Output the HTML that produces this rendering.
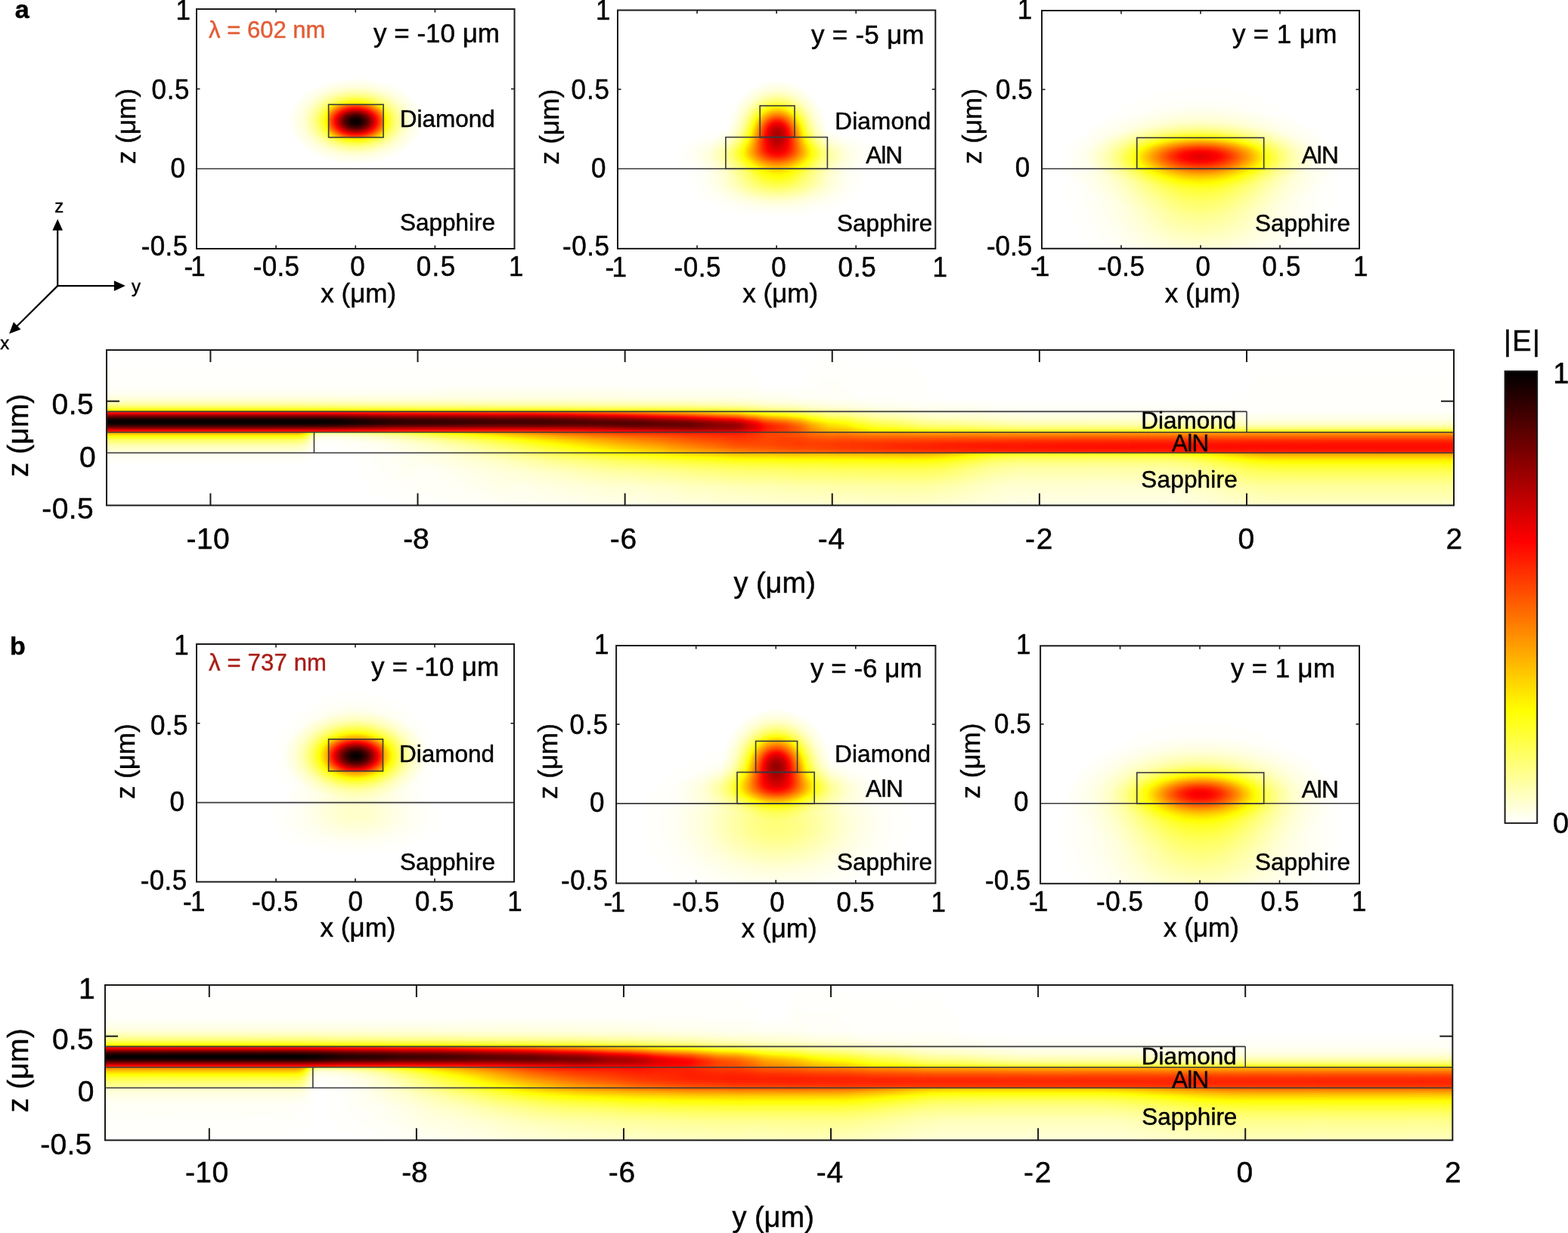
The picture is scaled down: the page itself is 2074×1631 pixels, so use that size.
<!DOCTYPE html>
<html><head><meta charset="utf-8"><title>Mode evolution</title>
<style>html,body{margin:0;padding:0;background:#fff;overflow:hidden}svg{display:block}text{font-family:'Liberation Sans', Arial, Helvetica, sans-serif;stroke:#000;stroke-width:0.45px}</style>
</head><body>
<svg xmlns="http://www.w3.org/2000/svg" width="2074" height="1631" viewBox="0 0 2074 1631">
<defs><filter id="hot" x="0" y="0" width="1" height="1" color-interpolation-filters="sRGB"><feComponentTransfer><feFuncR type="table" tableValues="1 1 1 1 1 1 0.6667 0.3333 0"/><feFuncG type="table" tableValues="1 1 1 0.6667 0.3333 0 0 0 0"/><feFuncB type="table" tableValues="1 0.5 0 0 0 0 0 0 0"/></feComponentTransfer></filter><linearGradient id="g1" gradientUnits="userSpaceOnUse" x1="0" y1="460.27" x2="0" y2="671.23"><stop offset="0.0000" stop-color="#000000"/><stop offset="0.2345" stop-color="#010101"/><stop offset="0.2814" stop-color="#030303"/><stop offset="0.3126" stop-color="#080808"/><stop offset="0.3413" stop-color="#111111"/><stop offset="0.3647" stop-color="#212121"/><stop offset="0.3830" stop-color="#363636"/><stop offset="0.3908" stop-color="#444444"/><stop offset="0.3986" stop-color="#545454"/><stop offset="0.3986" stop-color="#858585"/><stop offset="0.4219" stop-color="#c3c3c3"/><stop offset="0.4375" stop-color="#e6e6e6"/><stop offset="0.4504" stop-color="#f8f8f8"/><stop offset="0.4634" stop-color="#ffffff"/><stop offset="0.4763" stop-color="#f8f8f8"/><stop offset="0.4893" stop-color="#e6e6e6"/><stop offset="0.5048" stop-color="#c3c3c3"/><stop offset="0.5281" stop-color="#858585"/><stop offset="0.5281" stop-color="#6b6b6b"/><stop offset="0.5385" stop-color="#575757"/><stop offset="0.5514" stop-color="#424242"/><stop offset="0.5644" stop-color="#333333"/><stop offset="0.5799" stop-color="#252525"/><stop offset="0.6136" stop-color="#121212"/><stop offset="0.6576" stop-color="#070707"/><stop offset="0.6576" stop-color="#040404"/><stop offset="0.7328" stop-color="#000000"/><stop offset="1.0000" stop-color="#000000"/></linearGradient><linearGradient id="g2" gradientUnits="userSpaceOnUse" x1="0" y1="460.27" x2="0" y2="671.23"><stop offset="0.0000" stop-color="#000000"/><stop offset="0.2345" stop-color="#010101"/><stop offset="0.2814" stop-color="#030303"/><stop offset="0.3126" stop-color="#080808"/><stop offset="0.3413" stop-color="#111111"/><stop offset="0.3647" stop-color="#212121"/><stop offset="0.3830" stop-color="#363636"/><stop offset="0.3908" stop-color="#444444"/><stop offset="0.3986" stop-color="#545454"/><stop offset="0.3986" stop-color="#858585"/><stop offset="0.4219" stop-color="#c3c3c3"/><stop offset="0.4375" stop-color="#e6e6e6"/><stop offset="0.4504" stop-color="#f8f8f8"/><stop offset="0.4634" stop-color="#ffffff"/><stop offset="0.4763" stop-color="#f8f8f8"/><stop offset="0.4893" stop-color="#e6e6e6"/><stop offset="0.5048" stop-color="#c3c3c3"/><stop offset="0.5281" stop-color="#858585"/><stop offset="0.5281" stop-color="#262626"/><stop offset="0.5333" stop-color="#1c1c1c"/><stop offset="0.5411" stop-color="#111111"/><stop offset="0.5514" stop-color="#090909"/><stop offset="0.5618" stop-color="#050505"/><stop offset="0.5903" stop-color="#010101"/><stop offset="0.6576" stop-color="#000000"/><stop offset="1.0000" stop-color="#000000"/></linearGradient><linearGradient id="g3" gradientUnits="userSpaceOnUse" x1="0" y1="460.27" x2="0" y2="671.23"><stop offset="0.0000" stop-color="#000000"/><stop offset="0.2345" stop-color="#010101"/><stop offset="0.2814" stop-color="#030303"/><stop offset="0.3126" stop-color="#070707"/><stop offset="0.3413" stop-color="#111111"/><stop offset="0.3647" stop-color="#202020"/><stop offset="0.3830" stop-color="#363636"/><stop offset="0.3908" stop-color="#434343"/><stop offset="0.3986" stop-color="#545454"/><stop offset="0.3986" stop-color="#848484"/><stop offset="0.4219" stop-color="#c2c2c2"/><stop offset="0.4375" stop-color="#e5e5e5"/><stop offset="0.4504" stop-color="#f7f7f7"/><stop offset="0.4634" stop-color="#fefefe"/><stop offset="0.4763" stop-color="#f7f7f7"/><stop offset="0.4893" stop-color="#e5e5e5"/><stop offset="0.5048" stop-color="#c2c2c2"/><stop offset="0.5281" stop-color="#848484"/><stop offset="0.5281" stop-color="#272727"/><stop offset="0.5333" stop-color="#1d1d1d"/><stop offset="0.5411" stop-color="#121212"/><stop offset="0.5514" stop-color="#0a0a0a"/><stop offset="0.5618" stop-color="#050505"/><stop offset="0.5903" stop-color="#010101"/><stop offset="0.6576" stop-color="#000000"/><stop offset="1.0000" stop-color="#000000"/></linearGradient><linearGradient id="g4" gradientUnits="userSpaceOnUse" x1="0" y1="460.27" x2="0" y2="671.23"><stop offset="0.0000" stop-color="#000000"/><stop offset="0.2345" stop-color="#010101"/><stop offset="0.2814" stop-color="#030303"/><stop offset="0.3126" stop-color="#070707"/><stop offset="0.3413" stop-color="#111111"/><stop offset="0.3647" stop-color="#202020"/><stop offset="0.3830" stop-color="#353535"/><stop offset="0.3908" stop-color="#424242"/><stop offset="0.3986" stop-color="#535353"/><stop offset="0.3986" stop-color="#838383"/><stop offset="0.4219" stop-color="#c0c0c0"/><stop offset="0.4375" stop-color="#e2e2e2"/><stop offset="0.4504" stop-color="#f4f4f4"/><stop offset="0.4634" stop-color="#fbfbfb"/><stop offset="0.4763" stop-color="#f4f4f4"/><stop offset="0.4893" stop-color="#e2e2e2"/><stop offset="0.5048" stop-color="#c0c0c0"/><stop offset="0.5281" stop-color="#838383"/><stop offset="0.5281" stop-color="#292929"/><stop offset="0.5359" stop-color="#1b1b1b"/><stop offset="0.5436" stop-color="#121212"/><stop offset="0.5540" stop-color="#0a0a0a"/><stop offset="0.5644" stop-color="#060606"/><stop offset="0.5929" stop-color="#020202"/><stop offset="0.6576" stop-color="#010101"/><stop offset="0.6576" stop-color="#000000"/><stop offset="1.0000" stop-color="#000000"/></linearGradient><linearGradient id="g5" gradientUnits="userSpaceOnUse" x1="0" y1="460.27" x2="0" y2="671.23"><stop offset="0.0000" stop-color="#000000"/><stop offset="0.2345" stop-color="#010101"/><stop offset="0.2814" stop-color="#030303"/><stop offset="0.3126" stop-color="#070707"/><stop offset="0.3413" stop-color="#101010"/><stop offset="0.3647" stop-color="#1f1f1f"/><stop offset="0.3830" stop-color="#353535"/><stop offset="0.3986" stop-color="#515151"/><stop offset="0.3986" stop-color="#818181"/><stop offset="0.4219" stop-color="#bdbdbd"/><stop offset="0.4375" stop-color="#dedede"/><stop offset="0.4504" stop-color="#f0f0f0"/><stop offset="0.4634" stop-color="#f7f7f7"/><stop offset="0.4763" stop-color="#f1f1f1"/><stop offset="0.4893" stop-color="#dfdfdf"/><stop offset="0.5048" stop-color="#bdbdbd"/><stop offset="0.5281" stop-color="#818181"/><stop offset="0.5281" stop-color="#2c2c2c"/><stop offset="0.5359" stop-color="#1e1e1e"/><stop offset="0.5436" stop-color="#151515"/><stop offset="0.5540" stop-color="#0d0d0d"/><stop offset="0.5670" stop-color="#080808"/><stop offset="0.5980" stop-color="#030303"/><stop offset="0.6576" stop-color="#010101"/><stop offset="1.0000" stop-color="#000000"/></linearGradient><linearGradient id="g6" gradientUnits="userSpaceOnUse" x1="0" y1="460.27" x2="0" y2="671.23"><stop offset="0.0000" stop-color="#000000"/><stop offset="0.2345" stop-color="#010101"/><stop offset="0.2814" stop-color="#030303"/><stop offset="0.3126" stop-color="#070707"/><stop offset="0.3413" stop-color="#101010"/><stop offset="0.3647" stop-color="#1f1f1f"/><stop offset="0.3830" stop-color="#343434"/><stop offset="0.3986" stop-color="#505050"/><stop offset="0.3986" stop-color="#7f7f7f"/><stop offset="0.4219" stop-color="#bababa"/><stop offset="0.4375" stop-color="#dbdbdb"/><stop offset="0.4504" stop-color="#ededed"/><stop offset="0.4634" stop-color="#f3f3f3"/><stop offset="0.4763" stop-color="#ededed"/><stop offset="0.4893" stop-color="#dbdbdb"/><stop offset="0.5048" stop-color="#bbbbbb"/><stop offset="0.5281" stop-color="#808080"/><stop offset="0.5281" stop-color="#303030"/><stop offset="0.5359" stop-color="#232323"/><stop offset="0.5436" stop-color="#1a1a1a"/><stop offset="0.5540" stop-color="#111111"/><stop offset="0.5670" stop-color="#0b0b0b"/><stop offset="0.5980" stop-color="#040404"/><stop offset="0.6576" stop-color="#020202"/><stop offset="1.0000" stop-color="#000000"/></linearGradient><linearGradient id="g7" gradientUnits="userSpaceOnUse" x1="0" y1="460.27" x2="0" y2="671.23"><stop offset="0.0000" stop-color="#000000"/><stop offset="0.2345" stop-color="#010101"/><stop offset="0.2814" stop-color="#030303"/><stop offset="0.3126" stop-color="#070707"/><stop offset="0.3413" stop-color="#101010"/><stop offset="0.3647" stop-color="#1f1f1f"/><stop offset="0.3830" stop-color="#333333"/><stop offset="0.3986" stop-color="#4f4f4f"/><stop offset="0.3986" stop-color="#7d7d7d"/><stop offset="0.4219" stop-color="#b8b8b8"/><stop offset="0.4375" stop-color="#d8d8d8"/><stop offset="0.4504" stop-color="#eaeaea"/><stop offset="0.4634" stop-color="#f0f0f0"/><stop offset="0.4763" stop-color="#eaeaea"/><stop offset="0.4893" stop-color="#d8d8d8"/><stop offset="0.5048" stop-color="#b8b8b8"/><stop offset="0.5281" stop-color="#7e7e7e"/><stop offset="0.5281" stop-color="#353535"/><stop offset="0.5359" stop-color="#282828"/><stop offset="0.5462" stop-color="#1c1c1c"/><stop offset="0.5695" stop-color="#0e0e0e"/><stop offset="0.6006" stop-color="#070707"/><stop offset="0.6576" stop-color="#040404"/><stop offset="0.6576" stop-color="#030303"/><stop offset="1.0000" stop-color="#000000"/></linearGradient><linearGradient id="g8" gradientUnits="userSpaceOnUse" x1="0" y1="460.27" x2="0" y2="671.23"><stop offset="0.0000" stop-color="#000000"/><stop offset="0.2345" stop-color="#010101"/><stop offset="0.2814" stop-color="#030303"/><stop offset="0.3126" stop-color="#070707"/><stop offset="0.3413" stop-color="#101010"/><stop offset="0.3647" stop-color="#1e1e1e"/><stop offset="0.3830" stop-color="#333333"/><stop offset="0.3986" stop-color="#4e4e4e"/><stop offset="0.3986" stop-color="#7c7c7c"/><stop offset="0.4219" stop-color="#b6b6b6"/><stop offset="0.4375" stop-color="#d6d6d6"/><stop offset="0.4504" stop-color="#e8e8e8"/><stop offset="0.4634" stop-color="#eeeeee"/><stop offset="0.4763" stop-color="#e8e8e8"/><stop offset="0.4893" stop-color="#d7d7d7"/><stop offset="0.5048" stop-color="#b7b7b7"/><stop offset="0.5281" stop-color="#7e7e7e"/><stop offset="0.5281" stop-color="#3b3b3b"/><stop offset="0.5359" stop-color="#2e2e2e"/><stop offset="0.5462" stop-color="#222222"/><stop offset="0.5592" stop-color="#181818"/><stop offset="0.5721" stop-color="#121212"/><stop offset="0.6032" stop-color="#0a0a0a"/><stop offset="0.6576" stop-color="#050505"/><stop offset="1.0000" stop-color="#000000"/></linearGradient><linearGradient id="g9" gradientUnits="userSpaceOnUse" x1="0" y1="460.27" x2="0" y2="671.23"><stop offset="0.0000" stop-color="#000000"/><stop offset="0.2345" stop-color="#010101"/><stop offset="0.2814" stop-color="#030303"/><stop offset="0.3126" stop-color="#070707"/><stop offset="0.3413" stop-color="#101010"/><stop offset="0.3647" stop-color="#1e1e1e"/><stop offset="0.3830" stop-color="#323232"/><stop offset="0.3986" stop-color="#4e4e4e"/><stop offset="0.3986" stop-color="#7c7c7c"/><stop offset="0.4219" stop-color="#b6b6b6"/><stop offset="0.4375" stop-color="#d6d6d6"/><stop offset="0.4504" stop-color="#e7e7e7"/><stop offset="0.4634" stop-color="#eeeeee"/><stop offset="0.4763" stop-color="#e8e8e8"/><stop offset="0.4893" stop-color="#d7d7d7"/><stop offset="0.5048" stop-color="#b7b7b7"/><stop offset="0.5281" stop-color="#7e7e7e"/><stop offset="0.5281" stop-color="#414141"/><stop offset="0.5385" stop-color="#323232"/><stop offset="0.5488" stop-color="#272727"/><stop offset="0.5747" stop-color="#161616"/><stop offset="0.6058" stop-color="#0d0d0d"/><stop offset="0.6576" stop-color="#080808"/><stop offset="0.6576" stop-color="#070707"/><stop offset="0.7743" stop-color="#020202"/><stop offset="1.0000" stop-color="#010101"/></linearGradient><linearGradient id="g10" gradientUnits="userSpaceOnUse" x1="0" y1="460.27" x2="0" y2="671.23"><stop offset="0.0000" stop-color="#000000"/><stop offset="0.2345" stop-color="#010101"/><stop offset="0.3126" stop-color="#070707"/><stop offset="0.3413" stop-color="#101010"/><stop offset="0.3647" stop-color="#1e1e1e"/><stop offset="0.3830" stop-color="#323232"/><stop offset="0.3986" stop-color="#4e4e4e"/><stop offset="0.3986" stop-color="#7b7b7b"/><stop offset="0.4219" stop-color="#b5b5b5"/><stop offset="0.4375" stop-color="#d5d5d5"/><stop offset="0.4504" stop-color="#e7e7e7"/><stop offset="0.4634" stop-color="#ededed"/><stop offset="0.4763" stop-color="#e7e7e7"/><stop offset="0.4893" stop-color="#d6d6d6"/><stop offset="0.5048" stop-color="#b7b7b7"/><stop offset="0.5281" stop-color="#7e7e7e"/><stop offset="0.5281" stop-color="#484848"/><stop offset="0.5385" stop-color="#393939"/><stop offset="0.5488" stop-color="#2e2e2e"/><stop offset="0.5747" stop-color="#1c1c1c"/><stop offset="0.6084" stop-color="#111111"/><stop offset="0.6576" stop-color="#0a0a0a"/><stop offset="0.6576" stop-color="#090909"/><stop offset="0.7743" stop-color="#030303"/><stop offset="1.0000" stop-color="#010101"/></linearGradient><linearGradient id="g11" gradientUnits="userSpaceOnUse" x1="0" y1="460.27" x2="0" y2="671.23"><stop offset="0.0000" stop-color="#000000"/><stop offset="0.2345" stop-color="#010101"/><stop offset="0.3126" stop-color="#070707"/><stop offset="0.3413" stop-color="#101010"/><stop offset="0.3647" stop-color="#1e1e1e"/><stop offset="0.3830" stop-color="#323232"/><stop offset="0.3986" stop-color="#4e4e4e"/><stop offset="0.3986" stop-color="#7b7b7b"/><stop offset="0.4219" stop-color="#b4b4b4"/><stop offset="0.4375" stop-color="#d4d4d4"/><stop offset="0.4504" stop-color="#e5e5e5"/><stop offset="0.4634" stop-color="#ececec"/><stop offset="0.4763" stop-color="#e6e6e6"/><stop offset="0.4893" stop-color="#d5d5d5"/><stop offset="0.5048" stop-color="#b6b6b6"/><stop offset="0.5281" stop-color="#7e7e7e"/><stop offset="0.5281" stop-color="#4f4f4f"/><stop offset="0.5385" stop-color="#404040"/><stop offset="0.5514" stop-color="#333333"/><stop offset="0.5773" stop-color="#212121"/><stop offset="0.6110" stop-color="#151515"/><stop offset="0.6576" stop-color="#0d0d0d"/><stop offset="0.6576" stop-color="#0c0c0c"/><stop offset="0.7769" stop-color="#040404"/><stop offset="1.0000" stop-color="#010101"/></linearGradient><linearGradient id="g12" gradientUnits="userSpaceOnUse" x1="0" y1="460.27" x2="0" y2="671.23"><stop offset="0.0000" stop-color="#000000"/><stop offset="0.2345" stop-color="#010101"/><stop offset="0.3126" stop-color="#070707"/><stop offset="0.3413" stop-color="#0f0f0f"/><stop offset="0.3647" stop-color="#1e1e1e"/><stop offset="0.3830" stop-color="#323232"/><stop offset="0.3986" stop-color="#4d4d4d"/><stop offset="0.3986" stop-color="#7a7a7a"/><stop offset="0.4219" stop-color="#b3b3b3"/><stop offset="0.4375" stop-color="#d3d3d3"/><stop offset="0.4504" stop-color="#e4e4e4"/><stop offset="0.4634" stop-color="#eaeaea"/><stop offset="0.4763" stop-color="#e4e4e4"/><stop offset="0.4893" stop-color="#d4d4d4"/><stop offset="0.5048" stop-color="#b5b5b5"/><stop offset="0.5281" stop-color="#7e7e7e"/><stop offset="0.5281" stop-color="#565656"/><stop offset="0.5385" stop-color="#484848"/><stop offset="0.5514" stop-color="#3a3a3a"/><stop offset="0.5773" stop-color="#272727"/><stop offset="0.6110" stop-color="#1a1a1a"/><stop offset="0.6576" stop-color="#101010"/><stop offset="0.7095" stop-color="#0a0a0a"/><stop offset="0.7769" stop-color="#060606"/><stop offset="1.0000" stop-color="#010101"/></linearGradient><linearGradient id="g13" gradientUnits="userSpaceOnUse" x1="0" y1="460.27" x2="0" y2="671.23"><stop offset="0.0000" stop-color="#000000"/><stop offset="0.2345" stop-color="#010101"/><stop offset="0.3126" stop-color="#070707"/><stop offset="0.3413" stop-color="#0f0f0f"/><stop offset="0.3647" stop-color="#1e1e1e"/><stop offset="0.3830" stop-color="#313131"/><stop offset="0.3986" stop-color="#4d4d4d"/><stop offset="0.3986" stop-color="#797979"/><stop offset="0.4219" stop-color="#b2b2b2"/><stop offset="0.4375" stop-color="#d1d1d1"/><stop offset="0.4504" stop-color="#e2e2e2"/><stop offset="0.4634" stop-color="#e9e9e9"/><stop offset="0.4763" stop-color="#e3e3e3"/><stop offset="0.4893" stop-color="#d3d3d3"/><stop offset="0.5048" stop-color="#b4b4b4"/><stop offset="0.5281" stop-color="#7e7e7e"/><stop offset="0.5281" stop-color="#5d5d5d"/><stop offset="0.5514" stop-color="#414141"/><stop offset="0.5773" stop-color="#2e2e2e"/><stop offset="0.6110" stop-color="#202020"/><stop offset="0.6576" stop-color="#141414"/><stop offset="0.6576" stop-color="#151515"/><stop offset="0.7095" stop-color="#0c0c0c"/><stop offset="0.7769" stop-color="#070707"/><stop offset="1.0000" stop-color="#010101"/></linearGradient><linearGradient id="g14" gradientUnits="userSpaceOnUse" x1="0" y1="460.27" x2="0" y2="671.23"><stop offset="0.0000" stop-color="#000000"/><stop offset="0.2345" stop-color="#010101"/><stop offset="0.3126" stop-color="#070707"/><stop offset="0.3413" stop-color="#0f0f0f"/><stop offset="0.3647" stop-color="#1d1d1d"/><stop offset="0.3830" stop-color="#313131"/><stop offset="0.3986" stop-color="#4c4c4c"/><stop offset="0.3986" stop-color="#787878"/><stop offset="0.4219" stop-color="#b1b1b1"/><stop offset="0.4375" stop-color="#d0d0d0"/><stop offset="0.4504" stop-color="#e1e1e1"/><stop offset="0.4634" stop-color="#e8e8e8"/><stop offset="0.4763" stop-color="#e2e2e2"/><stop offset="0.4893" stop-color="#d2d2d2"/><stop offset="0.5048" stop-color="#b4b4b4"/><stop offset="0.5281" stop-color="#7e7e7e"/><stop offset="0.5281" stop-color="#646464"/><stop offset="0.5514" stop-color="#494949"/><stop offset="0.5773" stop-color="#353535"/><stop offset="0.6110" stop-color="#262626"/><stop offset="0.6576" stop-color="#181818"/><stop offset="0.6576" stop-color="#1a1a1a"/><stop offset="0.7095" stop-color="#0f0f0f"/><stop offset="0.7769" stop-color="#090909"/><stop offset="1.0000" stop-color="#020202"/></linearGradient><linearGradient id="g15" gradientUnits="userSpaceOnUse" x1="0" y1="460.27" x2="0" y2="671.23"><stop offset="0.0000" stop-color="#000000"/><stop offset="0.2345" stop-color="#010101"/><stop offset="0.3126" stop-color="#070707"/><stop offset="0.3413" stop-color="#0f0f0f"/><stop offset="0.3647" stop-color="#1d1d1d"/><stop offset="0.3830" stop-color="#313131"/><stop offset="0.3986" stop-color="#4c4c4c"/><stop offset="0.3986" stop-color="#787878"/><stop offset="0.4219" stop-color="#b1b1b1"/><stop offset="0.4375" stop-color="#d0d0d0"/><stop offset="0.4504" stop-color="#e1e1e1"/><stop offset="0.4634" stop-color="#e7e7e7"/><stop offset="0.4763" stop-color="#e2e2e2"/><stop offset="0.4893" stop-color="#d2d2d2"/><stop offset="0.5048" stop-color="#b4b4b4"/><stop offset="0.5281" stop-color="#7f7f7f"/><stop offset="0.5281" stop-color="#6b6b6b"/><stop offset="0.5514" stop-color="#515151"/><stop offset="0.5799" stop-color="#3b3b3b"/><stop offset="0.6136" stop-color="#2b2b2b"/><stop offset="0.6576" stop-color="#1d1d1d"/><stop offset="0.6576" stop-color="#1f1f1f"/><stop offset="0.7095" stop-color="#131313"/><stop offset="0.7795" stop-color="#0a0a0a"/><stop offset="0.8703" stop-color="#050505"/><stop offset="1.0000" stop-color="#020202"/></linearGradient><linearGradient id="g16" gradientUnits="userSpaceOnUse" x1="0" y1="460.27" x2="0" y2="671.23"><stop offset="0.0000" stop-color="#000000"/><stop offset="0.2345" stop-color="#010101"/><stop offset="0.3126" stop-color="#070707"/><stop offset="0.3413" stop-color="#0f0f0f"/><stop offset="0.3647" stop-color="#1d1d1d"/><stop offset="0.3830" stop-color="#313131"/><stop offset="0.3986" stop-color="#4c4c4c"/><stop offset="0.3986" stop-color="#787878"/><stop offset="0.4219" stop-color="#b0b0b0"/><stop offset="0.4375" stop-color="#cfcfcf"/><stop offset="0.4504" stop-color="#e1e1e1"/><stop offset="0.4634" stop-color="#e7e7e7"/><stop offset="0.4763" stop-color="#e2e2e2"/><stop offset="0.4893" stop-color="#d2d2d2"/><stop offset="0.5022" stop-color="#bababa"/><stop offset="0.5281" stop-color="#808080"/><stop offset="0.5281" stop-color="#737373"/><stop offset="0.5514" stop-color="#585858"/><stop offset="0.5799" stop-color="#434343"/><stop offset="0.6136" stop-color="#323232"/><stop offset="0.6576" stop-color="#222222"/><stop offset="0.6576" stop-color="#252525"/><stop offset="0.7095" stop-color="#161616"/><stop offset="0.7795" stop-color="#0c0c0c"/><stop offset="0.8703" stop-color="#060606"/><stop offset="1.0000" stop-color="#020202"/></linearGradient><linearGradient id="g17" gradientUnits="userSpaceOnUse" x1="0" y1="460.27" x2="0" y2="671.23"><stop offset="0.0000" stop-color="#000000"/><stop offset="0.2345" stop-color="#010101"/><stop offset="0.3126" stop-color="#070707"/><stop offset="0.3413" stop-color="#0f0f0f"/><stop offset="0.3647" stop-color="#1d1d1d"/><stop offset="0.3830" stop-color="#313131"/><stop offset="0.3986" stop-color="#4b4b4b"/><stop offset="0.3986" stop-color="#767676"/><stop offset="0.4219" stop-color="#aeaeae"/><stop offset="0.4375" stop-color="#cdcdcd"/><stop offset="0.4504" stop-color="#dfdfdf"/><stop offset="0.4634" stop-color="#e6e6e6"/><stop offset="0.4763" stop-color="#e1e1e1"/><stop offset="0.4893" stop-color="#d2d2d2"/><stop offset="0.5048" stop-color="#b5b5b5"/><stop offset="0.5281" stop-color="#828282"/><stop offset="0.5281" stop-color="#797979"/><stop offset="0.5514" stop-color="#5f5f5f"/><stop offset="0.5773" stop-color="#4b4b4b"/><stop offset="0.6110" stop-color="#3a3a3a"/><stop offset="0.6576" stop-color="#282828"/><stop offset="0.6576" stop-color="#2b2b2b"/><stop offset="0.7095" stop-color="#1a1a1a"/><stop offset="0.7795" stop-color="#0e0e0e"/><stop offset="0.8703" stop-color="#070707"/><stop offset="1.0000" stop-color="#030303"/></linearGradient><linearGradient id="g18" gradientUnits="userSpaceOnUse" x1="0" y1="460.27" x2="0" y2="671.23"><stop offset="0.0000" stop-color="#000000"/><stop offset="0.2345" stop-color="#010101"/><stop offset="0.3126" stop-color="#070707"/><stop offset="0.3413" stop-color="#0f0f0f"/><stop offset="0.3647" stop-color="#1d1d1d"/><stop offset="0.3830" stop-color="#303030"/><stop offset="0.3986" stop-color="#4b4b4b"/><stop offset="0.3986" stop-color="#737373"/><stop offset="0.4219" stop-color="#ababab"/><stop offset="0.4375" stop-color="#cacaca"/><stop offset="0.4504" stop-color="#dcdcdc"/><stop offset="0.4634" stop-color="#e4e4e4"/><stop offset="0.4763" stop-color="#e0e0e0"/><stop offset="0.4893" stop-color="#d2d2d2"/><stop offset="0.5048" stop-color="#b7b7b7"/><stop offset="0.5281" stop-color="#848484"/><stop offset="0.5281" stop-color="#7f7f7f"/><stop offset="0.5514" stop-color="#666666"/><stop offset="0.5773" stop-color="#525252"/><stop offset="0.6110" stop-color="#404040"/><stop offset="0.6576" stop-color="#2d2d2d"/><stop offset="0.6576" stop-color="#303030"/><stop offset="0.7095" stop-color="#1d1d1d"/><stop offset="0.7769" stop-color="#101010"/><stop offset="0.8703" stop-color="#080808"/><stop offset="1.0000" stop-color="#030303"/></linearGradient><linearGradient id="g19" gradientUnits="userSpaceOnUse" x1="0" y1="460.27" x2="0" y2="671.23"><stop offset="0.0000" stop-color="#000000"/><stop offset="0.2345" stop-color="#010101"/><stop offset="0.3126" stop-color="#070707"/><stop offset="0.3413" stop-color="#0f0f0f"/><stop offset="0.3647" stop-color="#1d1d1d"/><stop offset="0.3830" stop-color="#303030"/><stop offset="0.3986" stop-color="#4a4a4a"/><stop offset="0.3986" stop-color="#6f6f6f"/><stop offset="0.4245" stop-color="#adadad"/><stop offset="0.4375" stop-color="#c7c7c7"/><stop offset="0.4504" stop-color="#d9d9d9"/><stop offset="0.4634" stop-color="#e2e2e2"/><stop offset="0.4763" stop-color="#e0e0e0"/><stop offset="0.4893" stop-color="#d3d3d3"/><stop offset="0.5048" stop-color="#b8b8b8"/><stop offset="0.5281" stop-color="#878787"/><stop offset="0.5281" stop-color="#848484"/><stop offset="0.5514" stop-color="#6c6c6c"/><stop offset="0.5773" stop-color="#595959"/><stop offset="0.6084" stop-color="#484848"/><stop offset="0.6576" stop-color="#333333"/><stop offset="0.6576" stop-color="#363636"/><stop offset="0.6810" stop-color="#2a2a2a"/><stop offset="0.7095" stop-color="#202020"/><stop offset="0.7769" stop-color="#121212"/><stop offset="0.8703" stop-color="#090909"/><stop offset="1.0000" stop-color="#030303"/></linearGradient><linearGradient id="g20" gradientUnits="userSpaceOnUse" x1="0" y1="460.27" x2="0" y2="671.23"><stop offset="0.0000" stop-color="#000000"/><stop offset="0.2345" stop-color="#010101"/><stop offset="0.3126" stop-color="#070707"/><stop offset="0.3413" stop-color="#0f0f0f"/><stop offset="0.3647" stop-color="#1c1c1c"/><stop offset="0.3830" stop-color="#2f2f2f"/><stop offset="0.3986" stop-color="#4a4a4a"/><stop offset="0.3986" stop-color="#6c6c6c"/><stop offset="0.4245" stop-color="#a8a8a8"/><stop offset="0.4400" stop-color="#c7c7c7"/><stop offset="0.4530" stop-color="#d9d9d9"/><stop offset="0.4659" stop-color="#e1e1e1"/><stop offset="0.4789" stop-color="#dddddd"/><stop offset="0.4918" stop-color="#d0d0d0"/><stop offset="0.5048" stop-color="#bababa"/><stop offset="0.5281" stop-color="#8b8b8b"/><stop offset="0.5281" stop-color="#888888"/><stop offset="0.5488" stop-color="#737373"/><stop offset="0.5747" stop-color="#606060"/><stop offset="0.6058" stop-color="#505050"/><stop offset="0.6576" stop-color="#383838"/><stop offset="0.6576" stop-color="#3b3b3b"/><stop offset="0.6810" stop-color="#2e2e2e"/><stop offset="0.7095" stop-color="#232323"/><stop offset="0.7769" stop-color="#141414"/><stop offset="0.8703" stop-color="#0a0a0a"/><stop offset="1.0000" stop-color="#040404"/></linearGradient><linearGradient id="g21" gradientUnits="userSpaceOnUse" x1="0" y1="460.27" x2="0" y2="671.23"><stop offset="0.0000" stop-color="#000000"/><stop offset="0.2345" stop-color="#010101"/><stop offset="0.3126" stop-color="#070707"/><stop offset="0.3413" stop-color="#0f0f0f"/><stop offset="0.3647" stop-color="#1c1c1c"/><stop offset="0.3830" stop-color="#2f2f2f"/><stop offset="0.3986" stop-color="#494949"/><stop offset="0.3986" stop-color="#686868"/><stop offset="0.4271" stop-color="#aaaaaa"/><stop offset="0.4400" stop-color="#c4c4c4"/><stop offset="0.4530" stop-color="#d7d7d7"/><stop offset="0.4659" stop-color="#e0e0e0"/><stop offset="0.4789" stop-color="#dedede"/><stop offset="0.4918" stop-color="#d2d2d2"/><stop offset="0.5048" stop-color="#bebebe"/><stop offset="0.5281" stop-color="#909090"/><stop offset="0.5281" stop-color="#8c8c8c"/><stop offset="0.5488" stop-color="#787878"/><stop offset="0.5721" stop-color="#676767"/><stop offset="0.6576" stop-color="#3e3e3e"/><stop offset="0.6576" stop-color="#404040"/><stop offset="0.6810" stop-color="#323232"/><stop offset="0.7095" stop-color="#262626"/><stop offset="0.7769" stop-color="#161616"/><stop offset="0.8703" stop-color="#0b0b0b"/><stop offset="1.0000" stop-color="#040404"/></linearGradient><linearGradient id="g22" gradientUnits="userSpaceOnUse" x1="0" y1="460.27" x2="0" y2="671.23"><stop offset="0.0000" stop-color="#000000"/><stop offset="0.2345" stop-color="#010101"/><stop offset="0.3126" stop-color="#070707"/><stop offset="0.3413" stop-color="#0f0f0f"/><stop offset="0.3647" stop-color="#1c1c1c"/><stop offset="0.3830" stop-color="#2f2f2f"/><stop offset="0.3986" stop-color="#494949"/><stop offset="0.3986" stop-color="#646464"/><stop offset="0.4271" stop-color="#a6a6a6"/><stop offset="0.4400" stop-color="#c1c1c1"/><stop offset="0.4530" stop-color="#d5d5d5"/><stop offset="0.4659" stop-color="#dfdfdf"/><stop offset="0.4789" stop-color="#dfdfdf"/><stop offset="0.4918" stop-color="#d5d5d5"/><stop offset="0.5074" stop-color="#bdbdbd"/><stop offset="0.5281" stop-color="#969696"/><stop offset="0.5281" stop-color="#909090"/><stop offset="0.5462" stop-color="#7f7f7f"/><stop offset="0.5695" stop-color="#6e6e6e"/><stop offset="0.6576" stop-color="#434343"/><stop offset="0.6576" stop-color="#444444"/><stop offset="0.6810" stop-color="#353535"/><stop offset="0.7095" stop-color="#292929"/><stop offset="0.7769" stop-color="#171717"/><stop offset="0.8703" stop-color="#0b0b0b"/><stop offset="1.0000" stop-color="#050505"/></linearGradient><linearGradient id="g23" gradientUnits="userSpaceOnUse" x1="0" y1="460.27" x2="0" y2="671.23"><stop offset="0.0000" stop-color="#000000"/><stop offset="0.2345" stop-color="#010101"/><stop offset="0.3126" stop-color="#060606"/><stop offset="0.3413" stop-color="#0e0e0e"/><stop offset="0.3647" stop-color="#1c1c1c"/><stop offset="0.3830" stop-color="#2f2f2f"/><stop offset="0.3986" stop-color="#484848"/><stop offset="0.3986" stop-color="#5f5f5f"/><stop offset="0.4271" stop-color="#a0a0a0"/><stop offset="0.4400" stop-color="#bbbbbb"/><stop offset="0.4530" stop-color="#d1d1d1"/><stop offset="0.4659" stop-color="#dddddd"/><stop offset="0.4789" stop-color="#dedede"/><stop offset="0.4918" stop-color="#d5d5d5"/><stop offset="0.5074" stop-color="#c0c0c0"/><stop offset="0.5281" stop-color="#9b9b9b"/><stop offset="0.5281" stop-color="#929292"/><stop offset="0.5462" stop-color="#828282"/><stop offset="0.5670" stop-color="#747474"/><stop offset="0.6576" stop-color="#494949"/><stop offset="0.6576" stop-color="#474747"/><stop offset="0.6810" stop-color="#383838"/><stop offset="0.7095" stop-color="#2b2b2b"/><stop offset="0.7406" stop-color="#212121"/><stop offset="0.7769" stop-color="#191919"/><stop offset="0.8703" stop-color="#0c0c0c"/><stop offset="1.0000" stop-color="#050505"/></linearGradient><linearGradient id="g24" gradientUnits="userSpaceOnUse" x1="0" y1="460.27" x2="0" y2="671.23"><stop offset="0.0000" stop-color="#000000"/><stop offset="0.2345" stop-color="#010101"/><stop offset="0.3126" stop-color="#060606"/><stop offset="0.3413" stop-color="#0e0e0e"/><stop offset="0.3647" stop-color="#1b1b1b"/><stop offset="0.3830" stop-color="#2e2e2e"/><stop offset="0.3986" stop-color="#474747"/><stop offset="0.3986" stop-color="#595959"/><stop offset="0.4297" stop-color="#9f9f9f"/><stop offset="0.4426" stop-color="#bababa"/><stop offset="0.4556" stop-color="#cecece"/><stop offset="0.4685" stop-color="#d9d9d9"/><stop offset="0.4815" stop-color="#dbdbdb"/><stop offset="0.4944" stop-color="#d2d2d2"/><stop offset="0.5074" stop-color="#c2c2c2"/><stop offset="0.5281" stop-color="#9f9f9f"/><stop offset="0.5281" stop-color="#949494"/><stop offset="0.5462" stop-color="#858585"/><stop offset="0.5644" stop-color="#797979"/><stop offset="0.6576" stop-color="#4e4e4e"/><stop offset="0.6576" stop-color="#4b4b4b"/><stop offset="0.6810" stop-color="#3b3b3b"/><stop offset="0.7069" stop-color="#2f2f2f"/><stop offset="0.7380" stop-color="#242424"/><stop offset="0.7769" stop-color="#1a1a1a"/><stop offset="0.8703" stop-color="#0d0d0d"/><stop offset="1.0000" stop-color="#060606"/></linearGradient><linearGradient id="g25" gradientUnits="userSpaceOnUse" x1="0" y1="460.27" x2="0" y2="671.23"><stop offset="0.0000" stop-color="#000000"/><stop offset="0.2345" stop-color="#010101"/><stop offset="0.3126" stop-color="#060606"/><stop offset="0.3413" stop-color="#0e0e0e"/><stop offset="0.3647" stop-color="#1b1b1b"/><stop offset="0.3830" stop-color="#2d2d2d"/><stop offset="0.3986" stop-color="#464646"/><stop offset="0.3986" stop-color="#545454"/><stop offset="0.4323" stop-color="#9f9f9f"/><stop offset="0.4452" stop-color="#b9b9b9"/><stop offset="0.4582" stop-color="#cdcdcd"/><stop offset="0.4685" stop-color="#d6d6d6"/><stop offset="0.4815" stop-color="#dadada"/><stop offset="0.4944" stop-color="#d3d3d3"/><stop offset="0.5074" stop-color="#c4c4c4"/><stop offset="0.5281" stop-color="#a4a4a4"/><stop offset="0.5281" stop-color="#969696"/><stop offset="0.5436" stop-color="#8a8a8a"/><stop offset="0.5618" stop-color="#7f7f7f"/><stop offset="0.6239" stop-color="#656565"/><stop offset="0.6576" stop-color="#545454"/><stop offset="0.6576" stop-color="#4f4f4f"/><stop offset="0.6810" stop-color="#3f3f3f"/><stop offset="0.7069" stop-color="#313131"/><stop offset="0.7380" stop-color="#262626"/><stop offset="0.7743" stop-color="#1c1c1c"/><stop offset="0.8677" stop-color="#0e0e0e"/><stop offset="1.0000" stop-color="#060606"/></linearGradient><linearGradient id="g26" gradientUnits="userSpaceOnUse" x1="0" y1="460.27" x2="0" y2="671.23"><stop offset="0.0000" stop-color="#000000"/><stop offset="0.2345" stop-color="#010101"/><stop offset="0.3126" stop-color="#060606"/><stop offset="0.3413" stop-color="#0e0e0e"/><stop offset="0.3647" stop-color="#1b1b1b"/><stop offset="0.3830" stop-color="#2d2d2d"/><stop offset="0.3986" stop-color="#454545"/><stop offset="0.3986" stop-color="#4f4f4f"/><stop offset="0.4452" stop-color="#b3b3b3"/><stop offset="0.4582" stop-color="#c8c8c8"/><stop offset="0.4711" stop-color="#d5d5d5"/><stop offset="0.4841" stop-color="#d8d8d8"/><stop offset="0.4970" stop-color="#d1d1d1"/><stop offset="0.5100" stop-color="#c3c3c3"/><stop offset="0.5281" stop-color="#a8a8a8"/><stop offset="0.5281" stop-color="#999999"/><stop offset="0.5566" stop-color="#868686"/><stop offset="0.6213" stop-color="#6c6c6c"/><stop offset="0.6576" stop-color="#5a5a5a"/><stop offset="0.6576" stop-color="#535353"/><stop offset="0.6810" stop-color="#424242"/><stop offset="0.7069" stop-color="#343434"/><stop offset="0.7380" stop-color="#282828"/><stop offset="0.7743" stop-color="#1e1e1e"/><stop offset="0.8677" stop-color="#101010"/><stop offset="1.0000" stop-color="#070707"/></linearGradient><linearGradient id="g27" gradientUnits="userSpaceOnUse" x1="0" y1="460.27" x2="0" y2="671.23"><stop offset="0.0000" stop-color="#000000"/><stop offset="0.2345" stop-color="#010101"/><stop offset="0.3126" stop-color="#060606"/><stop offset="0.3413" stop-color="#0d0d0d"/><stop offset="0.3647" stop-color="#1a1a1a"/><stop offset="0.3830" stop-color="#2b2b2b"/><stop offset="0.3986" stop-color="#424242"/><stop offset="0.3986" stop-color="#494949"/><stop offset="0.4478" stop-color="#aeaeae"/><stop offset="0.4608" stop-color="#c2c2c2"/><stop offset="0.4711" stop-color="#cccccc"/><stop offset="0.4841" stop-color="#d1d1d1"/><stop offset="0.4970" stop-color="#cdcdcd"/><stop offset="0.5100" stop-color="#c1c1c1"/><stop offset="0.5281" stop-color="#a9a9a9"/><stop offset="0.5281" stop-color="#989898"/><stop offset="0.5514" stop-color="#8b8b8b"/><stop offset="0.6188" stop-color="#737373"/><stop offset="0.6576" stop-color="#5f5f5f"/><stop offset="0.6576" stop-color="#575757"/><stop offset="0.6810" stop-color="#444444"/><stop offset="0.7069" stop-color="#363636"/><stop offset="0.7380" stop-color="#2a2a2a"/><stop offset="0.7743" stop-color="#202020"/><stop offset="0.8677" stop-color="#101010"/><stop offset="1.0000" stop-color="#070707"/></linearGradient><linearGradient id="g28" gradientUnits="userSpaceOnUse" x1="0" y1="460.27" x2="0" y2="671.23"><stop offset="0.0000" stop-color="#000000"/><stop offset="0.2345" stop-color="#010101"/><stop offset="0.3126" stop-color="#060606"/><stop offset="0.3413" stop-color="#0d0d0d"/><stop offset="0.3647" stop-color="#191919"/><stop offset="0.3830" stop-color="#292929"/><stop offset="0.3986" stop-color="#404040"/><stop offset="0.3986" stop-color="#434343"/><stop offset="0.4116" stop-color="#5b5b5b"/><stop offset="0.4478" stop-color="#a5a5a5"/><stop offset="0.4608" stop-color="#b9b9b9"/><stop offset="0.4711" stop-color="#c5c5c5"/><stop offset="0.4841" stop-color="#cbcbcb"/><stop offset="0.4970" stop-color="#c8c8c8"/><stop offset="0.5100" stop-color="#bfbfbf"/><stop offset="0.5281" stop-color="#aaaaaa"/><stop offset="0.5281" stop-color="#999999"/><stop offset="0.5540" stop-color="#8c8c8c"/><stop offset="0.6188" stop-color="#787878"/><stop offset="0.6576" stop-color="#646464"/><stop offset="0.6576" stop-color="#5a5a5a"/><stop offset="0.6810" stop-color="#474747"/><stop offset="0.7069" stop-color="#383838"/><stop offset="0.7380" stop-color="#2b2b2b"/><stop offset="0.7743" stop-color="#212121"/><stop offset="0.8677" stop-color="#111111"/><stop offset="1.0000" stop-color="#080808"/></linearGradient><linearGradient id="g29" gradientUnits="userSpaceOnUse" x1="0" y1="460.27" x2="0" y2="671.23"><stop offset="0.0000" stop-color="#000000"/><stop offset="0.2345" stop-color="#010101"/><stop offset="0.3126" stop-color="#060606"/><stop offset="0.3413" stop-color="#0c0c0c"/><stop offset="0.3647" stop-color="#181818"/><stop offset="0.3830" stop-color="#282828"/><stop offset="0.3986" stop-color="#3e3e3e"/><stop offset="0.3986" stop-color="#3f3f3f"/><stop offset="0.4116" stop-color="#565656"/><stop offset="0.4504" stop-color="#a3a3a3"/><stop offset="0.4634" stop-color="#b6b6b6"/><stop offset="0.4737" stop-color="#c1c1c1"/><stop offset="0.4841" stop-color="#c7c7c7"/><stop offset="0.4970" stop-color="#c6c6c6"/><stop offset="0.5100" stop-color="#bebebe"/><stop offset="0.5281" stop-color="#acacac"/><stop offset="0.5281" stop-color="#9a9a9a"/><stop offset="0.5514" stop-color="#909090"/><stop offset="0.6162" stop-color="#7f7f7f"/><stop offset="0.6576" stop-color="#6a6a6a"/><stop offset="0.6576" stop-color="#5e5e5e"/><stop offset="0.6810" stop-color="#4a4a4a"/><stop offset="0.7069" stop-color="#3b3b3b"/><stop offset="0.7380" stop-color="#2d2d2d"/><stop offset="0.7743" stop-color="#232323"/><stop offset="0.8703" stop-color="#121212"/><stop offset="1.0000" stop-color="#080808"/></linearGradient><linearGradient id="g30" gradientUnits="userSpaceOnUse" x1="0" y1="460.27" x2="0" y2="671.23"><stop offset="0.0000" stop-color="#000000"/><stop offset="0.2345" stop-color="#010101"/><stop offset="0.3126" stop-color="#050505"/><stop offset="0.3413" stop-color="#0b0b0b"/><stop offset="0.3647" stop-color="#151515"/><stop offset="0.3830" stop-color="#232323"/><stop offset="0.3986" stop-color="#363636"/><stop offset="0.3986" stop-color="#343434"/><stop offset="0.4141" stop-color="#4c4c4c"/><stop offset="0.4530" stop-color="#909090"/><stop offset="0.4634" stop-color="#9e9e9e"/><stop offset="0.4737" stop-color="#a8a8a8"/><stop offset="0.4841" stop-color="#aeaeae"/><stop offset="0.4970" stop-color="#b0b0b0"/><stop offset="0.5100" stop-color="#ababab"/><stop offset="0.5281" stop-color="#9f9f9f"/><stop offset="0.5281" stop-color="#919191"/><stop offset="0.6110" stop-color="#828282"/><stop offset="0.6343" stop-color="#7a7a7a"/><stop offset="0.6576" stop-color="#6d6d6d"/><stop offset="0.6576" stop-color="#5e5e5e"/><stop offset="0.6810" stop-color="#4b4b4b"/><stop offset="0.7069" stop-color="#3b3b3b"/><stop offset="0.7380" stop-color="#2e2e2e"/><stop offset="0.7743" stop-color="#232323"/><stop offset="0.8703" stop-color="#131313"/><stop offset="1.0000" stop-color="#080808"/></linearGradient><linearGradient id="g31" gradientUnits="userSpaceOnUse" x1="0" y1="460.27" x2="0" y2="671.23"><stop offset="0.0000" stop-color="#000000"/><stop offset="0.2345" stop-color="#000000"/><stop offset="0.3126" stop-color="#040404"/><stop offset="0.3413" stop-color="#090909"/><stop offset="0.3647" stop-color="#111111"/><stop offset="0.3830" stop-color="#1d1d1d"/><stop offset="0.3986" stop-color="#2d2d2d"/><stop offset="0.3986" stop-color="#2a2a2a"/><stop offset="0.4167" stop-color="#414141"/><stop offset="0.4530" stop-color="#767676"/><stop offset="0.4737" stop-color="#8c8c8c"/><stop offset="0.4841" stop-color="#929292"/><stop offset="0.4970" stop-color="#959595"/><stop offset="0.5100" stop-color="#949494"/><stop offset="0.5281" stop-color="#8e8e8e"/><stop offset="0.5281" stop-color="#868686"/><stop offset="0.6084" stop-color="#848484"/><stop offset="0.6317" stop-color="#7d7d7d"/><stop offset="0.6576" stop-color="#707070"/><stop offset="0.6576" stop-color="#5e5e5e"/><stop offset="0.6784" stop-color="#4c4c4c"/><stop offset="0.7043" stop-color="#3c3c3c"/><stop offset="0.7354" stop-color="#2f2f2f"/><stop offset="0.7717" stop-color="#242424"/><stop offset="0.8677" stop-color="#131313"/><stop offset="1.0000" stop-color="#090909"/></linearGradient><linearGradient id="g32" gradientUnits="userSpaceOnUse" x1="0" y1="460.27" x2="0" y2="671.23"><stop offset="0.0000" stop-color="#000000"/><stop offset="0.2345" stop-color="#000000"/><stop offset="0.3126" stop-color="#040404"/><stop offset="0.3413" stop-color="#080808"/><stop offset="0.3647" stop-color="#101010"/><stop offset="0.3830" stop-color="#1a1a1a"/><stop offset="0.3986" stop-color="#292929"/><stop offset="0.3986" stop-color="#262626"/><stop offset="0.4167" stop-color="#3b3b3b"/><stop offset="0.4556" stop-color="#6f6f6f"/><stop offset="0.4737" stop-color="#818181"/><stop offset="0.4841" stop-color="#888888"/><stop offset="0.4970" stop-color="#8c8c8c"/><stop offset="0.5281" stop-color="#898989"/><stop offset="0.5281" stop-color="#838383"/><stop offset="0.5825" stop-color="#888888"/><stop offset="0.6058" stop-color="#878787"/><stop offset="0.6317" stop-color="#818181"/><stop offset="0.6576" stop-color="#747474"/><stop offset="0.6576" stop-color="#606060"/><stop offset="0.6784" stop-color="#4e4e4e"/><stop offset="0.7043" stop-color="#3e3e3e"/><stop offset="0.7354" stop-color="#303030"/><stop offset="0.7717" stop-color="#252525"/><stop offset="0.8677" stop-color="#141414"/><stop offset="1.0000" stop-color="#090909"/></linearGradient><linearGradient id="g33" gradientUnits="userSpaceOnUse" x1="0" y1="460.27" x2="0" y2="671.23"><stop offset="0.0000" stop-color="#000000"/><stop offset="0.2345" stop-color="#000000"/><stop offset="0.3126" stop-color="#030303"/><stop offset="0.3413" stop-color="#070707"/><stop offset="0.3647" stop-color="#0e0e0e"/><stop offset="0.3830" stop-color="#171717"/><stop offset="0.3986" stop-color="#232323"/><stop offset="0.3986" stop-color="#202020"/><stop offset="0.4167" stop-color="#323232"/><stop offset="0.4582" stop-color="#626262"/><stop offset="0.4763" stop-color="#727272"/><stop offset="0.4970" stop-color="#7c7c7c"/><stop offset="0.5281" stop-color="#7e7e7e"/><stop offset="0.5281" stop-color="#7d7d7d"/><stop offset="0.5799" stop-color="#888888"/><stop offset="0.6032" stop-color="#898989"/><stop offset="0.6291" stop-color="#858585"/><stop offset="0.6576" stop-color="#777777"/><stop offset="0.6576" stop-color="#616161"/><stop offset="0.6784" stop-color="#4f4f4f"/><stop offset="0.7043" stop-color="#3e3e3e"/><stop offset="0.7354" stop-color="#313131"/><stop offset="0.7717" stop-color="#262626"/><stop offset="0.8677" stop-color="#151515"/><stop offset="1.0000" stop-color="#090909"/></linearGradient><linearGradient id="g34" gradientUnits="userSpaceOnUse" x1="0" y1="460.27" x2="0" y2="671.23"><stop offset="0.0000" stop-color="#000000"/><stop offset="0.3126" stop-color="#020202"/><stop offset="0.3647" stop-color="#0a0a0a"/><stop offset="0.3830" stop-color="#111111"/><stop offset="0.3986" stop-color="#1a1a1a"/><stop offset="0.3986" stop-color="#181818"/><stop offset="0.4763" stop-color="#585858"/><stop offset="0.4970" stop-color="#626262"/><stop offset="0.5281" stop-color="#6b6b6b"/><stop offset="0.5281" stop-color="#727272"/><stop offset="0.5747" stop-color="#838383"/><stop offset="0.6032" stop-color="#888888"/><stop offset="0.6291" stop-color="#858585"/><stop offset="0.6576" stop-color="#787878"/><stop offset="0.6576" stop-color="#606060"/><stop offset="0.6784" stop-color="#4e4e4e"/><stop offset="0.7043" stop-color="#3e3e3e"/><stop offset="0.7354" stop-color="#303030"/><stop offset="0.7717" stop-color="#262626"/><stop offset="0.8677" stop-color="#151515"/><stop offset="1.0000" stop-color="#0a0a0a"/></linearGradient><linearGradient id="g35" gradientUnits="userSpaceOnUse" x1="0" y1="460.27" x2="0" y2="671.23"><stop offset="0.0000" stop-color="#000000"/><stop offset="0.3126" stop-color="#020202"/><stop offset="0.3647" stop-color="#080808"/><stop offset="0.3986" stop-color="#151515"/><stop offset="0.3986" stop-color="#131313"/><stop offset="0.4193" stop-color="#1f1f1f"/><stop offset="0.4737" stop-color="#464646"/><stop offset="0.5281" stop-color="#5f5f5f"/><stop offset="0.5281" stop-color="#6b6b6b"/><stop offset="0.5721" stop-color="#818181"/><stop offset="0.6006" stop-color="#898989"/><stop offset="0.6291" stop-color="#878787"/><stop offset="0.6576" stop-color="#7a7a7a"/><stop offset="0.6576" stop-color="#606060"/><stop offset="0.6784" stop-color="#4e4e4e"/><stop offset="0.7043" stop-color="#3e3e3e"/><stop offset="0.7328" stop-color="#323232"/><stop offset="0.7691" stop-color="#272727"/><stop offset="0.8677" stop-color="#151515"/><stop offset="1.0000" stop-color="#0a0a0a"/></linearGradient><linearGradient id="g36" gradientUnits="userSpaceOnUse" x1="0" y1="460.27" x2="0" y2="671.23"><stop offset="0.0000" stop-color="#000000"/><stop offset="0.3126" stop-color="#020202"/><stop offset="0.3647" stop-color="#070707"/><stop offset="0.3986" stop-color="#131313"/><stop offset="0.3986" stop-color="#111111"/><stop offset="0.4219" stop-color="#1e1e1e"/><stop offset="0.4737" stop-color="#414141"/><stop offset="0.5281" stop-color="#5c5c5c"/><stop offset="0.5281" stop-color="#6b6b6b"/><stop offset="0.5721" stop-color="#838383"/><stop offset="0.6006" stop-color="#8b8b8b"/><stop offset="0.6291" stop-color="#8a8a8a"/><stop offset="0.6576" stop-color="#7d7d7d"/><stop offset="0.6576" stop-color="#626262"/><stop offset="0.6784" stop-color="#4f4f4f"/><stop offset="0.7043" stop-color="#3f3f3f"/><stop offset="0.7328" stop-color="#333333"/><stop offset="0.7691" stop-color="#282828"/><stop offset="0.8677" stop-color="#161616"/><stop offset="1.0000" stop-color="#0a0a0a"/></linearGradient><linearGradient id="g37" gradientUnits="userSpaceOnUse" x1="0" y1="460.27" x2="0" y2="671.23"><stop offset="0.0000" stop-color="#000000"/><stop offset="0.3126" stop-color="#010101"/><stop offset="0.3647" stop-color="#060606"/><stop offset="0.3986" stop-color="#0f0f0f"/><stop offset="0.3986" stop-color="#0e0e0e"/><stop offset="0.4271" stop-color="#1b1b1b"/><stop offset="0.5100" stop-color="#474747"/><stop offset="0.5281" stop-color="#535353"/><stop offset="0.5281" stop-color="#666666"/><stop offset="0.5721" stop-color="#828282"/><stop offset="0.6006" stop-color="#8c8c8c"/><stop offset="0.6291" stop-color="#8b8b8b"/><stop offset="0.6576" stop-color="#7f7f7f"/><stop offset="0.6576" stop-color="#626262"/><stop offset="0.6784" stop-color="#505050"/><stop offset="0.7043" stop-color="#3f3f3f"/><stop offset="0.7328" stop-color="#333333"/><stop offset="0.7691" stop-color="#282828"/><stop offset="0.8677" stop-color="#161616"/><stop offset="1.0000" stop-color="#0a0a0a"/></linearGradient><linearGradient id="g38" gradientUnits="userSpaceOnUse" x1="0" y1="460.27" x2="0" y2="671.23"><stop offset="0.0000" stop-color="#000000"/><stop offset="0.3126" stop-color="#010101"/><stop offset="0.3647" stop-color="#040404"/><stop offset="0.3986" stop-color="#0b0b0b"/><stop offset="0.4323" stop-color="#171717"/><stop offset="0.4867" stop-color="#313131"/><stop offset="0.5100" stop-color="#3e3e3e"/><stop offset="0.5281" stop-color="#4c4c4c"/><stop offset="0.5281" stop-color="#626262"/><stop offset="0.5695" stop-color="#808080"/><stop offset="0.6006" stop-color="#8d8d8d"/><stop offset="0.6291" stop-color="#8d8d8d"/><stop offset="0.6576" stop-color="#818181"/><stop offset="0.6576" stop-color="#636363"/><stop offset="0.6784" stop-color="#505050"/><stop offset="0.7043" stop-color="#404040"/><stop offset="0.7328" stop-color="#333333"/><stop offset="0.7691" stop-color="#282828"/><stop offset="0.8677" stop-color="#161616"/><stop offset="1.0000" stop-color="#0b0b0b"/></linearGradient><linearGradient id="g39" gradientUnits="userSpaceOnUse" x1="0" y1="460.27" x2="0" y2="671.23"><stop offset="0.0000" stop-color="#000000"/><stop offset="0.3126" stop-color="#010101"/><stop offset="0.3647" stop-color="#040404"/><stop offset="0.3986" stop-color="#0a0a0a"/><stop offset="0.4323" stop-color="#151515"/><stop offset="0.4841" stop-color="#2d2d2d"/><stop offset="0.5100" stop-color="#3c3c3c"/><stop offset="0.5281" stop-color="#4a4a4a"/><stop offset="0.5281" stop-color="#636363"/><stop offset="0.5695" stop-color="#818181"/><stop offset="0.6006" stop-color="#8f8f8f"/><stop offset="0.6162" stop-color="#909090"/><stop offset="0.6291" stop-color="#8f8f8f"/><stop offset="0.6576" stop-color="#838383"/><stop offset="0.6576" stop-color="#646464"/><stop offset="0.6784" stop-color="#515151"/><stop offset="0.7043" stop-color="#414141"/><stop offset="0.7328" stop-color="#343434"/><stop offset="0.7691" stop-color="#292929"/><stop offset="0.8677" stop-color="#171717"/><stop offset="1.0000" stop-color="#0b0b0b"/></linearGradient><linearGradient id="g40" gradientUnits="userSpaceOnUse" x1="0" y1="460.27" x2="0" y2="671.23"><stop offset="0.0000" stop-color="#000000"/><stop offset="0.3126" stop-color="#010101"/><stop offset="0.3647" stop-color="#030303"/><stop offset="0.3986" stop-color="#090909"/><stop offset="0.4375" stop-color="#141414"/><stop offset="0.4815" stop-color="#272727"/><stop offset="0.5074" stop-color="#353535"/><stop offset="0.5281" stop-color="#474747"/><stop offset="0.5281" stop-color="#616161"/><stop offset="0.5695" stop-color="#818181"/><stop offset="0.6006" stop-color="#909090"/><stop offset="0.6162" stop-color="#929292"/><stop offset="0.6291" stop-color="#909090"/><stop offset="0.6576" stop-color="#848484"/><stop offset="0.6576" stop-color="#656565"/><stop offset="0.6784" stop-color="#525252"/><stop offset="0.7043" stop-color="#414141"/><stop offset="0.7328" stop-color="#343434"/><stop offset="0.7691" stop-color="#292929"/><stop offset="0.8677" stop-color="#171717"/><stop offset="1.0000" stop-color="#0b0b0b"/></linearGradient><linearGradient id="g41" gradientUnits="userSpaceOnUse" x1="0" y1="460.27" x2="0" y2="671.23"><stop offset="0.0000" stop-color="#000000"/><stop offset="0.3152" stop-color="#010101"/><stop offset="0.3647" stop-color="#020202"/><stop offset="0.3986" stop-color="#060606"/><stop offset="0.3986" stop-color="#070707"/><stop offset="0.4400" stop-color="#111111"/><stop offset="0.4789" stop-color="#1f1f1f"/><stop offset="0.5074" stop-color="#303030"/><stop offset="0.5281" stop-color="#434343"/><stop offset="0.5281" stop-color="#5f5f5f"/><stop offset="0.5695" stop-color="#818181"/><stop offset="0.5980" stop-color="#8f8f8f"/><stop offset="0.6136" stop-color="#929292"/><stop offset="0.6265" stop-color="#929292"/><stop offset="0.6421" stop-color="#8d8d8d"/><stop offset="0.6576" stop-color="#858585"/><stop offset="0.6576" stop-color="#646464"/><stop offset="0.6784" stop-color="#515151"/><stop offset="0.7043" stop-color="#414141"/><stop offset="0.7328" stop-color="#343434"/><stop offset="0.7691" stop-color="#292929"/><stop offset="0.8677" stop-color="#171717"/><stop offset="1.0000" stop-color="#0b0b0b"/></linearGradient><linearGradient id="g42" gradientUnits="userSpaceOnUse" x1="0" y1="460.27" x2="0" y2="671.23"><stop offset="0.0000" stop-color="#000000"/><stop offset="0.3152" stop-color="#000000"/><stop offset="0.3986" stop-color="#060606"/><stop offset="0.4400" stop-color="#0f0f0f"/><stop offset="0.4789" stop-color="#1d1d1d"/><stop offset="0.5074" stop-color="#2e2e2e"/><stop offset="0.5281" stop-color="#414141"/><stop offset="0.5281" stop-color="#5f5f5f"/><stop offset="0.5695" stop-color="#828282"/><stop offset="0.5980" stop-color="#919191"/><stop offset="0.6136" stop-color="#949494"/><stop offset="0.6265" stop-color="#939393"/><stop offset="0.6421" stop-color="#8f8f8f"/><stop offset="0.6576" stop-color="#878787"/><stop offset="0.6576" stop-color="#616161"/><stop offset="0.6784" stop-color="#4e4e4e"/><stop offset="0.7017" stop-color="#3f3f3f"/><stop offset="0.7302" stop-color="#333333"/><stop offset="0.7666" stop-color="#282828"/><stop offset="0.8651" stop-color="#161616"/><stop offset="1.0000" stop-color="#0a0a0a"/></linearGradient><linearGradient id="g43" gradientUnits="userSpaceOnUse" x1="0" y1="460.27" x2="0" y2="671.23"><stop offset="0.0000" stop-color="#000000"/><stop offset="0.3152" stop-color="#000000"/><stop offset="0.3986" stop-color="#050505"/><stop offset="0.3986" stop-color="#060606"/><stop offset="0.4400" stop-color="#0f0f0f"/><stop offset="0.4789" stop-color="#1d1d1d"/><stop offset="0.5074" stop-color="#2e2e2e"/><stop offset="0.5281" stop-color="#414141"/><stop offset="0.5281" stop-color="#5f5f5f"/><stop offset="0.5695" stop-color="#838383"/><stop offset="0.5980" stop-color="#929292"/><stop offset="0.6136" stop-color="#959595"/><stop offset="0.6265" stop-color="#949494"/><stop offset="0.6421" stop-color="#909090"/><stop offset="0.6576" stop-color="#888888"/><stop offset="0.6576" stop-color="#5a5a5a"/><stop offset="0.6784" stop-color="#484848"/><stop offset="0.7017" stop-color="#3a3a3a"/><stop offset="0.7302" stop-color="#2e2e2e"/><stop offset="0.7666" stop-color="#242424"/><stop offset="0.8651" stop-color="#141414"/><stop offset="1.0000" stop-color="#090909"/></linearGradient><linearGradient id="g44" gradientUnits="userSpaceOnUse" x1="0" y1="460.27" x2="0" y2="671.23"><stop offset="0.0000" stop-color="#000000"/><stop offset="0.3152" stop-color="#000000"/><stop offset="0.3986" stop-color="#050505"/><stop offset="0.4426" stop-color="#0e0e0e"/><stop offset="0.4789" stop-color="#1b1b1b"/><stop offset="0.5074" stop-color="#2c2c2c"/><stop offset="0.5281" stop-color="#404040"/><stop offset="0.5281" stop-color="#5f5f5f"/><stop offset="0.5695" stop-color="#838383"/><stop offset="0.5980" stop-color="#939393"/><stop offset="0.6136" stop-color="#969696"/><stop offset="0.6265" stop-color="#959595"/><stop offset="0.6421" stop-color="#919191"/><stop offset="0.6576" stop-color="#898989"/><stop offset="0.6576" stop-color="#515151"/><stop offset="0.6784" stop-color="#404040"/><stop offset="0.7017" stop-color="#333333"/><stop offset="0.7302" stop-color="#282828"/><stop offset="0.7640" stop-color="#1f1f1f"/><stop offset="0.8625" stop-color="#111111"/><stop offset="1.0000" stop-color="#080808"/></linearGradient><linearGradient id="g45" gradientUnits="userSpaceOnUse" x1="0" y1="460.27" x2="0" y2="671.23"><stop offset="0.0000" stop-color="#000000"/><stop offset="0.3152" stop-color="#000000"/><stop offset="0.3986" stop-color="#040404"/><stop offset="0.3986" stop-color="#050505"/><stop offset="0.4426" stop-color="#0d0d0d"/><stop offset="0.4789" stop-color="#191919"/><stop offset="0.5048" stop-color="#282828"/><stop offset="0.5281" stop-color="#3f3f3f"/><stop offset="0.5281" stop-color="#5f5f5f"/><stop offset="0.5695" stop-color="#838383"/><stop offset="0.5980" stop-color="#939393"/><stop offset="0.6136" stop-color="#979797"/><stop offset="0.6265" stop-color="#969696"/><stop offset="0.6421" stop-color="#929292"/><stop offset="0.6576" stop-color="#8a8a8a"/><stop offset="0.6576" stop-color="#484848"/><stop offset="0.6758" stop-color="#3a3a3a"/><stop offset="0.6991" stop-color="#2d2d2d"/><stop offset="0.7276" stop-color="#232323"/><stop offset="0.7614" stop-color="#1b1b1b"/><stop offset="0.8599" stop-color="#0f0f0f"/><stop offset="1.0000" stop-color="#070707"/></linearGradient><linearGradient id="g46" gradientUnits="userSpaceOnUse" x1="0" y1="460.27" x2="0" y2="671.23"><stop offset="0.0000" stop-color="#000000"/><stop offset="0.3152" stop-color="#000000"/><stop offset="0.3986" stop-color="#030303"/><stop offset="0.3986" stop-color="#040404"/><stop offset="0.4426" stop-color="#0b0b0b"/><stop offset="0.4789" stop-color="#171717"/><stop offset="0.5048" stop-color="#262626"/><stop offset="0.5281" stop-color="#3e3e3e"/><stop offset="0.5281" stop-color="#5e5e5e"/><stop offset="0.5695" stop-color="#838383"/><stop offset="0.5980" stop-color="#949494"/><stop offset="0.6136" stop-color="#979797"/><stop offset="0.6265" stop-color="#979797"/><stop offset="0.6421" stop-color="#929292"/><stop offset="0.6576" stop-color="#8a8a8a"/><stop offset="0.6576" stop-color="#424242"/><stop offset="0.6758" stop-color="#343434"/><stop offset="0.6991" stop-color="#282828"/><stop offset="0.7251" stop-color="#1f1f1f"/><stop offset="0.7588" stop-color="#181818"/><stop offset="0.8547" stop-color="#0d0d0d"/><stop offset="1.0000" stop-color="#060606"/></linearGradient><linearGradient id="g47" gradientUnits="userSpaceOnUse" x1="0" y1="460.27" x2="0" y2="671.23"><stop offset="0.0000" stop-color="#000000"/><stop offset="0.3178" stop-color="#000000"/><stop offset="0.3986" stop-color="#030303"/><stop offset="0.3986" stop-color="#040404"/><stop offset="0.4452" stop-color="#0b0b0b"/><stop offset="0.4789" stop-color="#151515"/><stop offset="0.5048" stop-color="#252525"/><stop offset="0.5281" stop-color="#3c3c3c"/><stop offset="0.5281" stop-color="#5d5d5d"/><stop offset="0.5670" stop-color="#828282"/><stop offset="0.5825" stop-color="#8c8c8c"/><stop offset="0.5980" stop-color="#949494"/><stop offset="0.6136" stop-color="#979797"/><stop offset="0.6265" stop-color="#979797"/><stop offset="0.6421" stop-color="#939393"/><stop offset="0.6576" stop-color="#8b8b8b"/><stop offset="0.6576" stop-color="#3e3e3e"/><stop offset="0.6758" stop-color="#313131"/><stop offset="0.6991" stop-color="#252525"/><stop offset="0.7562" stop-color="#161616"/><stop offset="0.8521" stop-color="#0c0c0c"/><stop offset="1.0000" stop-color="#050505"/></linearGradient><linearGradient id="g48" gradientUnits="userSpaceOnUse" x1="0" y1="460.27" x2="0" y2="671.23"><stop offset="0.0000" stop-color="#000000"/><stop offset="0.3178" stop-color="#000000"/><stop offset="0.3986" stop-color="#020202"/><stop offset="0.3986" stop-color="#030303"/><stop offset="0.4452" stop-color="#0a0a0a"/><stop offset="0.4789" stop-color="#141414"/><stop offset="0.5048" stop-color="#242424"/><stop offset="0.5281" stop-color="#3c3c3c"/><stop offset="0.5281" stop-color="#5d5d5d"/><stop offset="0.5670" stop-color="#828282"/><stop offset="0.5825" stop-color="#8d8d8d"/><stop offset="0.5980" stop-color="#949494"/><stop offset="0.6136" stop-color="#989898"/><stop offset="0.6265" stop-color="#989898"/><stop offset="0.6421" stop-color="#939393"/><stop offset="0.6576" stop-color="#8b8b8b"/><stop offset="0.6576" stop-color="#3e3e3e"/><stop offset="0.6758" stop-color="#313131"/><stop offset="0.6991" stop-color="#252525"/><stop offset="0.7251" stop-color="#1d1d1d"/><stop offset="0.7562" stop-color="#161616"/><stop offset="0.8521" stop-color="#0c0c0c"/><stop offset="1.0000" stop-color="#050505"/></linearGradient><linearGradient id="g49" gradientUnits="userSpaceOnUse" x1="0" y1="460.27" x2="0" y2="671.23"><stop offset="0.0000" stop-color="#000000"/><stop offset="0.3178" stop-color="#000000"/><stop offset="0.3986" stop-color="#020202"/><stop offset="0.3986" stop-color="#030303"/><stop offset="0.4452" stop-color="#0a0a0a"/><stop offset="0.4789" stop-color="#141414"/><stop offset="0.5048" stop-color="#242424"/><stop offset="0.5281" stop-color="#3c3c3c"/><stop offset="0.5281" stop-color="#5e5e5e"/><stop offset="0.5670" stop-color="#828282"/><stop offset="0.5825" stop-color="#8d8d8d"/><stop offset="0.5980" stop-color="#959595"/><stop offset="0.6136" stop-color="#989898"/><stop offset="0.6265" stop-color="#989898"/><stop offset="0.6421" stop-color="#949494"/><stop offset="0.6576" stop-color="#8c8c8c"/><stop offset="0.6576" stop-color="#3e3e3e"/><stop offset="0.6758" stop-color="#313131"/><stop offset="0.6991" stop-color="#252525"/><stop offset="0.7251" stop-color="#1d1d1d"/><stop offset="0.7562" stop-color="#161616"/><stop offset="0.8521" stop-color="#0c0c0c"/><stop offset="1.0000" stop-color="#050505"/></linearGradient><linearGradient id="g50" gradientUnits="userSpaceOnUse" x1="0" y1="460.27" x2="0" y2="671.23"><stop offset="0.0000" stop-color="#000000"/><stop offset="0.3178" stop-color="#000000"/><stop offset="0.3986" stop-color="#020202"/><stop offset="0.3986" stop-color="#030303"/><stop offset="0.4452" stop-color="#0a0a0a"/><stop offset="0.4789" stop-color="#141414"/><stop offset="0.5048" stop-color="#242424"/><stop offset="0.5281" stop-color="#3c3c3c"/><stop offset="0.5281" stop-color="#5e5e5e"/><stop offset="0.5670" stop-color="#828282"/><stop offset="0.5825" stop-color="#8e8e8e"/><stop offset="0.5980" stop-color="#959595"/><stop offset="0.6136" stop-color="#999999"/><stop offset="0.6265" stop-color="#999999"/><stop offset="0.6421" stop-color="#949494"/><stop offset="0.6576" stop-color="#8c8c8c"/><stop offset="0.6576" stop-color="#3f3f3f"/><stop offset="0.6758" stop-color="#313131"/><stop offset="0.6991" stop-color="#252525"/><stop offset="0.7251" stop-color="#1d1d1d"/><stop offset="0.7562" stop-color="#161616"/><stop offset="0.8521" stop-color="#0c0c0c"/><stop offset="1.0000" stop-color="#050505"/></linearGradient><linearGradient id="g51" gradientUnits="userSpaceOnUse" x1="0" y1="460.27" x2="0" y2="671.23"><stop offset="0.0000" stop-color="#000000"/><stop offset="0.3178" stop-color="#000000"/><stop offset="0.3986" stop-color="#020202"/><stop offset="0.3986" stop-color="#030303"/><stop offset="0.4452" stop-color="#0a0a0a"/><stop offset="0.4789" stop-color="#141414"/><stop offset="0.5048" stop-color="#242424"/><stop offset="0.5281" stop-color="#3c3c3c"/><stop offset="0.5281" stop-color="#5e5e5e"/><stop offset="0.5670" stop-color="#838383"/><stop offset="0.5825" stop-color="#8e8e8e"/><stop offset="0.5980" stop-color="#969696"/><stop offset="0.6136" stop-color="#999999"/><stop offset="0.6265" stop-color="#999999"/><stop offset="0.6421" stop-color="#959595"/><stop offset="0.6576" stop-color="#8c8c8c"/><stop offset="0.6576" stop-color="#3f3f3f"/><stop offset="0.6758" stop-color="#313131"/><stop offset="0.6991" stop-color="#252525"/><stop offset="0.7251" stop-color="#1d1d1d"/><stop offset="0.7562" stop-color="#161616"/><stop offset="0.8521" stop-color="#0c0c0c"/><stop offset="1.0000" stop-color="#050505"/></linearGradient><linearGradient id="g52" gradientUnits="userSpaceOnUse" x1="0" y1="460.27" x2="0" y2="671.23"><stop offset="0.0000" stop-color="#000000"/><stop offset="0.3178" stop-color="#000000"/><stop offset="0.3986" stop-color="#020202"/><stop offset="0.3986" stop-color="#030303"/><stop offset="0.4452" stop-color="#0a0a0a"/><stop offset="0.4789" stop-color="#141414"/><stop offset="0.5048" stop-color="#242424"/><stop offset="0.5281" stop-color="#3c3c3c"/><stop offset="0.5281" stop-color="#5e5e5e"/><stop offset="0.5670" stop-color="#838383"/><stop offset="0.5825" stop-color="#8e8e8e"/><stop offset="0.5980" stop-color="#969696"/><stop offset="0.6136" stop-color="#9a9a9a"/><stop offset="0.6265" stop-color="#999999"/><stop offset="0.6421" stop-color="#959595"/><stop offset="0.6576" stop-color="#8d8d8d"/><stop offset="0.6576" stop-color="#3f3f3f"/><stop offset="0.6758" stop-color="#313131"/><stop offset="0.6991" stop-color="#252525"/><stop offset="0.7251" stop-color="#1d1d1d"/><stop offset="0.7562" stop-color="#161616"/><stop offset="0.8521" stop-color="#0c0c0c"/><stop offset="1.0000" stop-color="#050505"/></linearGradient><linearGradient id="g53" gradientUnits="userSpaceOnUse" x1="0" y1="460.27" x2="0" y2="671.23"><stop offset="0.0000" stop-color="#000000"/><stop offset="0.3178" stop-color="#000000"/><stop offset="0.3986" stop-color="#020202"/><stop offset="0.3986" stop-color="#030303"/><stop offset="0.4452" stop-color="#0a0a0a"/><stop offset="0.4789" stop-color="#141414"/><stop offset="0.5048" stop-color="#242424"/><stop offset="0.5281" stop-color="#3c3c3c"/><stop offset="0.5281" stop-color="#5e5e5e"/><stop offset="0.5670" stop-color="#838383"/><stop offset="0.5825" stop-color="#8e8e8e"/><stop offset="0.5980" stop-color="#969696"/><stop offset="0.6136" stop-color="#9a9a9a"/><stop offset="0.6265" stop-color="#9a9a9a"/><stop offset="0.6421" stop-color="#959595"/><stop offset="0.6576" stop-color="#8d8d8d"/><stop offset="0.6576" stop-color="#3f3f3f"/><stop offset="0.6758" stop-color="#313131"/><stop offset="0.6991" stop-color="#252525"/><stop offset="0.7251" stop-color="#1d1d1d"/><stop offset="0.7562" stop-color="#161616"/><stop offset="0.8521" stop-color="#0c0c0c"/><stop offset="1.0000" stop-color="#050505"/></linearGradient><linearGradient id="g54" gradientUnits="userSpaceOnUse" x1="0" y1="460.27" x2="0" y2="671.23"><stop offset="0.0000" stop-color="#000000"/><stop offset="0.3178" stop-color="#000000"/><stop offset="0.3986" stop-color="#020202"/><stop offset="0.3986" stop-color="#030303"/><stop offset="0.4452" stop-color="#0a0a0a"/><stop offset="0.4789" stop-color="#141414"/><stop offset="0.5048" stop-color="#242424"/><stop offset="0.5281" stop-color="#3d3d3d"/><stop offset="0.5281" stop-color="#5f5f5f"/><stop offset="0.5670" stop-color="#848484"/><stop offset="0.5825" stop-color="#8f8f8f"/><stop offset="0.5980" stop-color="#969696"/><stop offset="0.6136" stop-color="#9a9a9a"/><stop offset="0.6265" stop-color="#9a9a9a"/><stop offset="0.6421" stop-color="#959595"/><stop offset="0.6576" stop-color="#8d8d8d"/><stop offset="0.6576" stop-color="#3f3f3f"/><stop offset="0.6758" stop-color="#313131"/><stop offset="0.6991" stop-color="#252525"/><stop offset="0.7251" stop-color="#1d1d1d"/><stop offset="0.7562" stop-color="#171717"/><stop offset="0.8521" stop-color="#0c0c0c"/><stop offset="1.0000" stop-color="#050505"/></linearGradient><linearGradient id="g55" gradientUnits="userSpaceOnUse" x1="0" y1="460.27" x2="0" y2="671.23"><stop offset="0.0000" stop-color="#000000"/><stop offset="0.3178" stop-color="#000000"/><stop offset="0.3986" stop-color="#020202"/><stop offset="0.3986" stop-color="#030303"/><stop offset="0.4452" stop-color="#0a0a0a"/><stop offset="0.4789" stop-color="#141414"/><stop offset="0.5048" stop-color="#242424"/><stop offset="0.5281" stop-color="#3d3d3d"/><stop offset="0.5281" stop-color="#5f5f5f"/><stop offset="0.5670" stop-color="#848484"/><stop offset="0.5825" stop-color="#8f8f8f"/><stop offset="0.5980" stop-color="#979797"/><stop offset="0.6136" stop-color="#9a9a9a"/><stop offset="0.6265" stop-color="#9a9a9a"/><stop offset="0.6421" stop-color="#969696"/><stop offset="0.6576" stop-color="#8d8d8d"/><stop offset="0.6576" stop-color="#3f3f3f"/><stop offset="0.6758" stop-color="#313131"/><stop offset="0.6991" stop-color="#262626"/><stop offset="0.7251" stop-color="#1d1d1d"/><stop offset="0.7562" stop-color="#171717"/><stop offset="0.8521" stop-color="#0c0c0c"/><stop offset="1.0000" stop-color="#050505"/></linearGradient><linearGradient id="g56" gradientUnits="userSpaceOnUse" x1="0" y1="460.27" x2="0" y2="671.23"><stop offset="0.0000" stop-color="#000000"/><stop offset="0.3178" stop-color="#000000"/><stop offset="0.3986" stop-color="#020202"/><stop offset="0.3986" stop-color="#030303"/><stop offset="0.4452" stop-color="#0a0a0a"/><stop offset="0.4789" stop-color="#141414"/><stop offset="0.5048" stop-color="#242424"/><stop offset="0.5281" stop-color="#3d3d3d"/><stop offset="0.5281" stop-color="#5f5f5f"/><stop offset="0.5670" stop-color="#848484"/><stop offset="0.5825" stop-color="#8f8f8f"/><stop offset="0.5980" stop-color="#979797"/><stop offset="0.6136" stop-color="#9b9b9b"/><stop offset="0.6265" stop-color="#9a9a9a"/><stop offset="0.6421" stop-color="#969696"/><stop offset="0.6576" stop-color="#8e8e8e"/><stop offset="0.6576" stop-color="#404040"/><stop offset="0.6758" stop-color="#323232"/><stop offset="0.6991" stop-color="#262626"/><stop offset="0.7251" stop-color="#1e1e1e"/><stop offset="0.7562" stop-color="#171717"/><stop offset="0.8521" stop-color="#0c0c0c"/><stop offset="1.0000" stop-color="#050505"/></linearGradient><linearGradient id="g57" gradientUnits="userSpaceOnUse" x1="0" y1="460.27" x2="0" y2="671.23"><stop offset="0.0000" stop-color="#000000"/><stop offset="0.3178" stop-color="#000000"/><stop offset="0.3986" stop-color="#020202"/><stop offset="0.3986" stop-color="#030303"/><stop offset="0.4452" stop-color="#0a0a0a"/><stop offset="0.4789" stop-color="#151515"/><stop offset="0.5048" stop-color="#242424"/><stop offset="0.5281" stop-color="#3d3d3d"/><stop offset="0.5281" stop-color="#5f5f5f"/><stop offset="0.5670" stop-color="#848484"/><stop offset="0.5825" stop-color="#8f8f8f"/><stop offset="0.5980" stop-color="#979797"/><stop offset="0.6136" stop-color="#9b9b9b"/><stop offset="0.6265" stop-color="#9a9a9a"/><stop offset="0.6421" stop-color="#969696"/><stop offset="0.6576" stop-color="#8e8e8e"/><stop offset="0.6576" stop-color="#444444"/><stop offset="0.6758" stop-color="#363636"/><stop offset="0.6991" stop-color="#292929"/><stop offset="0.7251" stop-color="#202020"/><stop offset="0.7588" stop-color="#191919"/><stop offset="0.8547" stop-color="#0e0e0e"/><stop offset="1.0000" stop-color="#060606"/></linearGradient><linearGradient id="g58" gradientUnits="userSpaceOnUse" x1="0" y1="460.27" x2="0" y2="671.23"><stop offset="0.0000" stop-color="#000000"/><stop offset="0.3178" stop-color="#000000"/><stop offset="0.3986" stop-color="#020202"/><stop offset="0.3986" stop-color="#030303"/><stop offset="0.4452" stop-color="#0a0a0a"/><stop offset="0.4789" stop-color="#151515"/><stop offset="0.5048" stop-color="#242424"/><stop offset="0.5281" stop-color="#3d3d3d"/><stop offset="0.5281" stop-color="#5f5f5f"/><stop offset="0.5670" stop-color="#848484"/><stop offset="0.5825" stop-color="#8f8f8f"/><stop offset="0.5980" stop-color="#979797"/><stop offset="0.6136" stop-color="#9b9b9b"/><stop offset="0.6265" stop-color="#9a9a9a"/><stop offset="0.6421" stop-color="#969696"/><stop offset="0.6576" stop-color="#8e8e8e"/><stop offset="0.6576" stop-color="#4b4b4b"/><stop offset="0.6758" stop-color="#3c3c3c"/><stop offset="0.6991" stop-color="#2f2f2f"/><stop offset="0.7276" stop-color="#242424"/><stop offset="0.7614" stop-color="#1c1c1c"/><stop offset="0.8599" stop-color="#0f0f0f"/><stop offset="1.0000" stop-color="#070707"/></linearGradient><linearGradient id="g59" gradientUnits="userSpaceOnUse" x1="0" y1="460.27" x2="0" y2="671.23"><stop offset="0.0000" stop-color="#000000"/><stop offset="0.3178" stop-color="#000000"/><stop offset="0.3986" stop-color="#020202"/><stop offset="0.3986" stop-color="#030303"/><stop offset="0.4452" stop-color="#0a0a0a"/><stop offset="0.4789" stop-color="#151515"/><stop offset="0.5048" stop-color="#242424"/><stop offset="0.5281" stop-color="#3d3d3d"/><stop offset="0.5281" stop-color="#5f5f5f"/><stop offset="0.5670" stop-color="#848484"/><stop offset="0.5825" stop-color="#8f8f8f"/><stop offset="0.5980" stop-color="#979797"/><stop offset="0.6136" stop-color="#9b9b9b"/><stop offset="0.6265" stop-color="#9b9b9b"/><stop offset="0.6421" stop-color="#969696"/><stop offset="0.6576" stop-color="#8e8e8e"/><stop offset="0.6576" stop-color="#535353"/><stop offset="0.6758" stop-color="#444444"/><stop offset="0.6991" stop-color="#363636"/><stop offset="0.7276" stop-color="#2a2a2a"/><stop offset="0.7614" stop-color="#212121"/><stop offset="0.8599" stop-color="#121212"/><stop offset="1.0000" stop-color="#080808"/></linearGradient><linearGradient id="g60" gradientUnits="userSpaceOnUse" x1="0" y1="460.27" x2="0" y2="671.23"><stop offset="0.0000" stop-color="#000000"/><stop offset="0.3178" stop-color="#000000"/><stop offset="0.3986" stop-color="#020202"/><stop offset="0.3986" stop-color="#030303"/><stop offset="0.4452" stop-color="#0a0a0a"/><stop offset="0.4789" stop-color="#151515"/><stop offset="0.5048" stop-color="#242424"/><stop offset="0.5281" stop-color="#3d3d3d"/><stop offset="0.5281" stop-color="#5f5f5f"/><stop offset="0.5670" stop-color="#848484"/><stop offset="0.5825" stop-color="#8f8f8f"/><stop offset="0.5980" stop-color="#979797"/><stop offset="0.6136" stop-color="#9b9b9b"/><stop offset="0.6265" stop-color="#9b9b9b"/><stop offset="0.6421" stop-color="#969696"/><stop offset="0.6576" stop-color="#8e8e8e"/><stop offset="0.6576" stop-color="#5c5c5c"/><stop offset="0.6784" stop-color="#494949"/><stop offset="0.7017" stop-color="#3b3b3b"/><stop offset="0.7302" stop-color="#2f2f2f"/><stop offset="0.7640" stop-color="#252525"/><stop offset="0.8625" stop-color="#151515"/><stop offset="1.0000" stop-color="#0a0a0a"/></linearGradient><linearGradient id="g61" gradientUnits="userSpaceOnUse" x1="0" y1="460.27" x2="0" y2="671.23"><stop offset="0.0000" stop-color="#000000"/><stop offset="0.3986" stop-color="#010101"/><stop offset="0.4478" stop-color="#060606"/><stop offset="0.4815" stop-color="#101010"/><stop offset="0.4944" stop-color="#191919"/><stop offset="0.5074" stop-color="#252525"/><stop offset="0.5177" stop-color="#323232"/><stop offset="0.5281" stop-color="#454545"/><stop offset="0.5281" stop-color="#5f5f5f"/><stop offset="0.5670" stop-color="#848484"/><stop offset="0.5825" stop-color="#909090"/><stop offset="0.5980" stop-color="#979797"/><stop offset="0.6136" stop-color="#9b9b9b"/><stop offset="0.6265" stop-color="#9b9b9b"/><stop offset="0.6421" stop-color="#969696"/><stop offset="0.6576" stop-color="#8e8e8e"/><stop offset="0.6576" stop-color="#646464"/><stop offset="0.6784" stop-color="#505050"/><stop offset="0.7017" stop-color="#414141"/><stop offset="0.7302" stop-color="#343434"/><stop offset="0.7666" stop-color="#292929"/><stop offset="0.8651" stop-color="#171717"/><stop offset="1.0000" stop-color="#0b0b0b"/></linearGradient><linearGradient id="g62" gradientUnits="userSpaceOnUse" x1="0" y1="460.27" x2="0" y2="671.23"><stop offset="0.0000" stop-color="#000000"/><stop offset="0.3986" stop-color="#010101"/><stop offset="0.4478" stop-color="#060606"/><stop offset="0.4815" stop-color="#101010"/><stop offset="0.4944" stop-color="#191919"/><stop offset="0.5074" stop-color="#252525"/><stop offset="0.5177" stop-color="#323232"/><stop offset="0.5281" stop-color="#454545"/><stop offset="0.5281" stop-color="#5f5f5f"/><stop offset="0.5670" stop-color="#848484"/><stop offset="0.5825" stop-color="#909090"/><stop offset="0.5980" stop-color="#979797"/><stop offset="0.6136" stop-color="#9b9b9b"/><stop offset="0.6265" stop-color="#9b9b9b"/><stop offset="0.6421" stop-color="#969696"/><stop offset="0.6576" stop-color="#8e8e8e"/><stop offset="0.6576" stop-color="#696969"/><stop offset="0.6784" stop-color="#555555"/><stop offset="0.7043" stop-color="#444444"/><stop offset="0.7328" stop-color="#373737"/><stop offset="0.7691" stop-color="#2b2b2b"/><stop offset="0.8677" stop-color="#181818"/><stop offset="1.0000" stop-color="#0c0c0c"/></linearGradient><linearGradient id="g63" gradientUnits="userSpaceOnUse" x1="0" y1="460.27" x2="0" y2="671.23"><stop offset="0.0000" stop-color="#000000"/><stop offset="0.3986" stop-color="#010101"/><stop offset="0.4478" stop-color="#060606"/><stop offset="0.4815" stop-color="#101010"/><stop offset="0.4944" stop-color="#191919"/><stop offset="0.5074" stop-color="#252525"/><stop offset="0.5177" stop-color="#323232"/><stop offset="0.5281" stop-color="#454545"/><stop offset="0.5281" stop-color="#5f5f5f"/><stop offset="0.5670" stop-color="#848484"/><stop offset="0.5825" stop-color="#909090"/><stop offset="0.5980" stop-color="#979797"/><stop offset="0.6136" stop-color="#9b9b9b"/><stop offset="0.6265" stop-color="#9b9b9b"/><stop offset="0.6421" stop-color="#969696"/><stop offset="0.6576" stop-color="#8e8e8e"/><stop offset="0.6576" stop-color="#6a6a6a"/><stop offset="0.6784" stop-color="#565656"/><stop offset="0.7043" stop-color="#454545"/><stop offset="0.7328" stop-color="#383838"/><stop offset="0.7691" stop-color="#2c2c2c"/><stop offset="0.8132" stop-color="#222222"/><stop offset="0.8677" stop-color="#191919"/><stop offset="1.0000" stop-color="#0c0c0c"/></linearGradient><linearGradient id="g64" gradientUnits="userSpaceOnUse" x1="0" y1="460.27" x2="0" y2="671.23"><stop offset="0.0000" stop-color="#000000"/><stop offset="0.3986" stop-color="#010101"/><stop offset="0.4478" stop-color="#060606"/><stop offset="0.4815" stop-color="#101010"/><stop offset="0.4944" stop-color="#191919"/><stop offset="0.5074" stop-color="#252525"/><stop offset="0.5177" stop-color="#323232"/><stop offset="0.5281" stop-color="#454545"/><stop offset="0.5281" stop-color="#5f5f5f"/><stop offset="0.5670" stop-color="#848484"/><stop offset="0.5825" stop-color="#909090"/><stop offset="0.5980" stop-color="#979797"/><stop offset="0.6136" stop-color="#9b9b9b"/><stop offset="0.6265" stop-color="#9b9b9b"/><stop offset="0.6421" stop-color="#969696"/><stop offset="0.6576" stop-color="#8e8e8e"/><stop offset="0.6576" stop-color="#6b6b6b"/><stop offset="0.6784" stop-color="#565656"/><stop offset="0.7043" stop-color="#454545"/><stop offset="0.7328" stop-color="#383838"/><stop offset="0.7691" stop-color="#2c2c2c"/><stop offset="0.8132" stop-color="#222222"/><stop offset="0.8677" stop-color="#191919"/><stop offset="1.0000" stop-color="#0c0c0c"/></linearGradient><linearGradient id="g65" gradientUnits="userSpaceOnUse" x1="0" y1="460.27" x2="0" y2="671.23"><stop offset="0.0000" stop-color="#000000"/><stop offset="0.3986" stop-color="#010101"/><stop offset="0.4478" stop-color="#060606"/><stop offset="0.4815" stop-color="#101010"/><stop offset="0.4944" stop-color="#191919"/><stop offset="0.5074" stop-color="#252525"/><stop offset="0.5177" stop-color="#323232"/><stop offset="0.5281" stop-color="#464646"/><stop offset="0.5281" stop-color="#5f5f5f"/><stop offset="0.5670" stop-color="#848484"/><stop offset="0.5825" stop-color="#909090"/><stop offset="0.5980" stop-color="#989898"/><stop offset="0.6136" stop-color="#9b9b9b"/><stop offset="0.6265" stop-color="#9b9b9b"/><stop offset="0.6421" stop-color="#969696"/><stop offset="0.6576" stop-color="#8e8e8e"/><stop offset="0.6576" stop-color="#6b6b6b"/><stop offset="0.6784" stop-color="#565656"/><stop offset="0.7043" stop-color="#454545"/><stop offset="0.7328" stop-color="#383838"/><stop offset="0.7691" stop-color="#2c2c2c"/><stop offset="0.8132" stop-color="#222222"/><stop offset="0.8677" stop-color="#191919"/><stop offset="1.0000" stop-color="#0c0c0c"/></linearGradient><linearGradient id="g66" gradientUnits="userSpaceOnUse" x1="0" y1="460.27" x2="0" y2="671.23"><stop offset="0.0000" stop-color="#000000"/><stop offset="0.3986" stop-color="#010101"/><stop offset="0.4478" stop-color="#060606"/><stop offset="0.4815" stop-color="#101010"/><stop offset="0.4944" stop-color="#191919"/><stop offset="0.5074" stop-color="#252525"/><stop offset="0.5177" stop-color="#323232"/><stop offset="0.5281" stop-color="#464646"/><stop offset="0.5281" stop-color="#5f5f5f"/><stop offset="0.5670" stop-color="#858585"/><stop offset="0.5825" stop-color="#909090"/><stop offset="0.5980" stop-color="#989898"/><stop offset="0.6136" stop-color="#9b9b9b"/><stop offset="0.6265" stop-color="#9b9b9b"/><stop offset="0.6421" stop-color="#979797"/><stop offset="0.6576" stop-color="#8e8e8e"/><stop offset="0.6576" stop-color="#6b6b6b"/><stop offset="0.6784" stop-color="#565656"/><stop offset="0.7043" stop-color="#454545"/><stop offset="0.7328" stop-color="#383838"/><stop offset="0.7691" stop-color="#2c2c2c"/><stop offset="0.8132" stop-color="#222222"/><stop offset="0.8677" stop-color="#191919"/><stop offset="1.0000" stop-color="#0c0c0c"/></linearGradient><linearGradient id="g67" gradientUnits="userSpaceOnUse" x1="0" y1="460.27" x2="0" y2="671.23"><stop offset="0.0000" stop-color="#000000"/><stop offset="0.3986" stop-color="#010101"/><stop offset="0.4478" stop-color="#060606"/><stop offset="0.4815" stop-color="#101010"/><stop offset="0.4944" stop-color="#191919"/><stop offset="0.5074" stop-color="#252525"/><stop offset="0.5177" stop-color="#333333"/><stop offset="0.5281" stop-color="#464646"/><stop offset="0.5281" stop-color="#5f5f5f"/><stop offset="0.5670" stop-color="#858585"/><stop offset="0.5825" stop-color="#909090"/><stop offset="0.5980" stop-color="#989898"/><stop offset="0.6136" stop-color="#9b9b9b"/><stop offset="0.6265" stop-color="#9b9b9b"/><stop offset="0.6421" stop-color="#979797"/><stop offset="0.6576" stop-color="#8e8e8e"/><stop offset="0.6576" stop-color="#6b6b6b"/><stop offset="0.6784" stop-color="#565656"/><stop offset="0.7043" stop-color="#454545"/><stop offset="0.7328" stop-color="#383838"/><stop offset="0.7691" stop-color="#2c2c2c"/><stop offset="0.8132" stop-color="#222222"/><stop offset="0.8677" stop-color="#191919"/><stop offset="1.0000" stop-color="#0c0c0c"/></linearGradient><filter id="hb68" filterUnits="userSpaceOnUse" x="101" y="458" width="1862" height="215.5" color-interpolation-filters="sRGB"><feGaussianBlur stdDeviation="7 0"/><feComponentTransfer><feFuncR type="table" tableValues="1 1 1 1 1 1 0.6667 0.3333 0"/><feFuncG type="table" tableValues="1 1 1 0.6667 0.3333 0 0 0 0"/><feFuncB type="table" tableValues="1 0.5 0 0 0 0 0 0 0"/></feComponentTransfer></filter><clipPath id="cp69"><rect x="141" y="463" width="1782" height="205.5"/></clipPath><linearGradient id="g70" gradientUnits="userSpaceOnUse" x1="0" y1="1300.27" x2="0" y2="1511.03"><stop offset="0.0000" stop-color="#000000"/><stop offset="0.2138" stop-color="#010101"/><stop offset="0.2634" stop-color="#040404"/><stop offset="0.2999" stop-color="#090909"/><stop offset="0.3312" stop-color="#131313"/><stop offset="0.3573" stop-color="#222222"/><stop offset="0.3807" stop-color="#383838"/><stop offset="0.3990" stop-color="#545454"/><stop offset="0.3990" stop-color="#858585"/><stop offset="0.4223" stop-color="#c3c3c3"/><stop offset="0.4379" stop-color="#e6e6e6"/><stop offset="0.4508" stop-color="#f8f8f8"/><stop offset="0.4638" stop-color="#ffffff"/><stop offset="0.4768" stop-color="#f8f8f8"/><stop offset="0.4897" stop-color="#e6e6e6"/><stop offset="0.5053" stop-color="#c3c3c3"/><stop offset="0.5286" stop-color="#858585"/><stop offset="0.5286" stop-color="#737373"/><stop offset="0.5545" stop-color="#525252"/><stop offset="0.5856" stop-color="#373737"/><stop offset="0.6193" stop-color="#242424"/><stop offset="0.6582" stop-color="#161616"/><stop offset="0.6582" stop-color="#0d0d0d"/><stop offset="0.7052" stop-color="#060606"/><stop offset="0.7652" stop-color="#020202"/><stop offset="1.0000" stop-color="#000000"/></linearGradient><linearGradient id="g71" gradientUnits="userSpaceOnUse" x1="0" y1="1300.27" x2="0" y2="1511.03"><stop offset="0.0000" stop-color="#000000"/><stop offset="0.2138" stop-color="#010101"/><stop offset="0.2634" stop-color="#040404"/><stop offset="0.2999" stop-color="#090909"/><stop offset="0.3312" stop-color="#131313"/><stop offset="0.3573" stop-color="#212121"/><stop offset="0.3807" stop-color="#383838"/><stop offset="0.3990" stop-color="#545454"/><stop offset="0.3990" stop-color="#858585"/><stop offset="0.4223" stop-color="#c3c3c3"/><stop offset="0.4379" stop-color="#e5e5e5"/><stop offset="0.4508" stop-color="#f8f8f8"/><stop offset="0.4638" stop-color="#ffffff"/><stop offset="0.4768" stop-color="#f8f8f8"/><stop offset="0.4897" stop-color="#e5e5e5"/><stop offset="0.5053" stop-color="#c3c3c3"/><stop offset="0.5286" stop-color="#858585"/><stop offset="0.5286" stop-color="#737373"/><stop offset="0.5545" stop-color="#525252"/><stop offset="0.5856" stop-color="#373737"/><stop offset="0.6193" stop-color="#242424"/><stop offset="0.6582" stop-color="#161616"/><stop offset="0.6582" stop-color="#0d0d0d"/><stop offset="0.7052" stop-color="#060606"/><stop offset="0.7652" stop-color="#020202"/><stop offset="1.0000" stop-color="#000000"/></linearGradient><linearGradient id="g72" gradientUnits="userSpaceOnUse" x1="0" y1="1300.27" x2="0" y2="1511.03"><stop offset="0.0000" stop-color="#000000"/><stop offset="0.2138" stop-color="#010101"/><stop offset="0.2634" stop-color="#040404"/><stop offset="0.2999" stop-color="#090909"/><stop offset="0.3312" stop-color="#131313"/><stop offset="0.3573" stop-color="#212121"/><stop offset="0.3807" stop-color="#373737"/><stop offset="0.3990" stop-color="#535353"/><stop offset="0.3990" stop-color="#838383"/><stop offset="0.4223" stop-color="#c1c1c1"/><stop offset="0.4379" stop-color="#e2e2e2"/><stop offset="0.4508" stop-color="#f5f5f5"/><stop offset="0.4638" stop-color="#fbfbfb"/><stop offset="0.4768" stop-color="#f5f5f5"/><stop offset="0.4897" stop-color="#e2e2e2"/><stop offset="0.5053" stop-color="#c1c1c1"/><stop offset="0.5286" stop-color="#838383"/><stop offset="0.5286" stop-color="#262626"/><stop offset="0.5364" stop-color="#191919"/><stop offset="0.5442" stop-color="#111111"/><stop offset="0.5649" stop-color="#060606"/><stop offset="0.5960" stop-color="#010101"/><stop offset="0.6582" stop-color="#000000"/><stop offset="1.0000" stop-color="#000000"/></linearGradient><linearGradient id="g73" gradientUnits="userSpaceOnUse" x1="0" y1="1300.27" x2="0" y2="1511.03"><stop offset="0.0000" stop-color="#000000"/><stop offset="0.2138" stop-color="#010101"/><stop offset="0.2634" stop-color="#040404"/><stop offset="0.2999" stop-color="#090909"/><stop offset="0.3312" stop-color="#121212"/><stop offset="0.3573" stop-color="#202020"/><stop offset="0.3807" stop-color="#363636"/><stop offset="0.3990" stop-color="#515151"/><stop offset="0.3990" stop-color="#818181"/><stop offset="0.4223" stop-color="#bdbdbd"/><stop offset="0.4379" stop-color="#dedede"/><stop offset="0.4508" stop-color="#f0f0f0"/><stop offset="0.4638" stop-color="#f7f7f7"/><stop offset="0.4768" stop-color="#f0f0f0"/><stop offset="0.4897" stop-color="#dedede"/><stop offset="0.5053" stop-color="#bdbdbd"/><stop offset="0.5286" stop-color="#818181"/><stop offset="0.5286" stop-color="#272727"/><stop offset="0.5364" stop-color="#1b1b1b"/><stop offset="0.5442" stop-color="#121212"/><stop offset="0.5545" stop-color="#0b0b0b"/><stop offset="0.5675" stop-color="#060606"/><stop offset="0.5986" stop-color="#020202"/><stop offset="0.6582" stop-color="#010101"/><stop offset="1.0000" stop-color="#000000"/></linearGradient><linearGradient id="g74" gradientUnits="userSpaceOnUse" x1="0" y1="1300.27" x2="0" y2="1511.03"><stop offset="0.0000" stop-color="#000000"/><stop offset="0.2138" stop-color="#010101"/><stop offset="0.2634" stop-color="#040404"/><stop offset="0.2999" stop-color="#090909"/><stop offset="0.3312" stop-color="#121212"/><stop offset="0.3573" stop-color="#202020"/><stop offset="0.3807" stop-color="#353535"/><stop offset="0.3990" stop-color="#505050"/><stop offset="0.3990" stop-color="#7e7e7e"/><stop offset="0.4223" stop-color="#bababa"/><stop offset="0.4379" stop-color="#dadada"/><stop offset="0.4508" stop-color="#ececec"/><stop offset="0.4638" stop-color="#f2f2f2"/><stop offset="0.4768" stop-color="#ececec"/><stop offset="0.4897" stop-color="#dadada"/><stop offset="0.5053" stop-color="#bababa"/><stop offset="0.5286" stop-color="#7f7f7f"/><stop offset="0.5286" stop-color="#2a2a2a"/><stop offset="0.5364" stop-color="#1e1e1e"/><stop offset="0.5442" stop-color="#161616"/><stop offset="0.5545" stop-color="#0f0f0f"/><stop offset="0.5675" stop-color="#090909"/><stop offset="0.5986" stop-color="#040404"/><stop offset="0.6582" stop-color="#020202"/><stop offset="1.0000" stop-color="#000000"/></linearGradient><linearGradient id="g75" gradientUnits="userSpaceOnUse" x1="0" y1="1300.27" x2="0" y2="1511.03"><stop offset="0.0000" stop-color="#000000"/><stop offset="0.2138" stop-color="#010101"/><stop offset="0.2634" stop-color="#040404"/><stop offset="0.2999" stop-color="#090909"/><stop offset="0.3312" stop-color="#121212"/><stop offset="0.3573" stop-color="#202020"/><stop offset="0.3807" stop-color="#353535"/><stop offset="0.3990" stop-color="#4f4f4f"/><stop offset="0.3990" stop-color="#7d7d7d"/><stop offset="0.4223" stop-color="#b8b8b8"/><stop offset="0.4379" stop-color="#d8d8d8"/><stop offset="0.4508" stop-color="#eaeaea"/><stop offset="0.4638" stop-color="#f0f0f0"/><stop offset="0.4768" stop-color="#eaeaea"/><stop offset="0.4897" stop-color="#d9d9d9"/><stop offset="0.5053" stop-color="#b9b9b9"/><stop offset="0.5286" stop-color="#7f7f7f"/><stop offset="0.5286" stop-color="#303030"/><stop offset="0.5364" stop-color="#242424"/><stop offset="0.5468" stop-color="#1a1a1a"/><stop offset="0.5701" stop-color="#0d0d0d"/><stop offset="0.6012" stop-color="#070707"/><stop offset="0.6582" stop-color="#040404"/><stop offset="1.0000" stop-color="#000000"/></linearGradient><linearGradient id="g76" gradientUnits="userSpaceOnUse" x1="0" y1="1300.27" x2="0" y2="1511.03"><stop offset="0.0000" stop-color="#000000"/><stop offset="0.2138" stop-color="#010101"/><stop offset="0.2634" stop-color="#040404"/><stop offset="0.2999" stop-color="#090909"/><stop offset="0.3312" stop-color="#121212"/><stop offset="0.3573" stop-color="#1f1f1f"/><stop offset="0.3807" stop-color="#353535"/><stop offset="0.3990" stop-color="#4f4f4f"/><stop offset="0.3990" stop-color="#7c7c7c"/><stop offset="0.4223" stop-color="#b7b7b7"/><stop offset="0.4379" stop-color="#d7d7d7"/><stop offset="0.4508" stop-color="#e9e9e9"/><stop offset="0.4638" stop-color="#efefef"/><stop offset="0.4768" stop-color="#e9e9e9"/><stop offset="0.4897" stop-color="#d8d8d8"/><stop offset="0.5053" stop-color="#b8b8b8"/><stop offset="0.5286" stop-color="#7f7f7f"/><stop offset="0.5286" stop-color="#373737"/><stop offset="0.5364" stop-color="#2c2c2c"/><stop offset="0.5468" stop-color="#222222"/><stop offset="0.5597" stop-color="#181818"/><stop offset="0.5727" stop-color="#131313"/><stop offset="0.6038" stop-color="#0c0c0c"/><stop offset="0.6582" stop-color="#080808"/><stop offset="0.7782" stop-color="#030303"/><stop offset="1.0000" stop-color="#010101"/></linearGradient><linearGradient id="g77" gradientUnits="userSpaceOnUse" x1="0" y1="1300.27" x2="0" y2="1511.03"><stop offset="0.0000" stop-color="#000000"/><stop offset="0.2138" stop-color="#010101"/><stop offset="0.2634" stop-color="#040404"/><stop offset="0.2999" stop-color="#090909"/><stop offset="0.3312" stop-color="#111111"/><stop offset="0.3573" stop-color="#1f1f1f"/><stop offset="0.3807" stop-color="#343434"/><stop offset="0.3990" stop-color="#4d4d4d"/><stop offset="0.3990" stop-color="#7a7a7a"/><stop offset="0.4223" stop-color="#b4b4b4"/><stop offset="0.4379" stop-color="#d3d3d3"/><stop offset="0.4508" stop-color="#e5e5e5"/><stop offset="0.4638" stop-color="#ebebeb"/><stop offset="0.4768" stop-color="#e5e5e5"/><stop offset="0.4897" stop-color="#d5d5d5"/><stop offset="0.5053" stop-color="#b6b6b6"/><stop offset="0.5286" stop-color="#7f7f7f"/><stop offset="0.5286" stop-color="#404040"/><stop offset="0.5390" stop-color="#323232"/><stop offset="0.5493" stop-color="#292929"/><stop offset="0.5727" stop-color="#1b1b1b"/><stop offset="0.6038" stop-color="#131313"/><stop offset="0.6582" stop-color="#0c0c0c"/><stop offset="0.6582" stop-color="#0d0d0d"/><stop offset="0.7782" stop-color="#050505"/><stop offset="1.0000" stop-color="#010101"/></linearGradient><linearGradient id="g78" gradientUnits="userSpaceOnUse" x1="0" y1="1300.27" x2="0" y2="1511.03"><stop offset="0.0000" stop-color="#000000"/><stop offset="0.2138" stop-color="#010101"/><stop offset="0.2634" stop-color="#040404"/><stop offset="0.2999" stop-color="#090909"/><stop offset="0.3312" stop-color="#111111"/><stop offset="0.3573" stop-color="#1e1e1e"/><stop offset="0.3807" stop-color="#333333"/><stop offset="0.3990" stop-color="#4c4c4c"/><stop offset="0.3990" stop-color="#787878"/><stop offset="0.4223" stop-color="#b1b1b1"/><stop offset="0.4379" stop-color="#d0d0d0"/><stop offset="0.4508" stop-color="#e1e1e1"/><stop offset="0.4638" stop-color="#e8e8e8"/><stop offset="0.4768" stop-color="#e2e2e2"/><stop offset="0.4897" stop-color="#d2d2d2"/><stop offset="0.5053" stop-color="#b4b4b4"/><stop offset="0.5286" stop-color="#7f7f7f"/><stop offset="0.5286" stop-color="#494949"/><stop offset="0.5493" stop-color="#333333"/><stop offset="0.5753" stop-color="#242424"/><stop offset="0.6064" stop-color="#1b1b1b"/><stop offset="0.6582" stop-color="#121212"/><stop offset="0.6582" stop-color="#131313"/><stop offset="0.7104" stop-color="#0c0c0c"/><stop offset="0.7782" stop-color="#070707"/><stop offset="1.0000" stop-color="#020202"/></linearGradient><linearGradient id="g79" gradientUnits="userSpaceOnUse" x1="0" y1="1300.27" x2="0" y2="1511.03"><stop offset="0.0000" stop-color="#000000"/><stop offset="0.2138" stop-color="#010101"/><stop offset="0.2634" stop-color="#040404"/><stop offset="0.2999" stop-color="#090909"/><stop offset="0.3312" stop-color="#111111"/><stop offset="0.3573" stop-color="#1e1e1e"/><stop offset="0.3807" stop-color="#333333"/><stop offset="0.3990" stop-color="#4c4c4c"/><stop offset="0.3990" stop-color="#787878"/><stop offset="0.4223" stop-color="#b0b0b0"/><stop offset="0.4379" stop-color="#d0d0d0"/><stop offset="0.4508" stop-color="#e1e1e1"/><stop offset="0.4638" stop-color="#e7e7e7"/><stop offset="0.4768" stop-color="#e2e2e2"/><stop offset="0.4897" stop-color="#d2d2d2"/><stop offset="0.5027" stop-color="#bababa"/><stop offset="0.5286" stop-color="#808080"/><stop offset="0.5286" stop-color="#545454"/><stop offset="0.5493" stop-color="#3e3e3e"/><stop offset="0.5753" stop-color="#2e2e2e"/><stop offset="0.6064" stop-color="#242424"/><stop offset="0.6582" stop-color="#191919"/><stop offset="0.6582" stop-color="#1a1a1a"/><stop offset="0.7104" stop-color="#111111"/><stop offset="0.7809" stop-color="#0a0a0a"/><stop offset="1.0000" stop-color="#020202"/></linearGradient><linearGradient id="g80" gradientUnits="userSpaceOnUse" x1="0" y1="1300.27" x2="0" y2="1511.03"><stop offset="0.0000" stop-color="#000000"/><stop offset="0.2138" stop-color="#010101"/><stop offset="0.2634" stop-color="#040404"/><stop offset="0.2999" stop-color="#080808"/><stop offset="0.3312" stop-color="#111111"/><stop offset="0.3573" stop-color="#1e1e1e"/><stop offset="0.3807" stop-color="#323232"/><stop offset="0.3990" stop-color="#4c4c4c"/><stop offset="0.3990" stop-color="#777777"/><stop offset="0.4223" stop-color="#afafaf"/><stop offset="0.4379" stop-color="#cecece"/><stop offset="0.4508" stop-color="#dfdfdf"/><stop offset="0.4638" stop-color="#e6e6e6"/><stop offset="0.4768" stop-color="#e1e1e1"/><stop offset="0.4897" stop-color="#d2d2d2"/><stop offset="0.5027" stop-color="#bbbbbb"/><stop offset="0.5286" stop-color="#828282"/><stop offset="0.5286" stop-color="#5f5f5f"/><stop offset="0.5493" stop-color="#494949"/><stop offset="0.5753" stop-color="#393939"/><stop offset="0.6064" stop-color="#2d2d2d"/><stop offset="0.6582" stop-color="#1f1f1f"/><stop offset="0.6582" stop-color="#222222"/><stop offset="0.7104" stop-color="#151515"/><stop offset="0.7809" stop-color="#0d0d0d"/><stop offset="0.8722" stop-color="#070707"/><stop offset="1.0000" stop-color="#030303"/></linearGradient><linearGradient id="g81" gradientUnits="userSpaceOnUse" x1="0" y1="1300.27" x2="0" y2="1511.03"><stop offset="0.0000" stop-color="#000000"/><stop offset="0.2138" stop-color="#010101"/><stop offset="0.2634" stop-color="#040404"/><stop offset="0.2999" stop-color="#080808"/><stop offset="0.3312" stop-color="#111111"/><stop offset="0.3573" stop-color="#1e1e1e"/><stop offset="0.3807" stop-color="#323232"/><stop offset="0.3990" stop-color="#4b4b4b"/><stop offset="0.3990" stop-color="#747474"/><stop offset="0.4223" stop-color="#ababab"/><stop offset="0.4379" stop-color="#cbcbcb"/><stop offset="0.4508" stop-color="#dcdcdc"/><stop offset="0.4638" stop-color="#e4e4e4"/><stop offset="0.4768" stop-color="#dfdfdf"/><stop offset="0.4897" stop-color="#d1d1d1"/><stop offset="0.5027" stop-color="#bababa"/><stop offset="0.5286" stop-color="#838383"/><stop offset="0.5286" stop-color="#686868"/><stop offset="0.5493" stop-color="#535353"/><stop offset="0.5753" stop-color="#434343"/><stop offset="0.6064" stop-color="#363636"/><stop offset="0.6582" stop-color="#262626"/><stop offset="0.6582" stop-color="#2a2a2a"/><stop offset="0.7130" stop-color="#1a1a1a"/><stop offset="0.7809" stop-color="#0f0f0f"/><stop offset="0.8722" stop-color="#080808"/><stop offset="1.0000" stop-color="#040404"/></linearGradient><linearGradient id="g82" gradientUnits="userSpaceOnUse" x1="0" y1="1300.27" x2="0" y2="1511.03"><stop offset="0.0000" stop-color="#000000"/><stop offset="0.2138" stop-color="#010101"/><stop offset="0.2999" stop-color="#080808"/><stop offset="0.3312" stop-color="#101010"/><stop offset="0.3573" stop-color="#1d1d1d"/><stop offset="0.3807" stop-color="#313131"/><stop offset="0.3990" stop-color="#4a4a4a"/><stop offset="0.3990" stop-color="#717171"/><stop offset="0.4249" stop-color="#adadad"/><stop offset="0.4379" stop-color="#c7c7c7"/><stop offset="0.4508" stop-color="#d9d9d9"/><stop offset="0.4638" stop-color="#e0e0e0"/><stop offset="0.4768" stop-color="#dddddd"/><stop offset="0.4897" stop-color="#d0d0d0"/><stop offset="0.5053" stop-color="#b5b5b5"/><stop offset="0.5286" stop-color="#858585"/><stop offset="0.5286" stop-color="#717171"/><stop offset="0.5493" stop-color="#5d5d5d"/><stop offset="0.5753" stop-color="#4d4d4d"/><stop offset="0.6038" stop-color="#404040"/><stop offset="0.6582" stop-color="#2d2d2d"/><stop offset="0.6582" stop-color="#323232"/><stop offset="0.7130" stop-color="#1f1f1f"/><stop offset="0.7809" stop-color="#121212"/><stop offset="0.8722" stop-color="#0a0a0a"/><stop offset="1.0000" stop-color="#040404"/></linearGradient><linearGradient id="g83" gradientUnits="userSpaceOnUse" x1="0" y1="1300.27" x2="0" y2="1511.03"><stop offset="0.0000" stop-color="#000000"/><stop offset="0.2138" stop-color="#010101"/><stop offset="0.2999" stop-color="#080808"/><stop offset="0.3312" stop-color="#101010"/><stop offset="0.3573" stop-color="#1d1d1d"/><stop offset="0.3807" stop-color="#303030"/><stop offset="0.3990" stop-color="#494949"/><stop offset="0.3990" stop-color="#6d6d6d"/><stop offset="0.4249" stop-color="#a9a9a9"/><stop offset="0.4379" stop-color="#c2c2c2"/><stop offset="0.4508" stop-color="#d5d5d5"/><stop offset="0.4638" stop-color="#dedede"/><stop offset="0.4768" stop-color="#dbdbdb"/><stop offset="0.4897" stop-color="#cfcfcf"/><stop offset="0.5053" stop-color="#b6b6b6"/><stop offset="0.5286" stop-color="#878787"/><stop offset="0.5286" stop-color="#7a7a7a"/><stop offset="0.5493" stop-color="#676767"/><stop offset="0.5727" stop-color="#585858"/><stop offset="0.6582" stop-color="#353535"/><stop offset="0.6582" stop-color="#3b3b3b"/><stop offset="0.6843" stop-color="#2f2f2f"/><stop offset="0.7130" stop-color="#252525"/><stop offset="0.7835" stop-color="#151515"/><stop offset="0.8748" stop-color="#0b0b0b"/><stop offset="1.0000" stop-color="#050505"/></linearGradient><linearGradient id="g84" gradientUnits="userSpaceOnUse" x1="0" y1="1300.27" x2="0" y2="1511.03"><stop offset="0.0000" stop-color="#000000"/><stop offset="0.2138" stop-color="#010101"/><stop offset="0.2999" stop-color="#080808"/><stop offset="0.3312" stop-color="#101010"/><stop offset="0.3573" stop-color="#1d1d1d"/><stop offset="0.3807" stop-color="#303030"/><stop offset="0.3990" stop-color="#484848"/><stop offset="0.3990" stop-color="#696969"/><stop offset="0.4249" stop-color="#a5a5a5"/><stop offset="0.4379" stop-color="#bfbfbf"/><stop offset="0.4508" stop-color="#d2d2d2"/><stop offset="0.4638" stop-color="#dbdbdb"/><stop offset="0.4768" stop-color="#dadada"/><stop offset="0.4897" stop-color="#cfcfcf"/><stop offset="0.5053" stop-color="#b7b7b7"/><stop offset="0.5286" stop-color="#8a8a8a"/><stop offset="0.5286" stop-color="#838383"/><stop offset="0.5468" stop-color="#737373"/><stop offset="0.5701" stop-color="#646464"/><stop offset="0.6582" stop-color="#3d3d3d"/><stop offset="0.6582" stop-color="#454545"/><stop offset="0.6843" stop-color="#363636"/><stop offset="0.7130" stop-color="#2b2b2b"/><stop offset="0.7835" stop-color="#191919"/><stop offset="0.8748" stop-color="#0d0d0d"/><stop offset="1.0000" stop-color="#060606"/></linearGradient><linearGradient id="g85" gradientUnits="userSpaceOnUse" x1="0" y1="1300.27" x2="0" y2="1511.03"><stop offset="0.0000" stop-color="#000000"/><stop offset="0.2138" stop-color="#010101"/><stop offset="0.2999" stop-color="#080808"/><stop offset="0.3312" stop-color="#101010"/><stop offset="0.3573" stop-color="#1c1c1c"/><stop offset="0.3807" stop-color="#303030"/><stop offset="0.3990" stop-color="#474747"/><stop offset="0.3990" stop-color="#666666"/><stop offset="0.4275" stop-color="#a7a7a7"/><stop offset="0.4405" stop-color="#c0c0c0"/><stop offset="0.4534" stop-color="#d2d2d2"/><stop offset="0.4664" stop-color="#dbdbdb"/><stop offset="0.4794" stop-color="#d9d9d9"/><stop offset="0.4923" stop-color="#cdcdcd"/><stop offset="0.5053" stop-color="#bababa"/><stop offset="0.5286" stop-color="#8f8f8f"/><stop offset="0.5286" stop-color="#8b8b8b"/><stop offset="0.5468" stop-color="#7c7c7c"/><stop offset="0.5675" stop-color="#6f6f6f"/><stop offset="0.6582" stop-color="#454545"/><stop offset="0.6582" stop-color="#4e4e4e"/><stop offset="0.6843" stop-color="#3e3e3e"/><stop offset="0.7130" stop-color="#313131"/><stop offset="0.7469" stop-color="#252525"/><stop offset="0.7835" stop-color="#1c1c1c"/><stop offset="0.8748" stop-color="#0f0f0f"/><stop offset="1.0000" stop-color="#070707"/></linearGradient><linearGradient id="g86" gradientUnits="userSpaceOnUse" x1="0" y1="1300.27" x2="0" y2="1511.03"><stop offset="0.0000" stop-color="#000000"/><stop offset="0.2138" stop-color="#010101"/><stop offset="0.2999" stop-color="#080808"/><stop offset="0.3312" stop-color="#101010"/><stop offset="0.3573" stop-color="#1c1c1c"/><stop offset="0.3807" stop-color="#2f2f2f"/><stop offset="0.3990" stop-color="#474747"/><stop offset="0.3990" stop-color="#626262"/><stop offset="0.4275" stop-color="#a3a3a3"/><stop offset="0.4405" stop-color="#bcbcbc"/><stop offset="0.4534" stop-color="#d0d0d0"/><stop offset="0.4664" stop-color="#d9d9d9"/><stop offset="0.4794" stop-color="#d9d9d9"/><stop offset="0.4923" stop-color="#cfcfcf"/><stop offset="0.5053" stop-color="#bdbdbd"/><stop offset="0.5286" stop-color="#939393"/><stop offset="0.5286" stop-color="#929292"/><stop offset="0.5468" stop-color="#848484"/><stop offset="0.5649" stop-color="#797979"/><stop offset="0.6582" stop-color="#4d4d4d"/><stop offset="0.6582" stop-color="#575757"/><stop offset="0.6843" stop-color="#454545"/><stop offset="0.7130" stop-color="#363636"/><stop offset="0.7469" stop-color="#292929"/><stop offset="0.7835" stop-color="#1f1f1f"/><stop offset="0.8748" stop-color="#111111"/><stop offset="1.0000" stop-color="#070707"/></linearGradient><linearGradient id="g87" gradientUnits="userSpaceOnUse" x1="0" y1="1300.27" x2="0" y2="1511.03"><stop offset="0.0000" stop-color="#000000"/><stop offset="0.2138" stop-color="#010101"/><stop offset="0.2999" stop-color="#080808"/><stop offset="0.3312" stop-color="#0f0f0f"/><stop offset="0.3573" stop-color="#1b1b1b"/><stop offset="0.3807" stop-color="#2e2e2e"/><stop offset="0.3990" stop-color="#454545"/><stop offset="0.3990" stop-color="#5d5d5d"/><stop offset="0.4275" stop-color="#9c9c9c"/><stop offset="0.4405" stop-color="#b6b6b6"/><stop offset="0.4534" stop-color="#c9c9c9"/><stop offset="0.4664" stop-color="#d4d4d4"/><stop offset="0.4794" stop-color="#d5d5d5"/><stop offset="0.4923" stop-color="#cdcdcd"/><stop offset="0.5053" stop-color="#bcbcbc"/><stop offset="0.5286" stop-color="#969696"/><stop offset="0.5286" stop-color="#979797"/><stop offset="0.5623" stop-color="#818181"/><stop offset="0.6582" stop-color="#545454"/><stop offset="0.6582" stop-color="#5e5e5e"/><stop offset="0.6843" stop-color="#4b4b4b"/><stop offset="0.7130" stop-color="#3b3b3b"/><stop offset="0.7469" stop-color="#2d2d2d"/><stop offset="0.7835" stop-color="#222222"/><stop offset="0.8748" stop-color="#121212"/><stop offset="1.0000" stop-color="#080808"/></linearGradient><linearGradient id="g88" gradientUnits="userSpaceOnUse" x1="0" y1="1300.27" x2="0" y2="1511.03"><stop offset="0.0000" stop-color="#000000"/><stop offset="0.2138" stop-color="#010101"/><stop offset="0.2999" stop-color="#080808"/><stop offset="0.3312" stop-color="#0f0f0f"/><stop offset="0.3573" stop-color="#1b1b1b"/><stop offset="0.3807" stop-color="#2d2d2d"/><stop offset="0.3990" stop-color="#444444"/><stop offset="0.3990" stop-color="#585858"/><stop offset="0.4405" stop-color="#afafaf"/><stop offset="0.4534" stop-color="#c4c4c4"/><stop offset="0.4664" stop-color="#d0d0d0"/><stop offset="0.4794" stop-color="#d2d2d2"/><stop offset="0.4923" stop-color="#cbcbcb"/><stop offset="0.5053" stop-color="#bdbdbd"/><stop offset="0.5286" stop-color="#999999"/><stop offset="0.5286" stop-color="#9a9a9a"/><stop offset="0.5571" stop-color="#888888"/><stop offset="0.6219" stop-color="#6d6d6d"/><stop offset="0.6582" stop-color="#5a5a5a"/><stop offset="0.6582" stop-color="#646464"/><stop offset="0.6843" stop-color="#4f4f4f"/><stop offset="0.7130" stop-color="#3e3e3e"/><stop offset="0.7443" stop-color="#313131"/><stop offset="0.7809" stop-color="#252525"/><stop offset="0.8722" stop-color="#141414"/><stop offset="1.0000" stop-color="#090909"/></linearGradient><linearGradient id="g89" gradientUnits="userSpaceOnUse" x1="0" y1="1300.27" x2="0" y2="1511.03"><stop offset="0.0000" stop-color="#000000"/><stop offset="0.2138" stop-color="#010101"/><stop offset="0.2999" stop-color="#070707"/><stop offset="0.3312" stop-color="#0f0f0f"/><stop offset="0.3573" stop-color="#1b1b1b"/><stop offset="0.3807" stop-color="#2d2d2d"/><stop offset="0.3990" stop-color="#434343"/><stop offset="0.3990" stop-color="#545454"/><stop offset="0.4431" stop-color="#b0b0b0"/><stop offset="0.4560" stop-color="#c3c3c3"/><stop offset="0.4690" stop-color="#cfcfcf"/><stop offset="0.4819" stop-color="#d1d1d1"/><stop offset="0.4949" stop-color="#cacaca"/><stop offset="0.5079" stop-color="#bcbcbc"/><stop offset="0.5286" stop-color="#9e9e9e"/><stop offset="0.5286" stop-color="#9d9d9d"/><stop offset="0.5519" stop-color="#8f8f8f"/><stop offset="0.6193" stop-color="#747474"/><stop offset="0.6582" stop-color="#606060"/><stop offset="0.6582" stop-color="#696969"/><stop offset="0.6843" stop-color="#545454"/><stop offset="0.7130" stop-color="#424242"/><stop offset="0.7443" stop-color="#333333"/><stop offset="0.7809" stop-color="#272727"/><stop offset="0.8226" stop-color="#1d1d1d"/><stop offset="0.8722" stop-color="#151515"/><stop offset="1.0000" stop-color="#090909"/></linearGradient><linearGradient id="g90" gradientUnits="userSpaceOnUse" x1="0" y1="1300.27" x2="0" y2="1511.03"><stop offset="0.0000" stop-color="#000000"/><stop offset="0.2138" stop-color="#010101"/><stop offset="0.2999" stop-color="#070707"/><stop offset="0.3312" stop-color="#0e0e0e"/><stop offset="0.3573" stop-color="#1a1a1a"/><stop offset="0.3807" stop-color="#2b2b2b"/><stop offset="0.3990" stop-color="#414141"/><stop offset="0.3990" stop-color="#4d4d4d"/><stop offset="0.4457" stop-color="#ababab"/><stop offset="0.4586" stop-color="#bdbdbd"/><stop offset="0.4690" stop-color="#c7c7c7"/><stop offset="0.4819" stop-color="#cacaca"/><stop offset="0.4949" stop-color="#c5c5c5"/><stop offset="0.5079" stop-color="#b9b9b9"/><stop offset="0.5286" stop-color="#9e9e9e"/><stop offset="0.5286" stop-color="#9c9c9c"/><stop offset="0.5545" stop-color="#8f8f8f"/><stop offset="0.6193" stop-color="#797979"/><stop offset="0.6582" stop-color="#646464"/><stop offset="0.6582" stop-color="#6d6d6d"/><stop offset="0.6843" stop-color="#575757"/><stop offset="0.7130" stop-color="#444444"/><stop offset="0.7443" stop-color="#353535"/><stop offset="0.7809" stop-color="#282828"/><stop offset="0.8226" stop-color="#1e1e1e"/><stop offset="0.8722" stop-color="#161616"/><stop offset="1.0000" stop-color="#0a0a0a"/></linearGradient><linearGradient id="g91" gradientUnits="userSpaceOnUse" x1="0" y1="1300.27" x2="0" y2="1511.03"><stop offset="0.0000" stop-color="#000000"/><stop offset="0.2138" stop-color="#010101"/><stop offset="0.2999" stop-color="#070707"/><stop offset="0.3312" stop-color="#0e0e0e"/><stop offset="0.3573" stop-color="#181818"/><stop offset="0.3807" stop-color="#292929"/><stop offset="0.3990" stop-color="#3d3d3d"/><stop offset="0.3990" stop-color="#474747"/><stop offset="0.4457" stop-color="#a0a0a0"/><stop offset="0.4586" stop-color="#b3b3b3"/><stop offset="0.4690" stop-color="#bdbdbd"/><stop offset="0.4819" stop-color="#c2c2c2"/><stop offset="0.4949" stop-color="#bfbfbf"/><stop offset="0.5079" stop-color="#b5b5b5"/><stop offset="0.5286" stop-color="#9d9d9d"/><stop offset="0.5286" stop-color="#9a9a9a"/><stop offset="0.5519" stop-color="#919191"/><stop offset="0.6142" stop-color="#7f7f7f"/><stop offset="0.6582" stop-color="#696969"/><stop offset="0.6582" stop-color="#717171"/><stop offset="0.6817" stop-color="#5b5b5b"/><stop offset="0.7104" stop-color="#484848"/><stop offset="0.7443" stop-color="#373737"/><stop offset="0.7809" stop-color="#2a2a2a"/><stop offset="0.8226" stop-color="#1f1f1f"/><stop offset="0.8722" stop-color="#171717"/><stop offset="1.0000" stop-color="#0a0a0a"/></linearGradient><linearGradient id="g92" gradientUnits="userSpaceOnUse" x1="0" y1="1300.27" x2="0" y2="1511.03"><stop offset="0.0000" stop-color="#000000"/><stop offset="0.2138" stop-color="#010101"/><stop offset="0.2999" stop-color="#070707"/><stop offset="0.3312" stop-color="#0d0d0d"/><stop offset="0.3573" stop-color="#181818"/><stop offset="0.3807" stop-color="#282828"/><stop offset="0.3990" stop-color="#3c3c3c"/><stop offset="0.3990" stop-color="#434343"/><stop offset="0.4482" stop-color="#9f9f9f"/><stop offset="0.4612" stop-color="#b1b1b1"/><stop offset="0.4716" stop-color="#bbbbbb"/><stop offset="0.4819" stop-color="#bfbfbf"/><stop offset="0.4949" stop-color="#bebebe"/><stop offset="0.5079" stop-color="#b5b5b5"/><stop offset="0.5286" stop-color="#a0a0a0"/><stop offset="0.5286" stop-color="#9c9c9c"/><stop offset="0.5493" stop-color="#959595"/><stop offset="0.6142" stop-color="#848484"/><stop offset="0.6349" stop-color="#7b7b7b"/><stop offset="0.6582" stop-color="#6e6e6e"/><stop offset="0.6582" stop-color="#757575"/><stop offset="0.6817" stop-color="#5f5f5f"/><stop offset="0.7104" stop-color="#4a4a4a"/><stop offset="0.7443" stop-color="#393939"/><stop offset="0.7809" stop-color="#2c2c2c"/><stop offset="0.8226" stop-color="#212121"/><stop offset="0.8722" stop-color="#181818"/><stop offset="1.0000" stop-color="#0b0b0b"/></linearGradient><linearGradient id="g93" gradientUnits="userSpaceOnUse" x1="0" y1="1300.27" x2="0" y2="1511.03"><stop offset="0.0000" stop-color="#000000"/><stop offset="0.2138" stop-color="#010101"/><stop offset="0.2999" stop-color="#060606"/><stop offset="0.3312" stop-color="#0d0d0d"/><stop offset="0.3573" stop-color="#171717"/><stop offset="0.3807" stop-color="#262626"/><stop offset="0.3990" stop-color="#393939"/><stop offset="0.3990" stop-color="#3d3d3d"/><stop offset="0.4482" stop-color="#959595"/><stop offset="0.4612" stop-color="#a8a8a8"/><stop offset="0.4716" stop-color="#b2b2b2"/><stop offset="0.4845" stop-color="#b8b8b8"/><stop offset="0.4975" stop-color="#b6b6b6"/><stop offset="0.5105" stop-color="#afafaf"/><stop offset="0.5286" stop-color="#9f9f9f"/><stop offset="0.5286" stop-color="#9a9a9a"/><stop offset="0.6116" stop-color="#898989"/><stop offset="0.6349" stop-color="#808080"/><stop offset="0.6582" stop-color="#727272"/><stop offset="0.6582" stop-color="#787878"/><stop offset="0.6817" stop-color="#616161"/><stop offset="0.7104" stop-color="#4c4c4c"/><stop offset="0.7443" stop-color="#3b3b3b"/><stop offset="0.7809" stop-color="#2d2d2d"/><stop offset="0.8226" stop-color="#222222"/><stop offset="0.8722" stop-color="#181818"/><stop offset="1.0000" stop-color="#0b0b0b"/></linearGradient><linearGradient id="g94" gradientUnits="userSpaceOnUse" x1="0" y1="1300.27" x2="0" y2="1511.03"><stop offset="0.0000" stop-color="#000000"/><stop offset="0.2138" stop-color="#010101"/><stop offset="0.2999" stop-color="#060606"/><stop offset="0.3312" stop-color="#0c0c0c"/><stop offset="0.3573" stop-color="#151515"/><stop offset="0.3807" stop-color="#232323"/><stop offset="0.3990" stop-color="#353535"/><stop offset="0.3990" stop-color="#363636"/><stop offset="0.4508" stop-color="#8b8b8b"/><stop offset="0.4612" stop-color="#999999"/><stop offset="0.4716" stop-color="#a3a3a3"/><stop offset="0.4845" stop-color="#aaaaaa"/><stop offset="0.4975" stop-color="#ababab"/><stop offset="0.5105" stop-color="#a5a5a5"/><stop offset="0.5286" stop-color="#999999"/><stop offset="0.5286" stop-color="#969696"/><stop offset="0.6090" stop-color="#8c8c8c"/><stop offset="0.6323" stop-color="#838383"/><stop offset="0.6582" stop-color="#757575"/><stop offset="0.6582" stop-color="#7a7a7a"/><stop offset="0.6817" stop-color="#636363"/><stop offset="0.7104" stop-color="#4e4e4e"/><stop offset="0.7443" stop-color="#3b3b3b"/><stop offset="0.7809" stop-color="#2e2e2e"/><stop offset="0.8226" stop-color="#222222"/><stop offset="0.8722" stop-color="#191919"/><stop offset="1.0000" stop-color="#0c0c0c"/></linearGradient><linearGradient id="g95" gradientUnits="userSpaceOnUse" x1="0" y1="1300.27" x2="0" y2="1511.03"><stop offset="0.0000" stop-color="#000000"/><stop offset="0.2138" stop-color="#010101"/><stop offset="0.2999" stop-color="#050505"/><stop offset="0.3312" stop-color="#0b0b0b"/><stop offset="0.3573" stop-color="#141414"/><stop offset="0.3807" stop-color="#212121"/><stop offset="0.3990" stop-color="#323232"/><stop offset="0.4145" stop-color="#484848"/><stop offset="0.4508" stop-color="#828282"/><stop offset="0.4638" stop-color="#939393"/><stop offset="0.4742" stop-color="#9c9c9c"/><stop offset="0.4845" stop-color="#a2a2a2"/><stop offset="0.4975" stop-color="#a4a4a4"/><stop offset="0.5105" stop-color="#a0a0a0"/><stop offset="0.5286" stop-color="#979797"/><stop offset="0.5286" stop-color="#949494"/><stop offset="0.6064" stop-color="#8f8f8f"/><stop offset="0.6323" stop-color="#878787"/><stop offset="0.6582" stop-color="#787878"/><stop offset="0.6582" stop-color="#7d7d7d"/><stop offset="0.6817" stop-color="#656565"/><stop offset="0.7104" stop-color="#4f4f4f"/><stop offset="0.7443" stop-color="#3d3d3d"/><stop offset="0.7809" stop-color="#2f2f2f"/><stop offset="0.8226" stop-color="#232323"/><stop offset="0.8722" stop-color="#1a1a1a"/><stop offset="1.0000" stop-color="#0c0c0c"/></linearGradient><linearGradient id="g96" gradientUnits="userSpaceOnUse" x1="0" y1="1300.27" x2="0" y2="1511.03"><stop offset="0.0000" stop-color="#000000"/><stop offset="0.2138" stop-color="#010101"/><stop offset="0.2999" stop-color="#050505"/><stop offset="0.3312" stop-color="#0b0b0b"/><stop offset="0.3573" stop-color="#131313"/><stop offset="0.3807" stop-color="#202020"/><stop offset="0.3990" stop-color="#303030"/><stop offset="0.3990" stop-color="#2e2e2e"/><stop offset="0.4145" stop-color="#434343"/><stop offset="0.4534" stop-color="#7f7f7f"/><stop offset="0.4742" stop-color="#969696"/><stop offset="0.4845" stop-color="#9c9c9c"/><stop offset="0.4975" stop-color="#9f9f9f"/><stop offset="0.5105" stop-color="#9d9d9d"/><stop offset="0.5286" stop-color="#969696"/><stop offset="0.5286" stop-color="#939393"/><stop offset="0.5831" stop-color="#949494"/><stop offset="0.6064" stop-color="#929292"/><stop offset="0.6323" stop-color="#8a8a8a"/><stop offset="0.6582" stop-color="#7b7b7b"/><stop offset="0.6582" stop-color="#7f7f7f"/><stop offset="0.6817" stop-color="#676767"/><stop offset="0.7104" stop-color="#515151"/><stop offset="0.7417" stop-color="#3f3f3f"/><stop offset="0.7782" stop-color="#303030"/><stop offset="0.8226" stop-color="#242424"/><stop offset="0.8722" stop-color="#1a1a1a"/><stop offset="1.0000" stop-color="#0c0c0c"/></linearGradient><linearGradient id="g97" gradientUnits="userSpaceOnUse" x1="0" y1="1300.27" x2="0" y2="1511.03"><stop offset="0.0000" stop-color="#000000"/><stop offset="0.2138" stop-color="#010101"/><stop offset="0.2999" stop-color="#050505"/><stop offset="0.3312" stop-color="#090909"/><stop offset="0.3573" stop-color="#111111"/><stop offset="0.3807" stop-color="#1c1c1c"/><stop offset="0.3990" stop-color="#2b2b2b"/><stop offset="0.3990" stop-color="#282828"/><stop offset="0.4171" stop-color="#3e3e3e"/><stop offset="0.4534" stop-color="#717171"/><stop offset="0.4742" stop-color="#868686"/><stop offset="0.4845" stop-color="#8d8d8d"/><stop offset="0.4975" stop-color="#919191"/><stop offset="0.5286" stop-color="#8d8d8d"/><stop offset="0.5805" stop-color="#939393"/><stop offset="0.6038" stop-color="#939393"/><stop offset="0.6297" stop-color="#8c8c8c"/><stop offset="0.6582" stop-color="#7d7d7d"/><stop offset="0.6582" stop-color="#808080"/><stop offset="0.6817" stop-color="#676767"/><stop offset="0.7104" stop-color="#515151"/><stop offset="0.7417" stop-color="#3f3f3f"/><stop offset="0.7782" stop-color="#313131"/><stop offset="0.8226" stop-color="#242424"/><stop offset="0.8722" stop-color="#1b1b1b"/><stop offset="1.0000" stop-color="#0d0d0d"/></linearGradient><linearGradient id="g98" gradientUnits="userSpaceOnUse" x1="0" y1="1300.27" x2="0" y2="1511.03"><stop offset="0.0000" stop-color="#000000"/><stop offset="0.2164" stop-color="#010101"/><stop offset="0.3025" stop-color="#040404"/><stop offset="0.3338" stop-color="#090909"/><stop offset="0.3599" stop-color="#101010"/><stop offset="0.3807" stop-color="#191919"/><stop offset="0.3990" stop-color="#262626"/><stop offset="0.3990" stop-color="#232323"/><stop offset="0.4171" stop-color="#373737"/><stop offset="0.4560" stop-color="#676767"/><stop offset="0.4742" stop-color="#797979"/><stop offset="0.4845" stop-color="#7f7f7f"/><stop offset="0.4975" stop-color="#848484"/><stop offset="0.5286" stop-color="#858585"/><stop offset="0.5286" stop-color="#878787"/><stop offset="0.5779" stop-color="#929292"/><stop offset="0.6038" stop-color="#939393"/><stop offset="0.6297" stop-color="#8d8d8d"/><stop offset="0.6582" stop-color="#7e7e7e"/><stop offset="0.6582" stop-color="#808080"/><stop offset="0.6817" stop-color="#676767"/><stop offset="0.7104" stop-color="#515151"/><stop offset="0.7417" stop-color="#404040"/><stop offset="0.7782" stop-color="#313131"/><stop offset="0.8226" stop-color="#242424"/><stop offset="0.8722" stop-color="#1b1b1b"/><stop offset="1.0000" stop-color="#0d0d0d"/></linearGradient><linearGradient id="g99" gradientUnits="userSpaceOnUse" x1="0" y1="1300.27" x2="0" y2="1511.03"><stop offset="0.0000" stop-color="#000000"/><stop offset="0.2164" stop-color="#010101"/><stop offset="0.3025" stop-color="#040404"/><stop offset="0.3338" stop-color="#080808"/><stop offset="0.3599" stop-color="#0f0f0f"/><stop offset="0.3807" stop-color="#181818"/><stop offset="0.3990" stop-color="#252525"/><stop offset="0.3990" stop-color="#212121"/><stop offset="0.4171" stop-color="#343434"/><stop offset="0.4560" stop-color="#636363"/><stop offset="0.4742" stop-color="#747474"/><stop offset="0.4975" stop-color="#808080"/><stop offset="0.5286" stop-color="#838383"/><stop offset="0.5286" stop-color="#878787"/><stop offset="0.5779" stop-color="#939393"/><stop offset="0.6038" stop-color="#959595"/><stop offset="0.6297" stop-color="#909090"/><stop offset="0.6582" stop-color="#818181"/><stop offset="0.6582" stop-color="#828282"/><stop offset="0.6817" stop-color="#696969"/><stop offset="0.7104" stop-color="#525252"/><stop offset="0.7417" stop-color="#414141"/><stop offset="0.7782" stop-color="#323232"/><stop offset="0.8226" stop-color="#252525"/><stop offset="0.8722" stop-color="#1b1b1b"/><stop offset="1.0000" stop-color="#0d0d0d"/></linearGradient><linearGradient id="g100" gradientUnits="userSpaceOnUse" x1="0" y1="1300.27" x2="0" y2="1511.03"><stop offset="0.0000" stop-color="#000000"/><stop offset="0.2164" stop-color="#010101"/><stop offset="0.3025" stop-color="#040404"/><stop offset="0.3599" stop-color="#0d0d0d"/><stop offset="0.3807" stop-color="#151515"/><stop offset="0.3990" stop-color="#202020"/><stop offset="0.3990" stop-color="#1d1d1d"/><stop offset="0.4197" stop-color="#303030"/><stop offset="0.4586" stop-color="#5a5a5a"/><stop offset="0.4768" stop-color="#6a6a6a"/><stop offset="0.4975" stop-color="#747474"/><stop offset="0.5286" stop-color="#7b7b7b"/><stop offset="0.5286" stop-color="#818181"/><stop offset="0.5753" stop-color="#919191"/><stop offset="0.6038" stop-color="#959595"/><stop offset="0.6297" stop-color="#909090"/><stop offset="0.6582" stop-color="#828282"/><stop offset="0.6817" stop-color="#696969"/><stop offset="0.7104" stop-color="#525252"/><stop offset="0.7417" stop-color="#414141"/><stop offset="0.7782" stop-color="#323232"/><stop offset="0.8226" stop-color="#252525"/><stop offset="0.8722" stop-color="#1b1b1b"/><stop offset="1.0000" stop-color="#0d0d0d"/></linearGradient><linearGradient id="g101" gradientUnits="userSpaceOnUse" x1="0" y1="1300.27" x2="0" y2="1511.03"><stop offset="0.0000" stop-color="#000000"/><stop offset="0.2164" stop-color="#000000"/><stop offset="0.3025" stop-color="#030303"/><stop offset="0.3599" stop-color="#0b0b0b"/><stop offset="0.3807" stop-color="#121212"/><stop offset="0.3990" stop-color="#1b1b1b"/><stop offset="0.3990" stop-color="#191919"/><stop offset="0.4171" stop-color="#272727"/><stop offset="0.4586" stop-color="#4d4d4d"/><stop offset="0.4768" stop-color="#5b5b5b"/><stop offset="0.4949" stop-color="#656565"/><stop offset="0.5286" stop-color="#707070"/><stop offset="0.5286" stop-color="#7b7b7b"/><stop offset="0.5727" stop-color="#8d8d8d"/><stop offset="0.6012" stop-color="#939393"/><stop offset="0.6297" stop-color="#909090"/><stop offset="0.6582" stop-color="#828282"/><stop offset="0.6582" stop-color="#818181"/><stop offset="0.6817" stop-color="#686868"/><stop offset="0.7104" stop-color="#525252"/><stop offset="0.7417" stop-color="#404040"/><stop offset="0.7782" stop-color="#323232"/><stop offset="0.8226" stop-color="#252525"/><stop offset="0.8722" stop-color="#1b1b1b"/><stop offset="1.0000" stop-color="#0d0d0d"/></linearGradient><linearGradient id="g102" gradientUnits="userSpaceOnUse" x1="0" y1="1300.27" x2="0" y2="1511.03"><stop offset="0.0000" stop-color="#000000"/><stop offset="0.2164" stop-color="#000000"/><stop offset="0.3025" stop-color="#030303"/><stop offset="0.3599" stop-color="#0b0b0b"/><stop offset="0.3807" stop-color="#111111"/><stop offset="0.3990" stop-color="#1a1a1a"/><stop offset="0.3990" stop-color="#171717"/><stop offset="0.4171" stop-color="#242424"/><stop offset="0.4586" stop-color="#484848"/><stop offset="0.4768" stop-color="#565656"/><stop offset="0.4949" stop-color="#606060"/><stop offset="0.5286" stop-color="#6d6d6d"/><stop offset="0.5286" stop-color="#797979"/><stop offset="0.5727" stop-color="#8d8d8d"/><stop offset="0.6012" stop-color="#949494"/><stop offset="0.6297" stop-color="#919191"/><stop offset="0.6582" stop-color="#838383"/><stop offset="0.6582" stop-color="#828282"/><stop offset="0.6817" stop-color="#696969"/><stop offset="0.7104" stop-color="#525252"/><stop offset="0.7417" stop-color="#414141"/><stop offset="0.7782" stop-color="#323232"/><stop offset="0.8226" stop-color="#252525"/><stop offset="0.8722" stop-color="#1c1c1c"/><stop offset="1.0000" stop-color="#0d0d0d"/></linearGradient><linearGradient id="g103" gradientUnits="userSpaceOnUse" x1="0" y1="1300.27" x2="0" y2="1511.03"><stop offset="0.0000" stop-color="#000000"/><stop offset="0.3025" stop-color="#030303"/><stop offset="0.3599" stop-color="#0a0a0a"/><stop offset="0.3990" stop-color="#171717"/><stop offset="0.3990" stop-color="#151515"/><stop offset="0.4197" stop-color="#232323"/><stop offset="0.4742" stop-color="#4e4e4e"/><stop offset="0.5286" stop-color="#686868"/><stop offset="0.5286" stop-color="#767676"/><stop offset="0.5727" stop-color="#8c8c8c"/><stop offset="0.6012" stop-color="#949494"/><stop offset="0.6297" stop-color="#929292"/><stop offset="0.6582" stop-color="#848484"/><stop offset="0.6582" stop-color="#828282"/><stop offset="0.6817" stop-color="#696969"/><stop offset="0.7104" stop-color="#525252"/><stop offset="0.7417" stop-color="#414141"/><stop offset="0.7782" stop-color="#323232"/><stop offset="0.8226" stop-color="#252525"/><stop offset="0.8722" stop-color="#1c1c1c"/><stop offset="1.0000" stop-color="#0e0e0e"/></linearGradient><linearGradient id="g104" gradientUnits="userSpaceOnUse" x1="0" y1="1300.27" x2="0" y2="1511.03"><stop offset="0.0000" stop-color="#000000"/><stop offset="0.3025" stop-color="#020202"/><stop offset="0.3599" stop-color="#080808"/><stop offset="0.3990" stop-color="#141414"/><stop offset="0.3990" stop-color="#121212"/><stop offset="0.4223" stop-color="#1f1f1f"/><stop offset="0.4742" stop-color="#434343"/><stop offset="0.5286" stop-color="#606060"/><stop offset="0.5286" stop-color="#717171"/><stop offset="0.5727" stop-color="#8a8a8a"/><stop offset="0.6012" stop-color="#939393"/><stop offset="0.6297" stop-color="#919191"/><stop offset="0.6582" stop-color="#848484"/><stop offset="0.6582" stop-color="#818181"/><stop offset="0.6817" stop-color="#686868"/><stop offset="0.7104" stop-color="#525252"/><stop offset="0.7417" stop-color="#404040"/><stop offset="0.7782" stop-color="#323232"/><stop offset="0.8226" stop-color="#252525"/><stop offset="0.8722" stop-color="#1c1c1c"/><stop offset="1.0000" stop-color="#0e0e0e"/></linearGradient><linearGradient id="g105" gradientUnits="userSpaceOnUse" x1="0" y1="1300.27" x2="0" y2="1511.03"><stop offset="0.0000" stop-color="#000000"/><stop offset="0.3025" stop-color="#020202"/><stop offset="0.3599" stop-color="#070707"/><stop offset="0.3990" stop-color="#111111"/><stop offset="0.3990" stop-color="#101010"/><stop offset="0.5286" stop-color="#5b5b5b"/><stop offset="0.5286" stop-color="#6e6e6e"/><stop offset="0.5727" stop-color="#898989"/><stop offset="0.6012" stop-color="#939393"/><stop offset="0.6297" stop-color="#919191"/><stop offset="0.6582" stop-color="#848484"/><stop offset="0.6582" stop-color="#818181"/><stop offset="0.6817" stop-color="#686868"/><stop offset="0.7104" stop-color="#525252"/><stop offset="0.7417" stop-color="#404040"/><stop offset="0.7782" stop-color="#323232"/><stop offset="0.8226" stop-color="#252525"/><stop offset="0.8722" stop-color="#1c1c1c"/><stop offset="1.0000" stop-color="#0e0e0e"/></linearGradient><linearGradient id="g106" gradientUnits="userSpaceOnUse" x1="0" y1="1300.27" x2="0" y2="1511.03"><stop offset="0.0000" stop-color="#000000"/><stop offset="0.3025" stop-color="#020202"/><stop offset="0.3599" stop-color="#070707"/><stop offset="0.3990" stop-color="#101010"/><stop offset="0.3990" stop-color="#0f0f0f"/><stop offset="0.4249" stop-color="#1c1c1c"/><stop offset="0.5286" stop-color="#585858"/><stop offset="0.5286" stop-color="#6d6d6d"/><stop offset="0.5727" stop-color="#898989"/><stop offset="0.6012" stop-color="#939393"/><stop offset="0.6297" stop-color="#929292"/><stop offset="0.6582" stop-color="#858585"/><stop offset="0.6582" stop-color="#808080"/><stop offset="0.6817" stop-color="#676767"/><stop offset="0.7104" stop-color="#515151"/><stop offset="0.7417" stop-color="#404040"/><stop offset="0.7782" stop-color="#313131"/><stop offset="0.8226" stop-color="#252525"/><stop offset="0.8722" stop-color="#1c1c1c"/><stop offset="1.0000" stop-color="#0e0e0e"/></linearGradient><linearGradient id="g107" gradientUnits="userSpaceOnUse" x1="0" y1="1300.27" x2="0" y2="1511.03"><stop offset="0.0000" stop-color="#000000"/><stop offset="0.3025" stop-color="#010101"/><stop offset="0.3599" stop-color="#050505"/><stop offset="0.3990" stop-color="#0d0d0d"/><stop offset="0.4275" stop-color="#191919"/><stop offset="0.5001" stop-color="#3f3f3f"/><stop offset="0.5286" stop-color="#525252"/><stop offset="0.5286" stop-color="#696969"/><stop offset="0.5727" stop-color="#878787"/><stop offset="0.6012" stop-color="#929292"/><stop offset="0.6297" stop-color="#919191"/><stop offset="0.6582" stop-color="#848484"/><stop offset="0.6582" stop-color="#7c7c7c"/><stop offset="0.6817" stop-color="#636363"/><stop offset="0.7078" stop-color="#4f4f4f"/><stop offset="0.7391" stop-color="#3e3e3e"/><stop offset="0.7756" stop-color="#303030"/><stop offset="0.8174" stop-color="#242424"/><stop offset="0.8696" stop-color="#1b1b1b"/><stop offset="1.0000" stop-color="#0d0d0d"/></linearGradient><linearGradient id="g108" gradientUnits="userSpaceOnUse" x1="0" y1="1300.27" x2="0" y2="1511.03"><stop offset="0.0000" stop-color="#000000"/><stop offset="0.3051" stop-color="#010101"/><stop offset="0.3599" stop-color="#040404"/><stop offset="0.3990" stop-color="#0b0b0b"/><stop offset="0.4327" stop-color="#171717"/><stop offset="0.4871" stop-color="#313131"/><stop offset="0.5105" stop-color="#3e3e3e"/><stop offset="0.5286" stop-color="#4c4c4c"/><stop offset="0.5286" stop-color="#656565"/><stop offset="0.5701" stop-color="#838383"/><stop offset="0.6012" stop-color="#919191"/><stop offset="0.6168" stop-color="#929292"/><stop offset="0.6297" stop-color="#919191"/><stop offset="0.6582" stop-color="#848484"/><stop offset="0.6582" stop-color="#767676"/><stop offset="0.6817" stop-color="#5e5e5e"/><stop offset="0.7078" stop-color="#4b4b4b"/><stop offset="0.7391" stop-color="#3a3a3a"/><stop offset="0.7756" stop-color="#2d2d2d"/><stop offset="0.8174" stop-color="#222222"/><stop offset="0.8696" stop-color="#191919"/><stop offset="1.0000" stop-color="#0c0c0c"/></linearGradient><linearGradient id="g109" gradientUnits="userSpaceOnUse" x1="0" y1="1300.27" x2="0" y2="1511.03"><stop offset="0.0000" stop-color="#000000"/><stop offset="0.3051" stop-color="#010101"/><stop offset="0.3599" stop-color="#040404"/><stop offset="0.3990" stop-color="#0a0a0a"/><stop offset="0.4327" stop-color="#161616"/><stop offset="0.4845" stop-color="#2d2d2d"/><stop offset="0.5105" stop-color="#3c3c3c"/><stop offset="0.5286" stop-color="#4b4b4b"/><stop offset="0.5286" stop-color="#646464"/><stop offset="0.5701" stop-color="#838383"/><stop offset="0.6012" stop-color="#919191"/><stop offset="0.6168" stop-color="#939393"/><stop offset="0.6297" stop-color="#919191"/><stop offset="0.6582" stop-color="#858585"/><stop offset="0.6582" stop-color="#6f6f6f"/><stop offset="0.6817" stop-color="#595959"/><stop offset="0.7078" stop-color="#464646"/><stop offset="0.7391" stop-color="#363636"/><stop offset="0.7756" stop-color="#292929"/><stop offset="0.8174" stop-color="#1f1f1f"/><stop offset="0.8669" stop-color="#171717"/><stop offset="1.0000" stop-color="#0b0b0b"/></linearGradient><linearGradient id="g110" gradientUnits="userSpaceOnUse" x1="0" y1="1300.27" x2="0" y2="1511.03"><stop offset="0.0000" stop-color="#000000"/><stop offset="0.3051" stop-color="#010101"/><stop offset="0.3599" stop-color="#030303"/><stop offset="0.3990" stop-color="#090909"/><stop offset="0.4379" stop-color="#141414"/><stop offset="0.4819" stop-color="#272727"/><stop offset="0.5079" stop-color="#353535"/><stop offset="0.5286" stop-color="#474747"/><stop offset="0.5286" stop-color="#626262"/><stop offset="0.5701" stop-color="#828282"/><stop offset="0.6012" stop-color="#909090"/><stop offset="0.6168" stop-color="#929292"/><stop offset="0.6297" stop-color="#919191"/><stop offset="0.6582" stop-color="#848484"/><stop offset="0.6582" stop-color="#686868"/><stop offset="0.6817" stop-color="#525252"/><stop offset="0.7078" stop-color="#414141"/><stop offset="0.7391" stop-color="#323232"/><stop offset="0.7730" stop-color="#262626"/><stop offset="0.8148" stop-color="#1d1d1d"/><stop offset="0.8643" stop-color="#151515"/><stop offset="1.0000" stop-color="#0a0a0a"/></linearGradient><linearGradient id="g111" gradientUnits="userSpaceOnUse" x1="0" y1="1300.27" x2="0" y2="1511.03"><stop offset="0.0000" stop-color="#000000"/><stop offset="0.3077" stop-color="#010101"/><stop offset="0.3990" stop-color="#060606"/><stop offset="0.3990" stop-color="#070707"/><stop offset="0.4405" stop-color="#111111"/><stop offset="0.4794" stop-color="#1f1f1f"/><stop offset="0.5079" stop-color="#2f2f2f"/><stop offset="0.5286" stop-color="#424242"/><stop offset="0.5286" stop-color="#5e5e5e"/><stop offset="0.5701" stop-color="#808080"/><stop offset="0.5986" stop-color="#8e8e8e"/><stop offset="0.6142" stop-color="#919191"/><stop offset="0.6271" stop-color="#909090"/><stop offset="0.6427" stop-color="#8c8c8c"/><stop offset="0.6582" stop-color="#848484"/><stop offset="0.6582" stop-color="#616161"/><stop offset="0.6817" stop-color="#4c4c4c"/><stop offset="0.7078" stop-color="#3b3b3b"/><stop offset="0.7391" stop-color="#2d2d2d"/><stop offset="0.7730" stop-color="#232323"/><stop offset="0.8148" stop-color="#1a1a1a"/><stop offset="0.8643" stop-color="#131313"/><stop offset="1.0000" stop-color="#090909"/></linearGradient><linearGradient id="g112" gradientUnits="userSpaceOnUse" x1="0" y1="1300.27" x2="0" y2="1511.03"><stop offset="0.0000" stop-color="#000000"/><stop offset="0.3077" stop-color="#010101"/><stop offset="0.3990" stop-color="#060606"/><stop offset="0.4405" stop-color="#0f0f0f"/><stop offset="0.4794" stop-color="#1d1d1d"/><stop offset="0.5079" stop-color="#2d2d2d"/><stop offset="0.5286" stop-color="#404040"/><stop offset="0.5286" stop-color="#5d5d5d"/><stop offset="0.5701" stop-color="#7f7f7f"/><stop offset="0.5986" stop-color="#8e8e8e"/><stop offset="0.6142" stop-color="#919191"/><stop offset="0.6271" stop-color="#909090"/><stop offset="0.6427" stop-color="#8c8c8c"/><stop offset="0.6582" stop-color="#848484"/><stop offset="0.6582" stop-color="#5d5d5d"/><stop offset="0.6791" stop-color="#4a4a4a"/><stop offset="0.7052" stop-color="#393939"/><stop offset="0.7365" stop-color="#2b2b2b"/><stop offset="0.7704" stop-color="#212121"/><stop offset="0.8617" stop-color="#121212"/><stop offset="1.0000" stop-color="#080808"/></linearGradient><linearGradient id="g113" gradientUnits="userSpaceOnUse" x1="0" y1="1300.27" x2="0" y2="1511.03"><stop offset="0.0000" stop-color="#000000"/><stop offset="0.3077" stop-color="#010101"/><stop offset="0.3990" stop-color="#050505"/><stop offset="0.3990" stop-color="#060606"/><stop offset="0.4405" stop-color="#0e0e0e"/><stop offset="0.4794" stop-color="#1c1c1c"/><stop offset="0.5079" stop-color="#2d2d2d"/><stop offset="0.5286" stop-color="#404040"/><stop offset="0.5286" stop-color="#5d5d5d"/><stop offset="0.5701" stop-color="#7f7f7f"/><stop offset="0.5986" stop-color="#8e8e8e"/><stop offset="0.6142" stop-color="#919191"/><stop offset="0.6271" stop-color="#919191"/><stop offset="0.6427" stop-color="#8c8c8c"/><stop offset="0.6582" stop-color="#848484"/><stop offset="0.6582" stop-color="#5b5b5b"/><stop offset="0.6791" stop-color="#494949"/><stop offset="0.7052" stop-color="#383838"/><stop offset="0.7339" stop-color="#2b2b2b"/><stop offset="0.7704" stop-color="#202020"/><stop offset="0.8617" stop-color="#111111"/><stop offset="1.0000" stop-color="#080808"/></linearGradient><linearGradient id="g114" gradientUnits="userSpaceOnUse" x1="0" y1="1300.27" x2="0" y2="1511.03"><stop offset="0.0000" stop-color="#000000"/><stop offset="0.3077" stop-color="#000000"/><stop offset="0.3990" stop-color="#050505"/><stop offset="0.4431" stop-color="#0e0e0e"/><stop offset="0.4794" stop-color="#1b1b1b"/><stop offset="0.5079" stop-color="#2b2b2b"/><stop offset="0.5286" stop-color="#3e3e3e"/><stop offset="0.5286" stop-color="#5c5c5c"/><stop offset="0.5701" stop-color="#7f7f7f"/><stop offset="0.5986" stop-color="#8e8e8e"/><stop offset="0.6142" stop-color="#919191"/><stop offset="0.6271" stop-color="#919191"/><stop offset="0.6427" stop-color="#8c8c8c"/><stop offset="0.6582" stop-color="#848484"/><stop offset="0.6582" stop-color="#5b5b5b"/><stop offset="0.6791" stop-color="#484848"/><stop offset="0.7052" stop-color="#383838"/><stop offset="0.7339" stop-color="#2b2b2b"/><stop offset="0.7704" stop-color="#202020"/><stop offset="0.8617" stop-color="#111111"/><stop offset="1.0000" stop-color="#080808"/></linearGradient><linearGradient id="g115" gradientUnits="userSpaceOnUse" x1="0" y1="1300.27" x2="0" y2="1511.03"><stop offset="0.0000" stop-color="#000000"/><stop offset="0.3103" stop-color="#000000"/><stop offset="0.3990" stop-color="#040404"/><stop offset="0.3990" stop-color="#050505"/><stop offset="0.4431" stop-color="#0c0c0c"/><stop offset="0.4794" stop-color="#181818"/><stop offset="0.5053" stop-color="#272727"/><stop offset="0.5286" stop-color="#3d3d3d"/><stop offset="0.5286" stop-color="#5b5b5b"/><stop offset="0.5701" stop-color="#7f7f7f"/><stop offset="0.5986" stop-color="#8e8e8e"/><stop offset="0.6142" stop-color="#919191"/><stop offset="0.6271" stop-color="#919191"/><stop offset="0.6427" stop-color="#8c8c8c"/><stop offset="0.6582" stop-color="#848484"/><stop offset="0.6582" stop-color="#5b5b5b"/><stop offset="0.6791" stop-color="#484848"/><stop offset="0.7052" stop-color="#373737"/><stop offset="0.7339" stop-color="#2b2b2b"/><stop offset="0.7704" stop-color="#202020"/><stop offset="0.8617" stop-color="#111111"/><stop offset="1.0000" stop-color="#080808"/></linearGradient><linearGradient id="g116" gradientUnits="userSpaceOnUse" x1="0" y1="1300.27" x2="0" y2="1511.03"><stop offset="0.0000" stop-color="#000000"/><stop offset="0.3129" stop-color="#000000"/><stop offset="0.3990" stop-color="#030303"/><stop offset="0.3990" stop-color="#040404"/><stop offset="0.4431" stop-color="#0b0b0b"/><stop offset="0.4794" stop-color="#161616"/><stop offset="0.5053" stop-color="#252525"/><stop offset="0.5286" stop-color="#3b3b3b"/><stop offset="0.5286" stop-color="#5a5a5a"/><stop offset="0.5701" stop-color="#7e7e7e"/><stop offset="0.5986" stop-color="#8d8d8d"/><stop offset="0.6142" stop-color="#919191"/><stop offset="0.6271" stop-color="#909090"/><stop offset="0.6427" stop-color="#8c8c8c"/><stop offset="0.6582" stop-color="#848484"/><stop offset="0.6582" stop-color="#5a5a5a"/><stop offset="0.6791" stop-color="#484848"/><stop offset="0.7052" stop-color="#373737"/><stop offset="0.7339" stop-color="#2a2a2a"/><stop offset="0.7704" stop-color="#1f1f1f"/><stop offset="0.8617" stop-color="#111111"/><stop offset="1.0000" stop-color="#080808"/></linearGradient><linearGradient id="g117" gradientUnits="userSpaceOnUse" x1="0" y1="1300.27" x2="0" y2="1511.03"><stop offset="0.0000" stop-color="#000000"/><stop offset="0.3155" stop-color="#000000"/><stop offset="0.3990" stop-color="#030303"/><stop offset="0.3990" stop-color="#040404"/><stop offset="0.4457" stop-color="#0a0a0a"/><stop offset="0.4794" stop-color="#141414"/><stop offset="0.5053" stop-color="#232323"/><stop offset="0.5286" stop-color="#3a3a3a"/><stop offset="0.5286" stop-color="#595959"/><stop offset="0.5675" stop-color="#7c7c7c"/><stop offset="0.5831" stop-color="#868686"/><stop offset="0.5986" stop-color="#8d8d8d"/><stop offset="0.6142" stop-color="#909090"/><stop offset="0.6271" stop-color="#909090"/><stop offset="0.6427" stop-color="#8c8c8c"/><stop offset="0.6582" stop-color="#848484"/><stop offset="0.6582" stop-color="#5a5a5a"/><stop offset="0.6791" stop-color="#484848"/><stop offset="0.7052" stop-color="#373737"/><stop offset="0.7339" stop-color="#2a2a2a"/><stop offset="0.7704" stop-color="#1f1f1f"/><stop offset="0.8617" stop-color="#111111"/><stop offset="1.0000" stop-color="#080808"/></linearGradient><linearGradient id="g118" gradientUnits="userSpaceOnUse" x1="0" y1="1300.27" x2="0" y2="1511.03"><stop offset="0.0000" stop-color="#000000"/><stop offset="0.3181" stop-color="#000000"/><stop offset="0.3990" stop-color="#020202"/><stop offset="0.3990" stop-color="#030303"/><stop offset="0.4457" stop-color="#090909"/><stop offset="0.4794" stop-color="#131313"/><stop offset="0.5053" stop-color="#222222"/><stop offset="0.5286" stop-color="#393939"/><stop offset="0.5286" stop-color="#595959"/><stop offset="0.5675" stop-color="#7b7b7b"/><stop offset="0.5831" stop-color="#868686"/><stop offset="0.5986" stop-color="#8d8d8d"/><stop offset="0.6142" stop-color="#909090"/><stop offset="0.6271" stop-color="#909090"/><stop offset="0.6427" stop-color="#8c8c8c"/><stop offset="0.6582" stop-color="#848484"/><stop offset="0.6582" stop-color="#5a5a5a"/><stop offset="0.6791" stop-color="#484848"/><stop offset="0.7052" stop-color="#373737"/><stop offset="0.7339" stop-color="#2a2a2a"/><stop offset="0.7704" stop-color="#1f1f1f"/><stop offset="0.8617" stop-color="#111111"/><stop offset="1.0000" stop-color="#080808"/></linearGradient><linearGradient id="g119" gradientUnits="userSpaceOnUse" x1="0" y1="1300.27" x2="0" y2="1511.03"><stop offset="0.0000" stop-color="#000000"/><stop offset="0.3181" stop-color="#000000"/><stop offset="0.3990" stop-color="#020202"/><stop offset="0.3990" stop-color="#030303"/><stop offset="0.4457" stop-color="#090909"/><stop offset="0.4794" stop-color="#131313"/><stop offset="0.5053" stop-color="#222222"/><stop offset="0.5286" stop-color="#393939"/><stop offset="0.5286" stop-color="#595959"/><stop offset="0.5675" stop-color="#7b7b7b"/><stop offset="0.5831" stop-color="#868686"/><stop offset="0.5986" stop-color="#8d8d8d"/><stop offset="0.6142" stop-color="#919191"/><stop offset="0.6271" stop-color="#909090"/><stop offset="0.6427" stop-color="#8c8c8c"/><stop offset="0.6582" stop-color="#848484"/><stop offset="0.6582" stop-color="#5a5a5a"/><stop offset="0.6791" stop-color="#484848"/><stop offset="0.7052" stop-color="#373737"/><stop offset="0.7339" stop-color="#2a2a2a"/><stop offset="0.7704" stop-color="#1f1f1f"/><stop offset="0.8617" stop-color="#111111"/><stop offset="1.0000" stop-color="#080808"/></linearGradient><linearGradient id="g120" gradientUnits="userSpaceOnUse" x1="0" y1="1300.27" x2="0" y2="1511.03"><stop offset="0.0000" stop-color="#000000"/><stop offset="0.3181" stop-color="#000000"/><stop offset="0.3990" stop-color="#020202"/><stop offset="0.3990" stop-color="#030303"/><stop offset="0.4457" stop-color="#090909"/><stop offset="0.4794" stop-color="#131313"/><stop offset="0.5053" stop-color="#222222"/><stop offset="0.5286" stop-color="#393939"/><stop offset="0.5286" stop-color="#595959"/><stop offset="0.5675" stop-color="#7c7c7c"/><stop offset="0.5831" stop-color="#868686"/><stop offset="0.5986" stop-color="#8d8d8d"/><stop offset="0.6142" stop-color="#919191"/><stop offset="0.6271" stop-color="#909090"/><stop offset="0.6427" stop-color="#8c8c8c"/><stop offset="0.6582" stop-color="#848484"/><stop offset="0.6582" stop-color="#5a5a5a"/><stop offset="0.6791" stop-color="#484848"/><stop offset="0.7052" stop-color="#373737"/><stop offset="0.7339" stop-color="#2a2a2a"/><stop offset="0.7704" stop-color="#1f1f1f"/><stop offset="0.8617" stop-color="#111111"/><stop offset="1.0000" stop-color="#080808"/></linearGradient><linearGradient id="g121" gradientUnits="userSpaceOnUse" x1="0" y1="1300.27" x2="0" y2="1511.03"><stop offset="0.0000" stop-color="#000000"/><stop offset="0.3181" stop-color="#000000"/><stop offset="0.3990" stop-color="#020202"/><stop offset="0.3990" stop-color="#030303"/><stop offset="0.4457" stop-color="#090909"/><stop offset="0.4794" stop-color="#131313"/><stop offset="0.5053" stop-color="#222222"/><stop offset="0.5286" stop-color="#393939"/><stop offset="0.5286" stop-color="#595959"/><stop offset="0.5675" stop-color="#7c7c7c"/><stop offset="0.5831" stop-color="#868686"/><stop offset="0.5986" stop-color="#8d8d8d"/><stop offset="0.6142" stop-color="#919191"/><stop offset="0.6271" stop-color="#909090"/><stop offset="0.6427" stop-color="#8c8c8c"/><stop offset="0.6582" stop-color="#858585"/><stop offset="0.6582" stop-color="#5b5b5b"/><stop offset="0.6791" stop-color="#494949"/><stop offset="0.7052" stop-color="#383838"/><stop offset="0.7339" stop-color="#2b2b2b"/><stop offset="0.7704" stop-color="#202020"/><stop offset="0.8617" stop-color="#111111"/><stop offset="1.0000" stop-color="#080808"/></linearGradient><linearGradient id="g122" gradientUnits="userSpaceOnUse" x1="0" y1="1300.27" x2="0" y2="1511.03"><stop offset="0.0000" stop-color="#000000"/><stop offset="0.3181" stop-color="#000000"/><stop offset="0.3990" stop-color="#020202"/><stop offset="0.3990" stop-color="#030303"/><stop offset="0.4457" stop-color="#090909"/><stop offset="0.4794" stop-color="#131313"/><stop offset="0.5053" stop-color="#222222"/><stop offset="0.5286" stop-color="#393939"/><stop offset="0.5286" stop-color="#595959"/><stop offset="0.5675" stop-color="#7c7c7c"/><stop offset="0.5831" stop-color="#868686"/><stop offset="0.5986" stop-color="#8d8d8d"/><stop offset="0.6142" stop-color="#919191"/><stop offset="0.6271" stop-color="#919191"/><stop offset="0.6427" stop-color="#8c8c8c"/><stop offset="0.6582" stop-color="#858585"/><stop offset="0.6582" stop-color="#5e5e5e"/><stop offset="0.6791" stop-color="#4c4c4c"/><stop offset="0.7052" stop-color="#3a3a3a"/><stop offset="0.7365" stop-color="#2c2c2c"/><stop offset="0.7704" stop-color="#222222"/><stop offset="0.8122" stop-color="#191919"/><stop offset="0.8617" stop-color="#121212"/><stop offset="1.0000" stop-color="#080808"/></linearGradient><linearGradient id="g123" gradientUnits="userSpaceOnUse" x1="0" y1="1300.27" x2="0" y2="1511.03"><stop offset="0.0000" stop-color="#000000"/><stop offset="0.3181" stop-color="#000000"/><stop offset="0.3990" stop-color="#020202"/><stop offset="0.3990" stop-color="#030303"/><stop offset="0.4457" stop-color="#090909"/><stop offset="0.4794" stop-color="#131313"/><stop offset="0.5053" stop-color="#222222"/><stop offset="0.5286" stop-color="#393939"/><stop offset="0.5286" stop-color="#595959"/><stop offset="0.5675" stop-color="#7c7c7c"/><stop offset="0.5831" stop-color="#868686"/><stop offset="0.5986" stop-color="#8d8d8d"/><stop offset="0.6142" stop-color="#919191"/><stop offset="0.6271" stop-color="#919191"/><stop offset="0.6427" stop-color="#8c8c8c"/><stop offset="0.6582" stop-color="#858585"/><stop offset="0.6582" stop-color="#636363"/><stop offset="0.6817" stop-color="#4d4d4d"/><stop offset="0.7078" stop-color="#3c3c3c"/><stop offset="0.7391" stop-color="#2e2e2e"/><stop offset="0.7730" stop-color="#232323"/><stop offset="0.8148" stop-color="#1b1b1b"/><stop offset="0.8643" stop-color="#131313"/><stop offset="1.0000" stop-color="#090909"/></linearGradient><linearGradient id="g124" gradientUnits="userSpaceOnUse" x1="0" y1="1300.27" x2="0" y2="1511.03"><stop offset="0.0000" stop-color="#000000"/><stop offset="0.3181" stop-color="#000000"/><stop offset="0.3990" stop-color="#020202"/><stop offset="0.3990" stop-color="#030303"/><stop offset="0.4457" stop-color="#090909"/><stop offset="0.4794" stop-color="#131313"/><stop offset="0.5053" stop-color="#222222"/><stop offset="0.5286" stop-color="#393939"/><stop offset="0.5286" stop-color="#595959"/><stop offset="0.5675" stop-color="#7c7c7c"/><stop offset="0.5831" stop-color="#868686"/><stop offset="0.5986" stop-color="#8d8d8d"/><stop offset="0.6142" stop-color="#919191"/><stop offset="0.6271" stop-color="#919191"/><stop offset="0.6427" stop-color="#8d8d8d"/><stop offset="0.6582" stop-color="#858585"/><stop offset="0.6582" stop-color="#686868"/><stop offset="0.6817" stop-color="#525252"/><stop offset="0.7078" stop-color="#404040"/><stop offset="0.7391" stop-color="#313131"/><stop offset="0.7730" stop-color="#262626"/><stop offset="0.8148" stop-color="#1d1d1d"/><stop offset="0.8643" stop-color="#151515"/><stop offset="1.0000" stop-color="#0a0a0a"/></linearGradient><linearGradient id="g125" gradientUnits="userSpaceOnUse" x1="0" y1="1300.27" x2="0" y2="1511.03"><stop offset="0.0000" stop-color="#000000"/><stop offset="0.3181" stop-color="#000000"/><stop offset="0.3990" stop-color="#020202"/><stop offset="0.3990" stop-color="#030303"/><stop offset="0.4457" stop-color="#090909"/><stop offset="0.4794" stop-color="#131313"/><stop offset="0.5053" stop-color="#222222"/><stop offset="0.5286" stop-color="#393939"/><stop offset="0.5286" stop-color="#595959"/><stop offset="0.5675" stop-color="#7c7c7c"/><stop offset="0.5831" stop-color="#868686"/><stop offset="0.5986" stop-color="#8e8e8e"/><stop offset="0.6142" stop-color="#919191"/><stop offset="0.6271" stop-color="#919191"/><stop offset="0.6427" stop-color="#8d8d8d"/><stop offset="0.6582" stop-color="#858585"/><stop offset="0.6582" stop-color="#6d6d6d"/><stop offset="0.6817" stop-color="#575757"/><stop offset="0.7078" stop-color="#444444"/><stop offset="0.7391" stop-color="#353535"/><stop offset="0.7730" stop-color="#292929"/><stop offset="0.8148" stop-color="#1f1f1f"/><stop offset="0.8669" stop-color="#171717"/><stop offset="1.0000" stop-color="#0b0b0b"/></linearGradient><linearGradient id="g126" gradientUnits="userSpaceOnUse" x1="0" y1="1300.27" x2="0" y2="1511.03"><stop offset="0.0000" stop-color="#000000"/><stop offset="0.3181" stop-color="#000000"/><stop offset="0.3990" stop-color="#020202"/><stop offset="0.3990" stop-color="#030303"/><stop offset="0.4457" stop-color="#090909"/><stop offset="0.4794" stop-color="#131313"/><stop offset="0.5053" stop-color="#222222"/><stop offset="0.5286" stop-color="#393939"/><stop offset="0.5286" stop-color="#595959"/><stop offset="0.5675" stop-color="#7c7c7c"/><stop offset="0.5831" stop-color="#868686"/><stop offset="0.5986" stop-color="#8e8e8e"/><stop offset="0.6142" stop-color="#919191"/><stop offset="0.6271" stop-color="#919191"/><stop offset="0.6427" stop-color="#8d8d8d"/><stop offset="0.6582" stop-color="#858585"/><stop offset="0.6582" stop-color="#727272"/><stop offset="0.6817" stop-color="#5b5b5b"/><stop offset="0.7078" stop-color="#484848"/><stop offset="0.7391" stop-color="#383838"/><stop offset="0.7756" stop-color="#2b2b2b"/><stop offset="0.8174" stop-color="#212121"/><stop offset="0.8669" stop-color="#181818"/><stop offset="1.0000" stop-color="#0c0c0c"/></linearGradient><linearGradient id="g127" gradientUnits="userSpaceOnUse" x1="0" y1="1300.27" x2="0" y2="1511.03"><stop offset="0.0000" stop-color="#000000"/><stop offset="0.3181" stop-color="#000000"/><stop offset="0.3990" stop-color="#020202"/><stop offset="0.3990" stop-color="#030303"/><stop offset="0.4457" stop-color="#090909"/><stop offset="0.4794" stop-color="#131313"/><stop offset="0.5053" stop-color="#222222"/><stop offset="0.5286" stop-color="#393939"/><stop offset="0.5286" stop-color="#595959"/><stop offset="0.5675" stop-color="#7c7c7c"/><stop offset="0.5831" stop-color="#868686"/><stop offset="0.5986" stop-color="#8e8e8e"/><stop offset="0.6142" stop-color="#919191"/><stop offset="0.6271" stop-color="#919191"/><stop offset="0.6427" stop-color="#8d8d8d"/><stop offset="0.6582" stop-color="#858585"/><stop offset="0.6582" stop-color="#777777"/><stop offset="0.6817" stop-color="#5f5f5f"/><stop offset="0.7078" stop-color="#4c4c4c"/><stop offset="0.7391" stop-color="#3c3c3c"/><stop offset="0.7756" stop-color="#2e2e2e"/><stop offset="0.8174" stop-color="#232323"/><stop offset="0.8696" stop-color="#1a1a1a"/><stop offset="1.0000" stop-color="#0d0d0d"/></linearGradient><linearGradient id="g128" gradientUnits="userSpaceOnUse" x1="0" y1="1300.27" x2="0" y2="1511.03"><stop offset="0.0000" stop-color="#000000"/><stop offset="0.3181" stop-color="#000000"/><stop offset="0.3990" stop-color="#020202"/><stop offset="0.3990" stop-color="#030303"/><stop offset="0.4457" stop-color="#090909"/><stop offset="0.4794" stop-color="#131313"/><stop offset="0.5053" stop-color="#222222"/><stop offset="0.5286" stop-color="#393939"/><stop offset="0.5286" stop-color="#595959"/><stop offset="0.5675" stop-color="#7c7c7c"/><stop offset="0.5831" stop-color="#868686"/><stop offset="0.5986" stop-color="#8e8e8e"/><stop offset="0.6142" stop-color="#919191"/><stop offset="0.6271" stop-color="#919191"/><stop offset="0.6427" stop-color="#8d8d8d"/><stop offset="0.6582" stop-color="#858585"/><stop offset="0.6582" stop-color="#7b7b7b"/><stop offset="0.6817" stop-color="#636363"/><stop offset="0.7078" stop-color="#4f4f4f"/><stop offset="0.7391" stop-color="#3e3e3e"/><stop offset="0.7756" stop-color="#303030"/><stop offset="0.8174" stop-color="#252525"/><stop offset="0.8696" stop-color="#1b1b1b"/><stop offset="1.0000" stop-color="#0d0d0d"/></linearGradient><linearGradient id="g129" gradientUnits="userSpaceOnUse" x1="0" y1="1300.27" x2="0" y2="1511.03"><stop offset="0.0000" stop-color="#000000"/><stop offset="0.3181" stop-color="#000000"/><stop offset="0.3990" stop-color="#020202"/><stop offset="0.3990" stop-color="#030303"/><stop offset="0.4457" stop-color="#090909"/><stop offset="0.4794" stop-color="#131313"/><stop offset="0.5053" stop-color="#222222"/><stop offset="0.5286" stop-color="#393939"/><stop offset="0.5286" stop-color="#595959"/><stop offset="0.5675" stop-color="#7c7c7c"/><stop offset="0.5831" stop-color="#868686"/><stop offset="0.5986" stop-color="#8e8e8e"/><stop offset="0.6142" stop-color="#919191"/><stop offset="0.6271" stop-color="#919191"/><stop offset="0.6427" stop-color="#8d8d8d"/><stop offset="0.6582" stop-color="#858585"/><stop offset="0.6582" stop-color="#7d7d7d"/><stop offset="0.6817" stop-color="#656565"/><stop offset="0.7078" stop-color="#515151"/><stop offset="0.7391" stop-color="#404040"/><stop offset="0.7756" stop-color="#313131"/><stop offset="0.8174" stop-color="#262626"/><stop offset="0.8696" stop-color="#1c1c1c"/><stop offset="1.0000" stop-color="#0e0e0e"/></linearGradient><linearGradient id="g130" gradientUnits="userSpaceOnUse" x1="0" y1="1300.27" x2="0" y2="1511.03"><stop offset="0.0000" stop-color="#000000"/><stop offset="0.3077" stop-color="#000000"/><stop offset="0.3990" stop-color="#020202"/><stop offset="0.4457" stop-color="#080808"/><stop offset="0.4794" stop-color="#131313"/><stop offset="0.5053" stop-color="#252525"/><stop offset="0.5182" stop-color="#333333"/><stop offset="0.5286" stop-color="#434343"/><stop offset="0.5286" stop-color="#595959"/><stop offset="0.5675" stop-color="#7c7c7c"/><stop offset="0.5831" stop-color="#868686"/><stop offset="0.5986" stop-color="#8e8e8e"/><stop offset="0.6142" stop-color="#919191"/><stop offset="0.6271" stop-color="#919191"/><stop offset="0.6427" stop-color="#8d8d8d"/><stop offset="0.6582" stop-color="#858585"/><stop offset="0.6582" stop-color="#7e7e7e"/><stop offset="0.6817" stop-color="#666666"/><stop offset="0.7078" stop-color="#525252"/><stop offset="0.7391" stop-color="#404040"/><stop offset="0.7756" stop-color="#323232"/><stop offset="0.8174" stop-color="#262626"/><stop offset="0.8696" stop-color="#1c1c1c"/><stop offset="1.0000" stop-color="#0e0e0e"/></linearGradient><filter id="hb131" filterUnits="userSpaceOnUse" x="99" y="1298" width="1862.3" height="215.3" color-interpolation-filters="sRGB"><feGaussianBlur stdDeviation="7 0"/><feComponentTransfer><feFuncR type="table" tableValues="1 1 1 1 1 1 0.6667 0.3333 0"/><feFuncG type="table" tableValues="1 1 1 0.6667 0.3333 0 0 0 0"/><feFuncB type="table" tableValues="1 0.5 0 0 0 0 0 0 0"/></feComponentTransfer></filter><clipPath id="cp132"><rect x="139" y="1303" width="1782.3" height="205.3"/></clipPath><clipPath id="cp133"><path d="M255 7H685.5V334H255ZM434.6 138.3H507.1V181.7H434.6Z" clip-rule="evenodd"/></clipPath><radialGradient id="rg134"><stop offset="0" stop-color="#fff" stop-opacity="0.600"/><stop offset="0.08" stop-color="#fff" stop-opacity="0.582"/><stop offset="0.17" stop-color="#fff" stop-opacity="0.529"/><stop offset="0.25" stop-color="#fff" stop-opacity="0.453"/><stop offset="0.33" stop-color="#fff" stop-opacity="0.364"/><stop offset="0.42" stop-color="#fff" stop-opacity="0.275"/><stop offset="0.5" stop-color="#fff" stop-opacity="0.195"/><stop offset="0.58" stop-color="#fff" stop-opacity="0.130"/><stop offset="0.67" stop-color="#fff" stop-opacity="0.081"/><stop offset="0.75" stop-color="#fff" stop-opacity="0.048"/><stop offset="0.83" stop-color="#fff" stop-opacity="0.026"/><stop offset="0.92" stop-color="#fff" stop-opacity="0.014"/><stop offset="1" stop-color="#fff" stop-opacity="0.000"/></radialGradient><clipPath id="cp135"><rect x="434.6" y="138.3" width="72.5" height="43.4"/></clipPath><radialGradient id="rg136"><stop offset="0" stop-color="#fff" stop-opacity="1.000"/><stop offset="0.08" stop-color="#fff" stop-opacity="0.969"/><stop offset="0.17" stop-color="#fff" stop-opacity="0.882"/><stop offset="0.25" stop-color="#fff" stop-opacity="0.755"/><stop offset="0.33" stop-color="#fff" stop-opacity="0.607"/><stop offset="0.42" stop-color="#fff" stop-opacity="0.458"/><stop offset="0.5" stop-color="#fff" stop-opacity="0.325"/><stop offset="0.58" stop-color="#fff" stop-opacity="0.216"/><stop offset="0.67" stop-color="#fff" stop-opacity="0.135"/><stop offset="0.75" stop-color="#fff" stop-opacity="0.080"/><stop offset="0.83" stop-color="#fff" stop-opacity="0.044"/><stop offset="0.92" stop-color="#fff" stop-opacity="0.023"/><stop offset="1" stop-color="#fff" stop-opacity="0.000"/></radialGradient><clipPath id="cp137"><rect x="260" y="12" width="420.5" height="317"/></clipPath><radialGradient id="rg138"><stop offset="0" stop-color="#fff" stop-opacity="0.200"/><stop offset="0.08" stop-color="#fff" stop-opacity="0.194"/><stop offset="0.17" stop-color="#fff" stop-opacity="0.176"/><stop offset="0.25" stop-color="#fff" stop-opacity="0.151"/><stop offset="0.33" stop-color="#fff" stop-opacity="0.121"/><stop offset="0.42" stop-color="#fff" stop-opacity="0.092"/><stop offset="0.5" stop-color="#fff" stop-opacity="0.065"/><stop offset="0.58" stop-color="#fff" stop-opacity="0.043"/><stop offset="0.67" stop-color="#fff" stop-opacity="0.027"/><stop offset="0.75" stop-color="#fff" stop-opacity="0.016"/><stop offset="0.83" stop-color="#fff" stop-opacity="0.009"/><stop offset="0.92" stop-color="#fff" stop-opacity="0.005"/><stop offset="1" stop-color="#fff" stop-opacity="0.000"/></radialGradient><radialGradient id="rg139"><stop offset="0" stop-color="#fff" stop-opacity="0.220"/><stop offset="0.08" stop-color="#fff" stop-opacity="0.213"/><stop offset="0.17" stop-color="#fff" stop-opacity="0.194"/><stop offset="0.25" stop-color="#fff" stop-opacity="0.166"/><stop offset="0.33" stop-color="#fff" stop-opacity="0.133"/><stop offset="0.42" stop-color="#fff" stop-opacity="0.101"/><stop offset="0.5" stop-color="#fff" stop-opacity="0.071"/><stop offset="0.58" stop-color="#fff" stop-opacity="0.048"/><stop offset="0.67" stop-color="#fff" stop-opacity="0.030"/><stop offset="0.75" stop-color="#fff" stop-opacity="0.018"/><stop offset="0.83" stop-color="#fff" stop-opacity="0.010"/><stop offset="0.92" stop-color="#fff" stop-opacity="0.005"/><stop offset="1" stop-color="#fff" stop-opacity="0.000"/></radialGradient><radialGradient id="rg140"><stop offset="0" stop-color="#fff" stop-opacity="0.260"/><stop offset="0.08" stop-color="#fff" stop-opacity="0.252"/><stop offset="0.17" stop-color="#fff" stop-opacity="0.229"/><stop offset="0.25" stop-color="#fff" stop-opacity="0.196"/><stop offset="0.33" stop-color="#fff" stop-opacity="0.158"/><stop offset="0.42" stop-color="#fff" stop-opacity="0.119"/><stop offset="0.5" stop-color="#fff" stop-opacity="0.084"/><stop offset="0.58" stop-color="#fff" stop-opacity="0.056"/><stop offset="0.67" stop-color="#fff" stop-opacity="0.035"/><stop offset="0.75" stop-color="#fff" stop-opacity="0.021"/><stop offset="0.83" stop-color="#fff" stop-opacity="0.011"/><stop offset="0.92" stop-color="#fff" stop-opacity="0.006"/><stop offset="1" stop-color="#fff" stop-opacity="0.000"/></radialGradient><radialGradient id="rg141"><stop offset="0" stop-color="#fff" stop-opacity="0.720"/><stop offset="0.08" stop-color="#fff" stop-opacity="0.698"/><stop offset="0.17" stop-color="#fff" stop-opacity="0.635"/><stop offset="0.25" stop-color="#fff" stop-opacity="0.543"/><stop offset="0.33" stop-color="#fff" stop-opacity="0.437"/><stop offset="0.42" stop-color="#fff" stop-opacity="0.330"/><stop offset="0.5" stop-color="#fff" stop-opacity="0.234"/><stop offset="0.58" stop-color="#fff" stop-opacity="0.156"/><stop offset="0.67" stop-color="#fff" stop-opacity="0.097"/><stop offset="0.75" stop-color="#fff" stop-opacity="0.057"/><stop offset="0.83" stop-color="#fff" stop-opacity="0.032"/><stop offset="0.92" stop-color="#fff" stop-opacity="0.016"/><stop offset="1" stop-color="#fff" stop-opacity="0.000"/></radialGradient><clipPath id="cp142"><rect x="817" y="13.5" width="420.3" height="315.4"/></clipPath><radialGradient id="rg143"><stop offset="0" stop-color="#fff" stop-opacity="0.140"/><stop offset="0.08" stop-color="#fff" stop-opacity="0.136"/><stop offset="0.17" stop-color="#fff" stop-opacity="0.124"/><stop offset="0.25" stop-color="#fff" stop-opacity="0.106"/><stop offset="0.33" stop-color="#fff" stop-opacity="0.085"/><stop offset="0.42" stop-color="#fff" stop-opacity="0.064"/><stop offset="0.5" stop-color="#fff" stop-opacity="0.045"/><stop offset="0.58" stop-color="#fff" stop-opacity="0.030"/><stop offset="0.67" stop-color="#fff" stop-opacity="0.019"/><stop offset="0.75" stop-color="#fff" stop-opacity="0.011"/><stop offset="0.83" stop-color="#fff" stop-opacity="0.006"/><stop offset="0.92" stop-color="#fff" stop-opacity="0.003"/><stop offset="1" stop-color="#fff" stop-opacity="0.000"/></radialGradient><radialGradient id="rg144"><stop offset="0" stop-color="#fff" stop-opacity="0.270"/><stop offset="0.08" stop-color="#fff" stop-opacity="0.262"/><stop offset="0.17" stop-color="#fff" stop-opacity="0.238"/><stop offset="0.25" stop-color="#fff" stop-opacity="0.204"/><stop offset="0.33" stop-color="#fff" stop-opacity="0.164"/><stop offset="0.42" stop-color="#fff" stop-opacity="0.124"/><stop offset="0.5" stop-color="#fff" stop-opacity="0.088"/><stop offset="0.58" stop-color="#fff" stop-opacity="0.058"/><stop offset="0.67" stop-color="#fff" stop-opacity="0.037"/><stop offset="0.75" stop-color="#fff" stop-opacity="0.021"/><stop offset="0.83" stop-color="#fff" stop-opacity="0.012"/><stop offset="0.92" stop-color="#fff" stop-opacity="0.006"/><stop offset="1" stop-color="#fff" stop-opacity="0.000"/></radialGradient><radialGradient id="rg145"><stop offset="0" stop-color="#fff" stop-opacity="0.500"/><stop offset="0.08" stop-color="#fff" stop-opacity="0.485"/><stop offset="0.17" stop-color="#fff" stop-opacity="0.441"/><stop offset="0.25" stop-color="#fff" stop-opacity="0.377"/><stop offset="0.33" stop-color="#fff" stop-opacity="0.303"/><stop offset="0.42" stop-color="#fff" stop-opacity="0.229"/><stop offset="0.5" stop-color="#fff" stop-opacity="0.162"/><stop offset="0.58" stop-color="#fff" stop-opacity="0.108"/><stop offset="0.67" stop-color="#fff" stop-opacity="0.068"/><stop offset="0.75" stop-color="#fff" stop-opacity="0.040"/><stop offset="0.83" stop-color="#fff" stop-opacity="0.022"/><stop offset="0.92" stop-color="#fff" stop-opacity="0.011"/><stop offset="1" stop-color="#fff" stop-opacity="0.000"/></radialGradient><clipPath id="cp146"><rect x="1378" y="14" width="420" height="314.8"/></clipPath><clipPath id="cp147"><path d="M255 847H685V1171.5H255ZM434.6 977.8H506.5V1020H434.6Z" clip-rule="evenodd"/></clipPath><radialGradient id="rg148"><stop offset="0" stop-color="#fff" stop-opacity="0.050"/><stop offset="0.08" stop-color="#fff" stop-opacity="0.048"/><stop offset="0.17" stop-color="#fff" stop-opacity="0.044"/><stop offset="0.25" stop-color="#fff" stop-opacity="0.038"/><stop offset="0.33" stop-color="#fff" stop-opacity="0.030"/><stop offset="0.42" stop-color="#fff" stop-opacity="0.023"/><stop offset="0.5" stop-color="#fff" stop-opacity="0.016"/><stop offset="0.58" stop-color="#fff" stop-opacity="0.011"/><stop offset="0.67" stop-color="#fff" stop-opacity="0.007"/><stop offset="0.75" stop-color="#fff" stop-opacity="0.004"/><stop offset="0.83" stop-color="#fff" stop-opacity="0.002"/><stop offset="0.92" stop-color="#fff" stop-opacity="0.001"/><stop offset="1" stop-color="#fff" stop-opacity="0.000"/></radialGradient><radialGradient id="rg149"><stop offset="0" stop-color="#fff" stop-opacity="0.140"/><stop offset="0.08" stop-color="#fff" stop-opacity="0.136"/><stop offset="0.17" stop-color="#fff" stop-opacity="0.124"/><stop offset="0.25" stop-color="#fff" stop-opacity="0.106"/><stop offset="0.33" stop-color="#fff" stop-opacity="0.085"/><stop offset="0.42" stop-color="#fff" stop-opacity="0.064"/><stop offset="0.5" stop-color="#fff" stop-opacity="0.045"/><stop offset="0.58" stop-color="#fff" stop-opacity="0.030"/><stop offset="0.67" stop-color="#fff" stop-opacity="0.019"/><stop offset="0.75" stop-color="#fff" stop-opacity="0.011"/><stop offset="0.83" stop-color="#fff" stop-opacity="0.006"/><stop offset="0.92" stop-color="#fff" stop-opacity="0.003"/><stop offset="1" stop-color="#fff" stop-opacity="0.000"/></radialGradient><radialGradient id="rg150"><stop offset="0" stop-color="#fff" stop-opacity="0.620"/><stop offset="0.08" stop-color="#fff" stop-opacity="0.601"/><stop offset="0.17" stop-color="#fff" stop-opacity="0.547"/><stop offset="0.25" stop-color="#fff" stop-opacity="0.468"/><stop offset="0.33" stop-color="#fff" stop-opacity="0.376"/><stop offset="0.42" stop-color="#fff" stop-opacity="0.284"/><stop offset="0.5" stop-color="#fff" stop-opacity="0.201"/><stop offset="0.58" stop-color="#fff" stop-opacity="0.134"/><stop offset="0.67" stop-color="#fff" stop-opacity="0.084"/><stop offset="0.75" stop-color="#fff" stop-opacity="0.049"/><stop offset="0.83" stop-color="#fff" stop-opacity="0.027"/><stop offset="0.92" stop-color="#fff" stop-opacity="0.014"/><stop offset="1" stop-color="#fff" stop-opacity="0.000"/></radialGradient><clipPath id="cp151"><rect x="434.6" y="977.8" width="71.9" height="42.2"/></clipPath><radialGradient id="rg152"><stop offset="0" stop-color="#fff" stop-opacity="1.000"/><stop offset="0.08" stop-color="#fff" stop-opacity="0.969"/><stop offset="0.17" stop-color="#fff" stop-opacity="0.882"/><stop offset="0.25" stop-color="#fff" stop-opacity="0.755"/><stop offset="0.33" stop-color="#fff" stop-opacity="0.607"/><stop offset="0.42" stop-color="#fff" stop-opacity="0.458"/><stop offset="0.5" stop-color="#fff" stop-opacity="0.325"/><stop offset="0.58" stop-color="#fff" stop-opacity="0.216"/><stop offset="0.67" stop-color="#fff" stop-opacity="0.135"/><stop offset="0.75" stop-color="#fff" stop-opacity="0.080"/><stop offset="0.83" stop-color="#fff" stop-opacity="0.044"/><stop offset="0.92" stop-color="#fff" stop-opacity="0.023"/><stop offset="1" stop-color="#fff" stop-opacity="0.000"/></radialGradient><clipPath id="cp153"><rect x="260" y="852" width="420" height="314.5"/></clipPath><radialGradient id="rg154"><stop offset="0" stop-color="#fff" stop-opacity="0.130"/><stop offset="0.08" stop-color="#fff" stop-opacity="0.126"/><stop offset="0.17" stop-color="#fff" stop-opacity="0.115"/><stop offset="0.25" stop-color="#fff" stop-opacity="0.098"/><stop offset="0.33" stop-color="#fff" stop-opacity="0.079"/><stop offset="0.42" stop-color="#fff" stop-opacity="0.060"/><stop offset="0.5" stop-color="#fff" stop-opacity="0.042"/><stop offset="0.58" stop-color="#fff" stop-opacity="0.028"/><stop offset="0.67" stop-color="#fff" stop-opacity="0.018"/><stop offset="0.75" stop-color="#fff" stop-opacity="0.010"/><stop offset="0.83" stop-color="#fff" stop-opacity="0.006"/><stop offset="0.92" stop-color="#fff" stop-opacity="0.003"/><stop offset="1" stop-color="#fff" stop-opacity="0.000"/></radialGradient><radialGradient id="rg155"><stop offset="0" stop-color="#fff" stop-opacity="0.220"/><stop offset="0.08" stop-color="#fff" stop-opacity="0.213"/><stop offset="0.17" stop-color="#fff" stop-opacity="0.194"/><stop offset="0.25" stop-color="#fff" stop-opacity="0.166"/><stop offset="0.33" stop-color="#fff" stop-opacity="0.133"/><stop offset="0.42" stop-color="#fff" stop-opacity="0.101"/><stop offset="0.5" stop-color="#fff" stop-opacity="0.071"/><stop offset="0.58" stop-color="#fff" stop-opacity="0.048"/><stop offset="0.67" stop-color="#fff" stop-opacity="0.030"/><stop offset="0.75" stop-color="#fff" stop-opacity="0.018"/><stop offset="0.83" stop-color="#fff" stop-opacity="0.010"/><stop offset="0.92" stop-color="#fff" stop-opacity="0.005"/><stop offset="1" stop-color="#fff" stop-opacity="0.000"/></radialGradient><radialGradient id="rg156"><stop offset="0" stop-color="#fff" stop-opacity="0.260"/><stop offset="0.08" stop-color="#fff" stop-opacity="0.252"/><stop offset="0.17" stop-color="#fff" stop-opacity="0.229"/><stop offset="0.25" stop-color="#fff" stop-opacity="0.196"/><stop offset="0.33" stop-color="#fff" stop-opacity="0.158"/><stop offset="0.42" stop-color="#fff" stop-opacity="0.119"/><stop offset="0.5" stop-color="#fff" stop-opacity="0.084"/><stop offset="0.58" stop-color="#fff" stop-opacity="0.056"/><stop offset="0.67" stop-color="#fff" stop-opacity="0.035"/><stop offset="0.75" stop-color="#fff" stop-opacity="0.021"/><stop offset="0.83" stop-color="#fff" stop-opacity="0.011"/><stop offset="0.92" stop-color="#fff" stop-opacity="0.006"/><stop offset="1" stop-color="#fff" stop-opacity="0.000"/></radialGradient><radialGradient id="rg157"><stop offset="0" stop-color="#fff" stop-opacity="0.760"/><stop offset="0.08" stop-color="#fff" stop-opacity="0.737"/><stop offset="0.17" stop-color="#fff" stop-opacity="0.671"/><stop offset="0.25" stop-color="#fff" stop-opacity="0.574"/><stop offset="0.33" stop-color="#fff" stop-opacity="0.461"/><stop offset="0.42" stop-color="#fff" stop-opacity="0.348"/><stop offset="0.5" stop-color="#fff" stop-opacity="0.247"/><stop offset="0.58" stop-color="#fff" stop-opacity="0.164"/><stop offset="0.67" stop-color="#fff" stop-opacity="0.103"/><stop offset="0.75" stop-color="#fff" stop-opacity="0.060"/><stop offset="0.83" stop-color="#fff" stop-opacity="0.033"/><stop offset="0.92" stop-color="#fff" stop-opacity="0.017"/><stop offset="1" stop-color="#fff" stop-opacity="0.000"/></radialGradient><clipPath id="cp158"><rect x="815.1" y="854" width="422.3" height="314.4"/></clipPath><radialGradient id="rg159"><stop offset="0" stop-color="#fff" stop-opacity="0.150"/><stop offset="0.08" stop-color="#fff" stop-opacity="0.145"/><stop offset="0.17" stop-color="#fff" stop-opacity="0.132"/><stop offset="0.25" stop-color="#fff" stop-opacity="0.113"/><stop offset="0.33" stop-color="#fff" stop-opacity="0.091"/><stop offset="0.42" stop-color="#fff" stop-opacity="0.069"/><stop offset="0.5" stop-color="#fff" stop-opacity="0.049"/><stop offset="0.58" stop-color="#fff" stop-opacity="0.032"/><stop offset="0.67" stop-color="#fff" stop-opacity="0.020"/><stop offset="0.75" stop-color="#fff" stop-opacity="0.012"/><stop offset="0.83" stop-color="#fff" stop-opacity="0.007"/><stop offset="0.92" stop-color="#fff" stop-opacity="0.003"/><stop offset="1" stop-color="#fff" stop-opacity="0.000"/></radialGradient><radialGradient id="rg160"><stop offset="0" stop-color="#fff" stop-opacity="0.280"/><stop offset="0.08" stop-color="#fff" stop-opacity="0.271"/><stop offset="0.17" stop-color="#fff" stop-opacity="0.247"/><stop offset="0.25" stop-color="#fff" stop-opacity="0.211"/><stop offset="0.33" stop-color="#fff" stop-opacity="0.170"/><stop offset="0.42" stop-color="#fff" stop-opacity="0.128"/><stop offset="0.5" stop-color="#fff" stop-opacity="0.091"/><stop offset="0.58" stop-color="#fff" stop-opacity="0.061"/><stop offset="0.67" stop-color="#fff" stop-opacity="0.038"/><stop offset="0.75" stop-color="#fff" stop-opacity="0.022"/><stop offset="0.83" stop-color="#fff" stop-opacity="0.012"/><stop offset="0.92" stop-color="#fff" stop-opacity="0.006"/><stop offset="1" stop-color="#fff" stop-opacity="0.000"/></radialGradient><radialGradient id="rg161"><stop offset="0" stop-color="#fff" stop-opacity="0.450"/><stop offset="0.08" stop-color="#fff" stop-opacity="0.436"/><stop offset="0.17" stop-color="#fff" stop-opacity="0.397"/><stop offset="0.25" stop-color="#fff" stop-opacity="0.340"/><stop offset="0.33" stop-color="#fff" stop-opacity="0.273"/><stop offset="0.42" stop-color="#fff" stop-opacity="0.206"/><stop offset="0.5" stop-color="#fff" stop-opacity="0.146"/><stop offset="0.58" stop-color="#fff" stop-opacity="0.097"/><stop offset="0.67" stop-color="#fff" stop-opacity="0.061"/><stop offset="0.75" stop-color="#fff" stop-opacity="0.036"/><stop offset="0.83" stop-color="#fff" stop-opacity="0.020"/><stop offset="0.92" stop-color="#fff" stop-opacity="0.010"/><stop offset="1" stop-color="#fff" stop-opacity="0.000"/></radialGradient><clipPath id="cp162"><rect x="1376.1" y="854.3" width="421.9" height="314.5"/></clipPath><linearGradient id="cbg163" x1="0" y1="0" x2="0" y2="1"><stop offset="0" stop-color="#fff"/><stop offset="1" stop-color="#000"/></linearGradient></defs>
<rect width="2074" height="1631" fill="#fff"/>
<g clip-path="url(#cp69)"><g filter="url(#hb68)"><rect x="72.81" y="461" width="69.13" height="209.5" fill="url(#g1)"/><rect x="141.34" y="461" width="69.13" height="209.5" fill="url(#g1)"/><rect x="209.87" y="461" width="69.13" height="209.5" fill="url(#g1)"/><rect x="278.4" y="461" width="69.13" height="209.5" fill="url(#g1)"/><rect x="346.93" y="461" width="21.16" height="209.5" fill="url(#g1)"/><rect x="367.49" y="461" width="21.16" height="209.5" fill="url(#g1)"/><rect x="388.05" y="461" width="21.16" height="209.5" fill="url(#g1)"/><rect x="408.61" y="461" width="21.16" height="209.5" fill="url(#g2)"/><rect x="429.17" y="461" width="21.16" height="209.5" fill="url(#g3)"/><rect x="449.73" y="461" width="21.16" height="209.5" fill="url(#g4)"/><rect x="470.28" y="461" width="21.16" height="209.5" fill="url(#g5)"/><rect x="490.84" y="461" width="21.16" height="209.5" fill="url(#g6)"/><rect x="511.4" y="461" width="21.16" height="209.5" fill="url(#g7)"/><rect x="531.96" y="461" width="21.16" height="209.5" fill="url(#g8)"/><rect x="552.52" y="461" width="21.16" height="209.5" fill="url(#g9)"/><rect x="573.08" y="461" width="21.16" height="209.5" fill="url(#g10)"/><rect x="593.64" y="461" width="21.16" height="209.5" fill="url(#g11)"/><rect x="614.2" y="461" width="21.16" height="209.5" fill="url(#g12)"/><rect x="634.76" y="461" width="21.16" height="209.5" fill="url(#g13)"/><rect x="655.32" y="461" width="21.16" height="209.5" fill="url(#g14)"/><rect x="675.87" y="461" width="21.16" height="209.5" fill="url(#g15)"/><rect x="696.43" y="461" width="21.16" height="209.5" fill="url(#g16)"/><rect x="716.99" y="461" width="21.16" height="209.5" fill="url(#g17)"/><rect x="737.55" y="461" width="21.16" height="209.5" fill="url(#g18)"/><rect x="758.11" y="461" width="21.16" height="209.5" fill="url(#g19)"/><rect x="778.67" y="461" width="21.16" height="209.5" fill="url(#g20)"/><rect x="799.23" y="461" width="21.16" height="209.5" fill="url(#g21)"/><rect x="819.79" y="461" width="21.16" height="209.5" fill="url(#g22)"/><rect x="840.35" y="461" width="21.16" height="209.5" fill="url(#g23)"/><rect x="860.91" y="461" width="21.16" height="209.5" fill="url(#g24)"/><rect x="881.46" y="461" width="21.16" height="209.5" fill="url(#g25)"/><rect x="902.02" y="461" width="21.16" height="209.5" fill="url(#g26)"/><rect x="922.58" y="461" width="21.16" height="209.5" fill="url(#g27)"/><rect x="943.14" y="461" width="21.16" height="209.5" fill="url(#g28)"/><rect x="963.7" y="461" width="21.16" height="209.5" fill="url(#g29)"/><rect x="984.26" y="461" width="21.16" height="209.5" fill="url(#g30)"/><rect x="1004.82" y="461" width="21.16" height="209.5" fill="url(#g31)"/><rect x="1025.38" y="461" width="21.16" height="209.5" fill="url(#g32)"/><rect x="1045.94" y="461" width="21.16" height="209.5" fill="url(#g33)"/><rect x="1066.5" y="461" width="21.16" height="209.5" fill="url(#g34)"/><rect x="1087.05" y="461" width="21.16" height="209.5" fill="url(#g35)"/><rect x="1107.61" y="461" width="21.16" height="209.5" fill="url(#g36)"/><rect x="1128.17" y="461" width="21.16" height="209.5" fill="url(#g37)"/><rect x="1148.73" y="461" width="21.16" height="209.5" fill="url(#g38)"/><rect x="1169.29" y="461" width="21.16" height="209.5" fill="url(#g39)"/><rect x="1189.85" y="461" width="21.16" height="209.5" fill="url(#g40)"/><rect x="1210.41" y="461" width="21.16" height="209.5" fill="url(#g41)"/><rect x="1230.97" y="461" width="21.16" height="209.5" fill="url(#g42)"/><rect x="1251.53" y="461" width="21.16" height="209.5" fill="url(#g43)"/><rect x="1272.09" y="461" width="21.16" height="209.5" fill="url(#g44)"/><rect x="1292.64" y="461" width="21.16" height="209.5" fill="url(#g45)"/><rect x="1313.2" y="461" width="21.16" height="209.5" fill="url(#g46)"/><rect x="1333.76" y="461" width="21.16" height="209.5" fill="url(#g47)"/><rect x="1354.32" y="461" width="21.16" height="209.5" fill="url(#g48)"/><rect x="1374.88" y="461" width="21.16" height="209.5" fill="url(#g49)"/><rect x="1395.44" y="461" width="21.16" height="209.5" fill="url(#g50)"/><rect x="1416" y="461" width="21.16" height="209.5" fill="url(#g51)"/><rect x="1436.56" y="461" width="21.16" height="209.5" fill="url(#g52)"/><rect x="1457.12" y="461" width="21.16" height="209.5" fill="url(#g53)"/><rect x="1477.68" y="461" width="21.16" height="209.5" fill="url(#g54)"/><rect x="1498.23" y="461" width="21.16" height="209.5" fill="url(#g55)"/><rect x="1518.79" y="461" width="21.16" height="209.5" fill="url(#g55)"/><rect x="1539.35" y="461" width="21.16" height="209.5" fill="url(#g56)"/><rect x="1559.91" y="461" width="21.16" height="209.5" fill="url(#g57)"/><rect x="1580.47" y="461" width="21.16" height="209.5" fill="url(#g58)"/><rect x="1601.03" y="461" width="21.16" height="209.5" fill="url(#g59)"/><rect x="1621.59" y="461" width="21.16" height="209.5" fill="url(#g60)"/><rect x="1642.15" y="461" width="21.16" height="209.5" fill="url(#g61)"/><rect x="1662.71" y="461" width="21.16" height="209.5" fill="url(#g62)"/><rect x="1683.27" y="461" width="21.16" height="209.5" fill="url(#g63)"/><rect x="1703.82" y="461" width="21.16" height="209.5" fill="url(#g64)"/><rect x="1724.38" y="461" width="21.16" height="209.5" fill="url(#g64)"/><rect x="1744.94" y="461" width="69.13" height="209.5" fill="url(#g65)"/><rect x="1813.47" y="461" width="69.13" height="209.5" fill="url(#g66)"/><rect x="1882" y="461" width="69.13" height="209.5" fill="url(#g67)"/><rect x="1950.53" y="461" width="69.13" height="209.5" fill="url(#g67)"/></g></g>
<g clip-path="url(#cp132)"><g filter="url(#hb131)"><rect x="71.24" y="1301" width="69.12" height="209.3" fill="url(#g70)"/><rect x="139.76" y="1301" width="69.12" height="209.3" fill="url(#g70)"/><rect x="208.28" y="1301" width="69.12" height="209.3" fill="url(#g70)"/><rect x="276.8" y="1301" width="69.12" height="209.3" fill="url(#g70)"/><rect x="345.32" y="1301" width="21.16" height="209.3" fill="url(#g70)"/><rect x="365.88" y="1301" width="21.16" height="209.3" fill="url(#g70)"/><rect x="386.43" y="1301" width="21.16" height="209.3" fill="url(#g71)"/><rect x="406.99" y="1301" width="21.16" height="209.3" fill="url(#g72)"/><rect x="427.54" y="1301" width="21.16" height="209.3" fill="url(#g73)"/><rect x="448.1" y="1301" width="21.16" height="209.3" fill="url(#g74)"/><rect x="468.66" y="1301" width="21.16" height="209.3" fill="url(#g75)"/><rect x="489.21" y="1301" width="21.16" height="209.3" fill="url(#g76)"/><rect x="509.77" y="1301" width="21.16" height="209.3" fill="url(#g77)"/><rect x="530.32" y="1301" width="21.16" height="209.3" fill="url(#g78)"/><rect x="550.88" y="1301" width="21.16" height="209.3" fill="url(#g79)"/><rect x="571.44" y="1301" width="21.16" height="209.3" fill="url(#g80)"/><rect x="591.99" y="1301" width="21.16" height="209.3" fill="url(#g81)"/><rect x="612.55" y="1301" width="21.16" height="209.3" fill="url(#g82)"/><rect x="633.1" y="1301" width="21.16" height="209.3" fill="url(#g83)"/><rect x="653.66" y="1301" width="21.16" height="209.3" fill="url(#g84)"/><rect x="674.22" y="1301" width="21.16" height="209.3" fill="url(#g85)"/><rect x="694.77" y="1301" width="21.16" height="209.3" fill="url(#g86)"/><rect x="715.33" y="1301" width="21.16" height="209.3" fill="url(#g87)"/><rect x="735.88" y="1301" width="21.16" height="209.3" fill="url(#g88)"/><rect x="756.44" y="1301" width="21.16" height="209.3" fill="url(#g89)"/><rect x="777" y="1301" width="21.16" height="209.3" fill="url(#g90)"/><rect x="797.55" y="1301" width="21.16" height="209.3" fill="url(#g91)"/><rect x="818.11" y="1301" width="21.16" height="209.3" fill="url(#g92)"/><rect x="838.66" y="1301" width="21.16" height="209.3" fill="url(#g93)"/><rect x="859.22" y="1301" width="21.16" height="209.3" fill="url(#g94)"/><rect x="879.78" y="1301" width="21.16" height="209.3" fill="url(#g95)"/><rect x="900.33" y="1301" width="21.16" height="209.3" fill="url(#g96)"/><rect x="920.89" y="1301" width="21.16" height="209.3" fill="url(#g97)"/><rect x="941.44" y="1301" width="21.16" height="209.3" fill="url(#g98)"/><rect x="962" y="1301" width="21.16" height="209.3" fill="url(#g99)"/><rect x="982.56" y="1301" width="21.16" height="209.3" fill="url(#g100)"/><rect x="1003.11" y="1301" width="21.16" height="209.3" fill="url(#g101)"/><rect x="1023.67" y="1301" width="21.16" height="209.3" fill="url(#g102)"/><rect x="1044.22" y="1301" width="21.16" height="209.3" fill="url(#g103)"/><rect x="1064.78" y="1301" width="21.16" height="209.3" fill="url(#g104)"/><rect x="1085.34" y="1301" width="21.16" height="209.3" fill="url(#g105)"/><rect x="1105.89" y="1301" width="21.16" height="209.3" fill="url(#g106)"/><rect x="1126.45" y="1301" width="21.16" height="209.3" fill="url(#g107)"/><rect x="1147" y="1301" width="21.16" height="209.3" fill="url(#g108)"/><rect x="1167.56" y="1301" width="21.16" height="209.3" fill="url(#g109)"/><rect x="1188.12" y="1301" width="21.16" height="209.3" fill="url(#g110)"/><rect x="1208.67" y="1301" width="21.16" height="209.3" fill="url(#g111)"/><rect x="1229.23" y="1301" width="21.16" height="209.3" fill="url(#g112)"/><rect x="1249.78" y="1301" width="21.16" height="209.3" fill="url(#g113)"/><rect x="1270.34" y="1301" width="21.16" height="209.3" fill="url(#g114)"/><rect x="1290.9" y="1301" width="21.16" height="209.3" fill="url(#g115)"/><rect x="1311.45" y="1301" width="21.16" height="209.3" fill="url(#g116)"/><rect x="1332.01" y="1301" width="21.16" height="209.3" fill="url(#g117)"/><rect x="1352.56" y="1301" width="21.16" height="209.3" fill="url(#g118)"/><rect x="1373.12" y="1301" width="21.16" height="209.3" fill="url(#g118)"/><rect x="1393.68" y="1301" width="21.16" height="209.3" fill="url(#g119)"/><rect x="1414.23" y="1301" width="21.16" height="209.3" fill="url(#g119)"/><rect x="1434.79" y="1301" width="21.16" height="209.3" fill="url(#g120)"/><rect x="1455.34" y="1301" width="21.16" height="209.3" fill="url(#g121)"/><rect x="1475.9" y="1301" width="21.16" height="209.3" fill="url(#g122)"/><rect x="1496.46" y="1301" width="21.16" height="209.3" fill="url(#g123)"/><rect x="1517.01" y="1301" width="21.16" height="209.3" fill="url(#g124)"/><rect x="1537.57" y="1301" width="21.16" height="209.3" fill="url(#g125)"/><rect x="1558.12" y="1301" width="21.16" height="209.3" fill="url(#g126)"/><rect x="1578.68" y="1301" width="21.16" height="209.3" fill="url(#g127)"/><rect x="1599.24" y="1301" width="21.16" height="209.3" fill="url(#g128)"/><rect x="1619.79" y="1301" width="21.16" height="209.3" fill="url(#g129)"/><rect x="1640.35" y="1301" width="21.16" height="209.3" fill="url(#g130)"/><rect x="1660.9" y="1301" width="21.16" height="209.3" fill="url(#g130)"/><rect x="1681.46" y="1301" width="21.16" height="209.3" fill="url(#g130)"/><rect x="1702.02" y="1301" width="21.16" height="209.3" fill="url(#g130)"/><rect x="1722.57" y="1301" width="21.16" height="209.3" fill="url(#g130)"/><rect x="1743.13" y="1301" width="69.12" height="209.3" fill="url(#g130)"/><rect x="1811.65" y="1301" width="69.12" height="209.3" fill="url(#g130)"/><rect x="1880.17" y="1301" width="69.12" height="209.3" fill="url(#g130)"/><rect x="1948.69" y="1301" width="69.12" height="209.3" fill="url(#g130)"/></g></g>
<g clip-path="url(#cp137)"><g filter="url(#hot)"><rect x="260" y="12" width="420.5" height="317" fill="#000"/><ellipse cx="470.8" cy="160.2" rx="90" ry="57" fill="url(#rg134)" clip-path="url(#cp133)"/><ellipse cx="470.6" cy="160.6" rx="84.9" ry="53.1" fill="url(#rg136)" clip-path="url(#cp135)"/></g></g>
<g clip-path="url(#cp142)"><g filter="url(#hot)"><rect x="817" y="13.5" width="420.3" height="315.4" fill="#000"/><ellipse cx="1028" cy="235" rx="120" ry="54" fill="url(#rg138)"/><ellipse cx="1028" cy="204" rx="138" ry="36" fill="url(#rg139)"/><ellipse cx="1028" cy="198" rx="90" ry="48" fill="url(#rg140)"/><ellipse cx="1028" cy="175" rx="66" ry="69" fill="url(#rg141)"/></g></g>
<g clip-path="url(#cp146)"><g filter="url(#hot)"><rect x="1378" y="14" width="420" height="314.8" fill="#000"/><ellipse cx="1588" cy="252" rx="186" ry="144" fill="url(#rg143)"/><ellipse cx="1588" cy="212" rx="186" ry="72" fill="url(#rg144)"/><ellipse cx="1588" cy="206" rx="156" ry="42" fill="url(#rg145)"/></g></g>
<g clip-path="url(#cp153)"><g filter="url(#hot)"><rect x="260" y="852" width="420" height="314.5" fill="#000"/><ellipse cx="470.6" cy="1080" rx="135" ry="60" fill="url(#rg148)" clip-path="url(#cp147)"/><ellipse cx="470.6" cy="1001" rx="114" ry="90" fill="url(#rg149)" clip-path="url(#cp147)"/><ellipse cx="470.6" cy="999.5" rx="96" ry="58.5" fill="url(#rg150)" clip-path="url(#cp147)"/><ellipse cx="470.8" cy="1000.1" rx="93" ry="57" fill="url(#rg152)" clip-path="url(#cp151)"/></g></g>
<g clip-path="url(#cp158)"><g filter="url(#hot)"><rect x="815.1" y="854" width="422.3" height="314.4" fill="#000"/><ellipse cx="1027" cy="1090" rx="186" ry="114" fill="url(#rg154)"/><ellipse cx="1027" cy="1043" rx="135" ry="36" fill="url(#rg155)"/><ellipse cx="1027" cy="1038" rx="96" ry="48" fill="url(#rg156)"/><ellipse cx="1027" cy="1012" rx="72" ry="75" fill="url(#rg157)"/></g></g>
<g clip-path="url(#cp162)"><g filter="url(#hot)"><rect x="1376.1" y="854.3" width="421.9" height="314.5" fill="#000"/><ellipse cx="1588" cy="1100" rx="198" ry="150" fill="url(#rg159)"/><ellipse cx="1588" cy="1052" rx="180" ry="78" fill="url(#rg160)"/><ellipse cx="1588" cy="1050" rx="120" ry="39" fill="url(#rg161)"/></g></g>
<g filter="url(#hot)"><rect x="1990.6" y="491.1" width="42.6" height="597.7" fill="url(#cbg163)"/></g>
<rect x="434.6" y="138.3" width="72.5" height="43.4" fill="none" stroke="#3a3a3a" stroke-width="1.6"/>
<line x1="260" y1="223.3" x2="680.5" y2="223.3" stroke="#3a3a3a" stroke-width="1.6"/>
<rect x="1005.2" y="139.9" width="45.8" height="41.6" fill="none" stroke="#3a3a3a" stroke-width="1.6"/>
<rect x="959.9" y="181.5" width="134.5" height="41.8" fill="none" stroke="#3a3a3a" stroke-width="1.6"/>
<line x1="817" y1="223.3" x2="1237.3" y2="223.3" stroke="#3a3a3a" stroke-width="1.6"/>
<rect x="1503.8" y="182.2" width="167.9" height="41.1" fill="none" stroke="#3a3a3a" stroke-width="1.6"/>
<line x1="1378" y1="223.3" x2="1798" y2="223.3" stroke="#3a3a3a" stroke-width="1.6"/>
<rect x="434.6" y="977.8" width="71.9" height="42.2" fill="none" stroke="#3a3a3a" stroke-width="1.6"/>
<line x1="260" y1="1061.6" x2="680" y2="1061.6" stroke="#3a3a3a" stroke-width="1.6"/>
<rect x="999.6" y="980.4" width="55" height="41.1" fill="none" stroke="#3a3a3a" stroke-width="1.6"/>
<rect x="975" y="1021.5" width="102.2" height="41.4" fill="none" stroke="#3a3a3a" stroke-width="1.6"/>
<line x1="815.1" y1="1062.9" x2="1237.4" y2="1062.9" stroke="#3a3a3a" stroke-width="1.6"/>
<rect x="1503.8" y="1022" width="167.9" height="40.9" fill="none" stroke="#3a3a3a" stroke-width="1.6"/>
<line x1="1376.1" y1="1062.7" x2="1798" y2="1062.7" stroke="#3a3a3a" stroke-width="1.6"/>
<line x1="365.12" y1="12" x2="365.12" y2="16.5" stroke="#1a1a1a" stroke-width="1.6"/>
<line x1="365.12" y1="329" x2="365.12" y2="324.5" stroke="#1a1a1a" stroke-width="1.6"/>
<line x1="470.25" y1="12" x2="470.25" y2="16.5" stroke="#1a1a1a" stroke-width="1.6"/>
<line x1="470.25" y1="329" x2="470.25" y2="324.5" stroke="#1a1a1a" stroke-width="1.6"/>
<line x1="575.38" y1="12" x2="575.38" y2="16.5" stroke="#1a1a1a" stroke-width="1.6"/>
<line x1="575.38" y1="329" x2="575.38" y2="324.5" stroke="#1a1a1a" stroke-width="1.6"/>
<line x1="260" y1="117.63" x2="264.5" y2="117.63" stroke="#1a1a1a" stroke-width="1.6"/>
<line x1="680.5" y1="117.63" x2="676" y2="117.63" stroke="#1a1a1a" stroke-width="1.6"/>
<rect x="260" y="12" width="420.5" height="317" fill="none" stroke="#1a1a1a" stroke-width="2"/>
<line x1="922.08" y1="13.5" x2="922.08" y2="18" stroke="#1a1a1a" stroke-width="1.6"/>
<line x1="922.08" y1="328.9" x2="922.08" y2="324.4" stroke="#1a1a1a" stroke-width="1.6"/>
<line x1="1027.15" y1="13.5" x2="1027.15" y2="18" stroke="#1a1a1a" stroke-width="1.6"/>
<line x1="1027.15" y1="328.9" x2="1027.15" y2="324.4" stroke="#1a1a1a" stroke-width="1.6"/>
<line x1="1132.23" y1="13.5" x2="1132.23" y2="18" stroke="#1a1a1a" stroke-width="1.6"/>
<line x1="1132.23" y1="328.9" x2="1132.23" y2="324.4" stroke="#1a1a1a" stroke-width="1.6"/>
<line x1="817" y1="118.17" x2="821.5" y2="118.17" stroke="#1a1a1a" stroke-width="1.6"/>
<line x1="1237.3" y1="118.17" x2="1232.8" y2="118.17" stroke="#1a1a1a" stroke-width="1.6"/>
<rect x="817" y="13.5" width="420.3" height="315.4" fill="none" stroke="#1a1a1a" stroke-width="2"/>
<line x1="1483" y1="14" x2="1483" y2="18.5" stroke="#1a1a1a" stroke-width="1.6"/>
<line x1="1483" y1="328.8" x2="1483" y2="324.3" stroke="#1a1a1a" stroke-width="1.6"/>
<line x1="1588" y1="14" x2="1588" y2="18.5" stroke="#1a1a1a" stroke-width="1.6"/>
<line x1="1588" y1="328.8" x2="1588" y2="324.3" stroke="#1a1a1a" stroke-width="1.6"/>
<line x1="1693" y1="14" x2="1693" y2="18.5" stroke="#1a1a1a" stroke-width="1.6"/>
<line x1="1693" y1="328.8" x2="1693" y2="324.3" stroke="#1a1a1a" stroke-width="1.6"/>
<line x1="1378" y1="118.37" x2="1382.5" y2="118.37" stroke="#1a1a1a" stroke-width="1.6"/>
<line x1="1798" y1="118.37" x2="1793.5" y2="118.37" stroke="#1a1a1a" stroke-width="1.6"/>
<rect x="1378" y="14" width="420" height="314.8" fill="none" stroke="#1a1a1a" stroke-width="2"/>
<line x1="365" y1="852" x2="365" y2="856.5" stroke="#1a1a1a" stroke-width="1.6"/>
<line x1="365" y1="1166.5" x2="365" y2="1162" stroke="#1a1a1a" stroke-width="1.6"/>
<line x1="470" y1="852" x2="470" y2="856.5" stroke="#1a1a1a" stroke-width="1.6"/>
<line x1="470" y1="1166.5" x2="470" y2="1162" stroke="#1a1a1a" stroke-width="1.6"/>
<line x1="575" y1="852" x2="575" y2="856.5" stroke="#1a1a1a" stroke-width="1.6"/>
<line x1="575" y1="1166.5" x2="575" y2="1162" stroke="#1a1a1a" stroke-width="1.6"/>
<line x1="260" y1="956.77" x2="264.5" y2="956.77" stroke="#1a1a1a" stroke-width="1.6"/>
<line x1="680" y1="956.77" x2="675.5" y2="956.77" stroke="#1a1a1a" stroke-width="1.6"/>
<rect x="260" y="852" width="420" height="314.5" fill="none" stroke="#1a1a1a" stroke-width="2"/>
<line x1="920.67" y1="854" x2="920.67" y2="858.5" stroke="#1a1a1a" stroke-width="1.6"/>
<line x1="920.67" y1="1168.4" x2="920.67" y2="1163.9" stroke="#1a1a1a" stroke-width="1.6"/>
<line x1="1026.25" y1="854" x2="1026.25" y2="858.5" stroke="#1a1a1a" stroke-width="1.6"/>
<line x1="1026.25" y1="1168.4" x2="1026.25" y2="1163.9" stroke="#1a1a1a" stroke-width="1.6"/>
<line x1="1131.83" y1="854" x2="1131.83" y2="858.5" stroke="#1a1a1a" stroke-width="1.6"/>
<line x1="1131.83" y1="1168.4" x2="1131.83" y2="1163.9" stroke="#1a1a1a" stroke-width="1.6"/>
<line x1="815.1" y1="958.1" x2="819.6" y2="958.1" stroke="#1a1a1a" stroke-width="1.6"/>
<line x1="1237.4" y1="958.1" x2="1232.9" y2="958.1" stroke="#1a1a1a" stroke-width="1.6"/>
<rect x="815.1" y="854" width="422.3" height="314.4" fill="none" stroke="#1a1a1a" stroke-width="2"/>
<line x1="1481.57" y1="854.3" x2="1481.57" y2="858.8" stroke="#1a1a1a" stroke-width="1.6"/>
<line x1="1481.57" y1="1168.8" x2="1481.57" y2="1164.3" stroke="#1a1a1a" stroke-width="1.6"/>
<line x1="1587.05" y1="854.3" x2="1587.05" y2="858.8" stroke="#1a1a1a" stroke-width="1.6"/>
<line x1="1587.05" y1="1168.8" x2="1587.05" y2="1164.3" stroke="#1a1a1a" stroke-width="1.6"/>
<line x1="1692.53" y1="854.3" x2="1692.53" y2="858.8" stroke="#1a1a1a" stroke-width="1.6"/>
<line x1="1692.53" y1="1168.8" x2="1692.53" y2="1164.3" stroke="#1a1a1a" stroke-width="1.6"/>
<line x1="1376.1" y1="957.87" x2="1380.6" y2="957.87" stroke="#1a1a1a" stroke-width="1.6"/>
<line x1="1798" y1="957.87" x2="1793.5" y2="957.87" stroke="#1a1a1a" stroke-width="1.6"/>
<rect x="1376.1" y="854.3" width="421.9" height="314.5" fill="none" stroke="#1a1a1a" stroke-width="2"/>
<line x1="278.4" y1="463" x2="278.4" y2="479" stroke="#1a1a1a" stroke-width="2"/>
<line x1="278.4" y1="668.5" x2="278.4" y2="652.5" stroke="#1a1a1a" stroke-width="2"/>
<line x1="552.52" y1="463" x2="552.52" y2="479" stroke="#1a1a1a" stroke-width="2"/>
<line x1="552.52" y1="668.5" x2="552.52" y2="652.5" stroke="#1a1a1a" stroke-width="2"/>
<line x1="826.64" y1="463" x2="826.64" y2="479" stroke="#1a1a1a" stroke-width="2"/>
<line x1="826.64" y1="668.5" x2="826.64" y2="652.5" stroke="#1a1a1a" stroke-width="2"/>
<line x1="1100.76" y1="463" x2="1100.76" y2="479" stroke="#1a1a1a" stroke-width="2"/>
<line x1="1100.76" y1="668.5" x2="1100.76" y2="652.5" stroke="#1a1a1a" stroke-width="2"/>
<line x1="1374.88" y1="463" x2="1374.88" y2="479" stroke="#1a1a1a" stroke-width="2"/>
<line x1="1374.88" y1="668.5" x2="1374.88" y2="652.5" stroke="#1a1a1a" stroke-width="2"/>
<line x1="1649" y1="463" x2="1649" y2="479" stroke="#1a1a1a" stroke-width="2"/>
<line x1="1649" y1="668.5" x2="1649" y2="652.5" stroke="#1a1a1a" stroke-width="2"/>
<line x1="141" y1="530.7" x2="158" y2="530.7" stroke="#1a1a1a" stroke-width="2"/>
<line x1="1923" y1="530.7" x2="1906" y2="530.7" stroke="#1a1a1a" stroke-width="2"/>
<rect x="141" y="463" width="1782" height="205.5" fill="none" stroke="#1a1a1a" stroke-width="2"/>
<line x1="141" y1="599" x2="1923" y2="599" stroke="#3a3a3a" stroke-width="1.6"/>
<line x1="415.46" y1="571.68" x2="1923" y2="571.68" stroke="#3a3a3a" stroke-width="1.6"/>
<line x1="141" y1="571.68" x2="415.46" y2="571.68" stroke="#3a3a3a" stroke-width="1.6"/>
<line x1="141" y1="544.36" x2="1649" y2="544.36" stroke="#3a3a3a" stroke-width="1.6"/>
<line x1="1649" y1="544.36" x2="1649" y2="571.68" stroke="#3a3a3a" stroke-width="1.6"/>
<line x1="415.46" y1="571.68" x2="415.46" y2="599" stroke="#3a3a3a" stroke-width="1.6"/>
<line x1="276.8" y1="1303" x2="276.8" y2="1319" stroke="#1a1a1a" stroke-width="2"/>
<line x1="276.8" y1="1508.3" x2="276.8" y2="1492.3" stroke="#1a1a1a" stroke-width="2"/>
<line x1="550.88" y1="1303" x2="550.88" y2="1319" stroke="#1a1a1a" stroke-width="2"/>
<line x1="550.88" y1="1508.3" x2="550.88" y2="1492.3" stroke="#1a1a1a" stroke-width="2"/>
<line x1="824.96" y1="1303" x2="824.96" y2="1319" stroke="#1a1a1a" stroke-width="2"/>
<line x1="824.96" y1="1508.3" x2="824.96" y2="1492.3" stroke="#1a1a1a" stroke-width="2"/>
<line x1="1099.04" y1="1303" x2="1099.04" y2="1319" stroke="#1a1a1a" stroke-width="2"/>
<line x1="1099.04" y1="1508.3" x2="1099.04" y2="1492.3" stroke="#1a1a1a" stroke-width="2"/>
<line x1="1373.12" y1="1303" x2="1373.12" y2="1319" stroke="#1a1a1a" stroke-width="2"/>
<line x1="1373.12" y1="1508.3" x2="1373.12" y2="1492.3" stroke="#1a1a1a" stroke-width="2"/>
<line x1="1647.2" y1="1303" x2="1647.2" y2="1319" stroke="#1a1a1a" stroke-width="2"/>
<line x1="1647.2" y1="1508.3" x2="1647.2" y2="1492.3" stroke="#1a1a1a" stroke-width="2"/>
<line x1="139" y1="1370.7" x2="156" y2="1370.7" stroke="#1a1a1a" stroke-width="2"/>
<line x1="1921.3" y1="1370.7" x2="1904.3" y2="1370.7" stroke="#1a1a1a" stroke-width="2"/>
<rect x="139" y="1303" width="1782.3" height="205.3" fill="none" stroke="#1a1a1a" stroke-width="2"/>
<line x1="139" y1="1439" x2="1921.3" y2="1439" stroke="#3a3a3a" stroke-width="1.6"/>
<line x1="413.84" y1="1411.68" x2="1921.3" y2="1411.68" stroke="#3a3a3a" stroke-width="1.6"/>
<line x1="139" y1="1411.68" x2="413.84" y2="1411.68" stroke="#3a3a3a" stroke-width="1.6"/>
<line x1="139" y1="1384.36" x2="1647.2" y2="1384.36" stroke="#3a3a3a" stroke-width="1.6"/>
<line x1="1647.2" y1="1384.36" x2="1647.2" y2="1411.68" stroke="#3a3a3a" stroke-width="1.6"/>
<line x1="413.84" y1="1411.68" x2="413.84" y2="1439" stroke="#3a3a3a" stroke-width="1.6"/>
<rect x="1990.6" y="491.1" width="42.6" height="597.7" fill="none" stroke="#1a1a1a" stroke-width="2"/>
<line x1="76.2" y1="378.1" x2="76.2" y2="303.8" stroke="#000" stroke-width="2.2"/>
<path d="M76.2 289.8L83 304.8L69.4 304.8Z" fill="#000"/>
<line x1="76.2" y1="378.1" x2="151.9" y2="378.1" stroke="#000" stroke-width="2.2"/>
<path d="M165.9 378.1L150.9 384.9L150.9 371.3Z" fill="#000"/>
<line x1="76.2" y1="378.1" x2="22.05" y2="431.66" stroke="#000" stroke-width="2.2"/>
<path d="M12.1 441.5L17.98 426.12L27.55 435.79Z" fill="#000"/>
<text x="19.8" y="24.3" style="font-size:34px;font-weight:bold">a</text>
<text x="13" y="865.9" style="font-size:34px;font-weight:bold">b</text>
<text x="72.2" y="281" style="font-size:24px">z</text>
<text x="174" y="386.5" style="font-size:24px">y</text>
<text x="0.3" y="461.7" style="font-size:24px">x</text>
<text x="276.1" y="49.5" style="font-size:31px;fill:#e25d36;stroke:#e25d36">λ = 602 nm</text>
<text x="494" y="55.9" style="font-size:35px">y = -10 μm</text>
<text x="528.8" y="168" style="font-size:31.5px">Diamond</text>
<text x="528.9" y="305.4" style="font-size:31.5px">Sapphire</text>
<text x="232.4" y="25.5" style="font-size:35px" transform="matrix(1 0 0 1.0350 0 -0.892)">1</text>
<text x="200.6" y="131.2" style="font-size:35px;letter-spacing:0.66px" transform="matrix(1 0 0 1.0350 0 -4.592)">0.5</text>
<text x="225.6" y="234.6" style="font-size:35px" transform="matrix(1 0 0 1.0350 0 -8.211)">0</text>
<text x="186.8" y="338.5" style="font-size:35px;letter-spacing:0.35px" transform="matrix(1 0 0 1.0350 0 -11.847)">-0.5</text>
<text x="243.5" y="365.2" style="font-size:35px;letter-spacing:-2.96px" transform="matrix(1 0 0 1.0350 0 -12.782)">-1</text>
<text x="334.7" y="365.2" style="font-size:35px;letter-spacing:0.32px" transform="matrix(1 0 0 1.0350 0 -12.782)">-0.5</text>
<text x="463.3" y="365" style="font-size:35px" transform="matrix(1 0 0 1.0350 0 -12.775)">0</text>
<text x="550.8" y="365.5" style="font-size:35px;letter-spacing:1.36px" transform="matrix(1 0 0 1.0350 0 -12.792)">0.5</text>
<text x="673" y="365.5" style="font-size:35px" transform="matrix(1 0 0 1.0350 0 -12.792)">1</text>
<text x="424.3" y="399.5" style="font-size:35px">x (μm)</text>
<text transform="translate(178.6,217) rotate(-90)" style="font-size:35px">z (μm)</text>
<text x="1073.1" y="58.1" style="font-size:35px;letter-spacing:0.23px">y = -5 μm</text>
<text x="1104.3" y="170.7" style="font-size:31.5px;letter-spacing:0.16px">Diamond</text>
<text x="1145.2" y="216.3" style="font-size:31.5px;letter-spacing:-0.95px">AlN</text>
<text x="1107.1" y="306" style="font-size:31.5px">Sapphire</text>
<text x="788" y="25.8" style="font-size:35px" transform="matrix(1 0 0 1.0350 0 -0.903)">1</text>
<text x="755.6" y="131.2" style="font-size:35px;letter-spacing:0.86px" transform="matrix(1 0 0 1.0350 0 -4.592)">0.5</text>
<text x="782" y="234.8" style="font-size:35px" transform="matrix(1 0 0 1.0350 0 -8.218)">0</text>
<text x="744" y="338.2" style="font-size:35px;letter-spacing:0.52px" transform="matrix(1 0 0 1.0350 0 -11.837)">-0.5</text>
<text x="800.5" y="365.6" style="font-size:35px;letter-spacing:-2.66px" transform="matrix(1 0 0 1.0350 0 -12.796)">-1</text>
<text x="891.6" y="365.6" style="font-size:35px;letter-spacing:0.49px" transform="matrix(1 0 0 1.0350 0 -12.796)">-0.5</text>
<text x="1020.3" y="365.6" style="font-size:35px" transform="matrix(1 0 0 1.0350 0 -12.796)">0</text>
<text x="1108.6" y="365.6" style="font-size:35px;letter-spacing:0.76px" transform="matrix(1 0 0 1.0350 0 -12.796)">0.5</text>
<text x="1233.4" y="365.6" style="font-size:35px" transform="matrix(1 0 0 1.0350 0 -12.796)">1</text>
<text x="982.3" y="399.8" style="font-size:35px">x (μm)</text>
<text transform="translate(738.6,217.8) rotate(-90)" style="font-size:35px">z (μm)</text>
<text x="1629.9" y="56.7" style="font-size:35px;letter-spacing:0.37px">y = 1 μm</text>
<text x="1721.7" y="216" style="font-size:31.5px;letter-spacing:-0.90px">AlN</text>
<text x="1659.9" y="306.4" style="font-size:31.5px">Sapphire</text>
<text x="1345.7" y="25.4" style="font-size:35px" transform="matrix(1 0 0 1.0350 0 -0.889)">1</text>
<text x="1317" y="130.6" style="font-size:35px" transform="matrix(1 0 0 1.0350 0 -4.571)">0.5</text>
<text x="1342.7" y="234.5" style="font-size:35px" transform="matrix(1 0 0 1.0350 0 -8.207)">0</text>
<text x="1304.9" y="338.4" style="font-size:35px" transform="matrix(1 0 0 1.0350 0 -11.844)">-0.5</text>
<text x="1363" y="365.4" style="font-size:35px;letter-spacing:-5.76px" transform="matrix(1 0 0 1.0350 0 -12.789)">-1</text>
<text x="1452" y="365.4" style="font-size:35px;letter-spacing:0.52px" transform="matrix(1 0 0 1.0350 0 -12.789)">-0.5</text>
<text x="1581.6" y="365.4" style="font-size:35px" transform="matrix(1 0 0 1.0350 0 -12.789)">0</text>
<text x="1669.4" y="365.4" style="font-size:35px;letter-spacing:1.21px" transform="matrix(1 0 0 1.0350 0 -12.789)">0.5</text>
<text x="1789.9" y="365.4" style="font-size:35px" transform="matrix(1 0 0 1.0350 0 -12.789)">1</text>
<text x="1540.8" y="400" style="font-size:35px">x (μm)</text>
<text transform="translate(1297.5,217) rotate(-90)" style="font-size:35px">z (μm)</text>
<text x="1509.3" y="566.6" style="font-size:31.5px">Diamond</text>
<text x="1550" y="597" style="font-size:31.5px;letter-spacing:-0.80px">AlN</text>
<text x="1509.3" y="645.2" style="font-size:31.5px;letter-spacing:0.19px">Sapphire</text>
<text x="68.5" y="548.3" style="font-size:39px;letter-spacing:0.49px">0.5</text>
<text x="104.9" y="618.2" style="font-size:39px">0</text>
<text x="55.3" y="686.2" style="font-size:39px;letter-spacing:0.40px">-0.5</text>
<text x="246.6" y="725.6" style="font-size:39px;letter-spacing:0.36px">-10</text>
<text x="533.3" y="725.6" style="font-size:39px;letter-spacing:-0.29px">-8</text>
<text x="806.7" y="725.6" style="font-size:39px;letter-spacing:0.71px">-6</text>
<text x="1081.7" y="725.6" style="font-size:39px;letter-spacing:0.71px">-4</text>
<text x="1356" y="725.6" style="font-size:39px;letter-spacing:1.81px">-2</text>
<text x="1637.5" y="725.6" style="font-size:39px">0</text>
<text x="1912.4" y="725.6" style="font-size:39px">2</text>
<text x="970.4" y="784.3" style="font-size:38px">y (μm)</text>
<text transform="translate(37.2,630.7) rotate(-90)" style="font-size:38px;letter-spacing:0.25px">z (μm)</text>
<text x="1989" y="463.8" style="font-size:38px;letter-spacing:1.39px">|E|</text>
<text x="2054.3" y="507.4" style="font-size:38px">1</text>
<text x="2054.1" y="1102.3" style="font-size:38px">0</text>
<text x="275.9" y="887.4" style="font-size:31px;letter-spacing:0.20px;fill:#a81d17;stroke:#a81d17">λ = 737 nm</text>
<text x="491" y="894.1" style="font-size:35px;letter-spacing:0.25px">y = -10 μm</text>
<text x="527.9" y="1008.2" style="font-size:31.5px">Diamond</text>
<text x="528.9" y="1150.6" style="font-size:31.5px">Sapphire</text>
<text x="230.2" y="865.6" style="font-size:35px" transform="matrix(1 0 0 1.0350 0 -30.296)">1</text>
<text x="198.9" y="971.6" style="font-size:35px;letter-spacing:0.41px" transform="matrix(1 0 0 1.0350 0 -34.006)">0.5</text>
<text x="224.6" y="1073" style="font-size:35px" transform="matrix(1 0 0 1.0350 0 -37.555)">0</text>
<text x="185.8" y="1176.6" style="font-size:35px;letter-spacing:0.35px" transform="matrix(1 0 0 1.0350 0 -41.181)">-0.5</text>
<text x="242" y="1205.2" style="font-size:35px;letter-spacing:-1.66px" transform="matrix(1 0 0 1.0350 0 -42.182)">-1</text>
<text x="333" y="1205.2" style="font-size:35px;letter-spacing:0.39px" transform="matrix(1 0 0 1.0350 0 -42.182)">-0.5</text>
<text x="460.5" y="1205.2" style="font-size:35px" transform="matrix(1 0 0 1.0350 0 -42.182)">0</text>
<text x="549" y="1205.2" style="font-size:35px;letter-spacing:1.41px" transform="matrix(1 0 0 1.0350 0 -42.182)">0.5</text>
<text x="671.3" y="1205.2" style="font-size:35px" transform="matrix(1 0 0 1.0350 0 -42.182)">1</text>
<text x="423.6" y="1238.5" style="font-size:35px">x (μm)</text>
<text transform="translate(178,1057.1) rotate(-90)" style="font-size:35px">z (μm)</text>
<text x="1072" y="896" style="font-size:35px">y = -6 μm</text>
<text x="1104" y="1008" style="font-size:31.5px;letter-spacing:0.18px">Diamond</text>
<text x="1144.9" y="1054.2" style="font-size:31.5px;letter-spacing:-0.50px">AlN</text>
<text x="1107" y="1150.5" style="font-size:31.5px">Sapphire</text>
<text x="786" y="865" style="font-size:35px" transform="matrix(1 0 0 1.0350 0 -30.275)">1</text>
<text x="753.6" y="970.6" style="font-size:35px;letter-spacing:0.86px" transform="matrix(1 0 0 1.0350 0 -33.971)">0.5</text>
<text x="780" y="1074" style="font-size:35px" transform="matrix(1 0 0 1.0350 0 -37.590)">0</text>
<text x="742" y="1177" style="font-size:35px;letter-spacing:0.52px" transform="matrix(1 0 0 1.0350 0 -41.195)">-0.5</text>
<text x="798.5" y="1206" style="font-size:35px;letter-spacing:-2.66px" transform="matrix(1 0 0 1.0350 0 -42.210)">-1</text>
<text x="889.6" y="1206" style="font-size:35px;letter-spacing:0.49px" transform="matrix(1 0 0 1.0350 0 -42.210)">-0.5</text>
<text x="1018.3" y="1206" style="font-size:35px" transform="matrix(1 0 0 1.0350 0 -42.210)">0</text>
<text x="1106.6" y="1206" style="font-size:35px;letter-spacing:0.76px" transform="matrix(1 0 0 1.0350 0 -42.210)">0.5</text>
<text x="1231.4" y="1206" style="font-size:35px" transform="matrix(1 0 0 1.0350 0 -42.210)">1</text>
<text x="980.8" y="1239.5" style="font-size:35px">x (μm)</text>
<text transform="translate(736.6,1057) rotate(-90)" style="font-size:35px">z (μm)</text>
<text x="1628" y="895.5" style="font-size:35px;letter-spacing:0.32px">y = 1 μm</text>
<text x="1721.7" y="1055" style="font-size:31.5px;letter-spacing:-0.90px">AlN</text>
<text x="1659.9" y="1151" style="font-size:31.5px">Sapphire</text>
<text x="1344" y="865" style="font-size:35px" transform="matrix(1 0 0 1.0350 0 -30.275)">1</text>
<text x="1315" y="970" style="font-size:35px" transform="matrix(1 0 0 1.0350 0 -33.950)">0.5</text>
<text x="1341" y="1073.5" style="font-size:35px" transform="matrix(1 0 0 1.0350 0 -37.572)">0</text>
<text x="1303" y="1177" style="font-size:35px" transform="matrix(1 0 0 1.0350 0 -41.195)">-0.5</text>
<text x="1361" y="1205" style="font-size:35px;letter-spacing:-5.66px" transform="matrix(1 0 0 1.0350 0 -42.175)">-1</text>
<text x="1450" y="1205" style="font-size:35px;letter-spacing:0.52px" transform="matrix(1 0 0 1.0350 0 -42.175)">-0.5</text>
<text x="1579.6" y="1205" style="font-size:35px" transform="matrix(1 0 0 1.0350 0 -42.175)">0</text>
<text x="1667.4" y="1205" style="font-size:35px;letter-spacing:1.21px" transform="matrix(1 0 0 1.0350 0 -42.175)">0.5</text>
<text x="1788" y="1205" style="font-size:35px" transform="matrix(1 0 0 1.0350 0 -42.175)">1</text>
<text x="1539" y="1239" style="font-size:35px">x (μm)</text>
<text transform="translate(1295.7,1056.5) rotate(-90)" style="font-size:35px">z (μm)</text>
<text x="1509.7" y="1408.2" style="font-size:31.5px">Diamond</text>
<text x="1549.9" y="1439.4" style="font-size:31.5px;letter-spacing:-0.65px">AlN</text>
<text x="1510.3" y="1488" style="font-size:31.5px">Sapphire</text>
<text x="104" y="1321" style="font-size:39px">1</text>
<text x="68.9" y="1388.3" style="font-size:39px;letter-spacing:0.29px">0.5</text>
<text x="102.7" y="1457" style="font-size:39px">0</text>
<text x="53.2" y="1526.8" style="font-size:39px;letter-spacing:0.26px">-0.5</text>
<text x="244.9" y="1564.3" style="font-size:39px;letter-spacing:0.41px">-10</text>
<text x="531.3" y="1564.3" style="font-size:39px;letter-spacing:-0.29px">-8</text>
<text x="804.7" y="1564.3" style="font-size:39px;letter-spacing:0.71px">-6</text>
<text x="1079.7" y="1564.3" style="font-size:39px;letter-spacing:0.71px">-4</text>
<text x="1354" y="1564.3" style="font-size:39px;letter-spacing:1.81px">-2</text>
<text x="1635.5" y="1564.3" style="font-size:39px">0</text>
<text x="1911" y="1564.3" style="font-size:39px">2</text>
<text x="968.4" y="1622.6" style="font-size:38px">y (μm)</text>
<text transform="translate(36.6,1471.5) rotate(-90)" style="font-size:38px;letter-spacing:0.55px">z (μm)</text>
</svg>
</body></html>
